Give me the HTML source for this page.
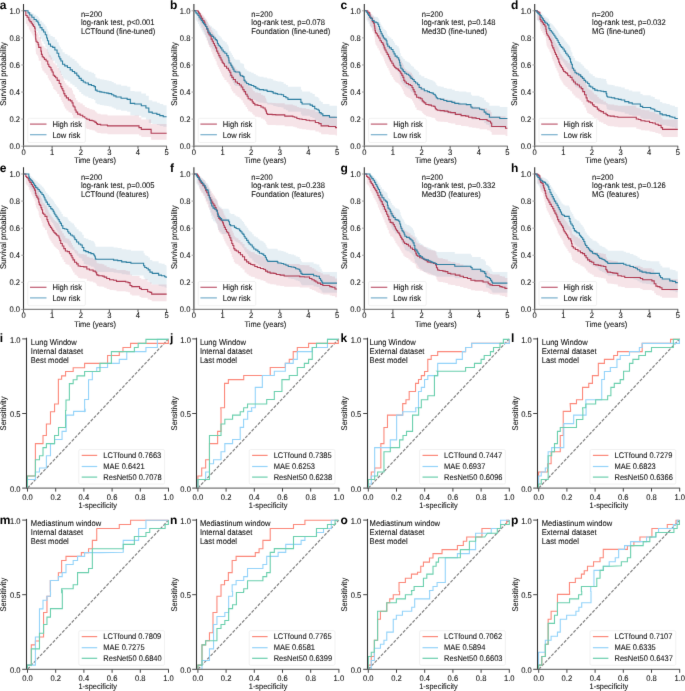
<!DOCTYPE html>
<html><head><meta charset="utf-8"><style>html,body{margin:0;padding:0;background:#fff;width:685px;height:691px;overflow:hidden;position:relative}text{font-family:"Liberation Sans",sans-serif;text-rendering:geometricPrecision}text.n{stroke:#111;stroke-width:0.08px}</style></head><body>
<svg xmlns="http://www.w3.org/2000/svg" width="685" height="691" viewBox="0 0 685 691" style="position:absolute;left:0;top:0;will-change:transform" font-family='"Liberation Sans", sans-serif'>
<defs><filter id="bl" x="0" y="0" width="685" height="691" filterUnits="userSpaceOnUse" color-interpolation-filters="sRGB"><feConvolveMatrix order="3" kernelMatrix="0.0072 0.0847 0.0072 0.0847 1 0.0847 0.0072 0.0847 0.0072" divisor="1.3673" edgeMode="duplicate" preserveAlpha="true"/></filter></defs>
<rect width="685" height="691" fill="#fff"/>
<g filter="url(#bl)">
<rect width="685" height="691" fill="#fff"/>
<path d="M23.53,10.80H27.48V10.80H28.02V11.21H28.57V11.21H29.67V12.19H30.77V12.19H31.86V13.50H32.94V13.50H34.05V14.86H35.15V14.86H36.24V15.96H37.32V15.96H37.88V17.09H38.44V17.09H38.71V18.66H38.98V18.66H40.07V20.69H41.16V20.69H41.99V22.47H42.82V22.47H43.63V24.18H44.45V24.18H45.28V26.37H46.11V26.37H46.65V29.05H47.20V29.05H47.47V31.33H47.74V31.33H48.56V34.22H49.37V34.22H50.47V36.10H51.58V36.10H52.68V37.05H53.78V37.05H54.87V39.43H55.96V39.43H57.06V42.33H58.16V42.33H58.70V45.39H59.25V45.39H59.80V47.36H60.90V49.35H61.45V49.35H62.54V52.36H63.63V52.36H64.73V53.88H65.83V53.88H67.47V55.41H69.12V55.41H70.21V57.58H71.30V57.58H72.40V59.12H73.50V59.12H74.59V60.67H75.67V60.67H76.78V62.75H77.88V62.75H78.26V63.80H78.65V63.80H79.17V65.77H79.68V65.77H81.21V67.74H82.74V67.74H83.26V69.33H83.77V69.33H85.30V70.27H86.84V70.27H88.37V71.87H89.90V71.87H91.44V72.81H92.99V72.81H94.01V73.88H95.02V73.88H95.14V73.88H95.42V77.40H95.71V77.40H96.05V77.40H97.07V78.49H98.08V78.49H99.79V79.17H101.49V79.17H101.83V79.44H102.18V79.44H104.22V79.99H106.27V79.99H106.77V80.40H107.27V80.40H108.82V80.95H110.36V80.95H111.69V82.05H113.02V82.05H113.74V83.15H114.45V83.15H116.04V84.40H117.63V84.40H121.09V85.65H124.56V85.65H127.16V86.76H129.77V86.76H130.34V90.98H130.91V90.98H134.66V91.55H138.41V91.55H141.30V93.39H144.19V93.39H145.92V95.83H147.65V95.83H148.81V100.16H149.97V100.16H152.28V101.48H154.58V101.48H156.88V102.65H159.19V102.65H159.76V103.98H160.33V103.98H163.22V105.17H166.11V105.17H166.60V126.81H166.11V126.81H163.22V125.91H160.33V125.91H159.76V124.88H159.19V124.88H156.88V123.97H154.58V123.97H152.28V122.93H149.97V122.93H148.81V119.42H147.65V119.42H145.92V117.40H144.19V117.40H141.30V115.85H138.41V115.85H134.66V115.37H130.91V115.37H130.34V111.73H129.77V111.73H127.16V110.75H124.56V110.75H121.09V109.64H117.63V109.64H116.04V108.53H114.45V108.53H113.74V107.54H113.02V107.54H111.69V106.54H110.36V106.54H108.82V106.04H107.27V106.04H106.77V105.66H106.27V105.66H104.22V105.16H102.18V105.16H101.83V104.91H101.49V104.91H99.79V104.28H98.08V104.28H97.07V103.28H96.05V103.28H95.71V103.28H95.42V99.98H95.14V99.98H95.02V99.98H94.01V98.95H92.99V98.95H91.44V98.06H89.90V98.06H88.37V96.51H86.84V96.51H85.30V95.61H83.77V95.61H83.26V94.05H82.74V94.05H81.21V92.09H79.68V92.09H79.17V90.12H78.65V90.12H78.26V89.07H77.88V89.07H76.78V86.95H75.67V86.95H74.59V85.35H73.50V85.35H72.40V83.74H71.30V83.74H70.21V81.46H69.12V81.46H67.47V79.83H65.83V79.83H64.73V78.20H63.63V78.20H62.54V74.91H61.45V74.91H60.90V72.70H59.80V70.47H59.25V70.47H58.70V66.96H58.16V66.96H57.06V63.56H55.96V63.56H54.87V60.69H53.78V60.69H52.68V59.54H51.58V59.54H50.47V57.21H49.37V57.21H48.56V53.54H47.74V53.54H47.47V50.57H47.20V50.57H46.65V46.95H46.11V46.95H45.28V43.89H44.45V43.89H43.63V41.41H42.82V41.41H41.99V38.74H41.16V38.74H40.07V35.53H38.98V35.53H38.71V32.92H38.44V32.92H37.88V30.93H37.32V30.93H36.24V28.91H35.15V28.91H34.05V26.15H32.94V26.15H31.86V23.18H30.77V23.18H29.67V20.57H28.57V20.57H28.02V10.80H27.48V10.80H23.53Z" fill="#3a86aa" fill-opacity="0.13" stroke="none"/>
<path d="M23.53,10.80H25.82V10.80H25.82V12.48H27.19V13.50H28.57V13.50H28.84V15.22H29.11V15.22H29.94V16.33H30.77V16.33H31.31V17.48H31.86V17.48H32.40V18.66H32.94V18.66H33.49V19.87H34.03V19.87H34.59V21.10H35.15V21.10H35.15V23.75H35.42V26.37H35.69V26.37H35.69V29.96H35.96V31.79H36.24V31.79H37.05V32.83H37.87V32.83H38.15V34.69H38.44V34.69H38.71V37.05H38.98V37.05H40.61V37.05H40.89V40.39H41.16V40.39H41.43V43.30H41.70V43.30H42.26V45.39H42.82V45.39H43.36V46.37H43.91V46.37H44.45V47.86H44.99V47.86H46.10V49.35H47.20V49.35H47.74V52.36H48.28V52.36H48.83V54.39H49.37V54.39H49.93V55.41H50.49V55.41H51.03V57.58H51.58V57.58H52.12V59.64H52.66V59.64H53.22V62.75H53.78V62.75H54.47V63.80H55.15V63.80H55.65V65.24H56.16V65.24H57.19V67.74H58.22V67.74H59.23V70.80H60.25V70.80H60.76V73.88H61.28V73.88H61.79V75.90H62.31V75.90H62.81V77.94H63.31V77.94H63.83V80.95H64.34V80.95H64.86V83.15H65.37V83.15H66.39V85.23H67.40V85.23H68.43V87.32H69.46V87.32H70.48V88.30H71.50V88.30H72.01V90.41H72.53V90.41H73.04V93.68H73.56V93.68H74.06V94.82H74.56V94.82H75.07V97.99H75.59V97.99H76.10V100.16H76.62V100.16H77.63V102.36H78.65V102.36H80.20V103.54H81.74V103.54H82.76V105.17H83.77V105.17H84.79V106.95H85.81V106.95H86.84V108.00H87.87V108.00H89.40V109.21H90.93V109.21H92.17V109.66H93.42V109.66H93.70V110.27H93.99V110.27H95.02V111.48H96.05V111.48H96.47V112.86H96.88V112.86H97.48V113.78H98.08V113.78H100.65V114.40H103.21V114.40H107.27V114.40H107.29V114.86H107.30V114.86H107.57V115.49H107.84V115.49H138.41V115.49H139.00V117.52H139.58V117.52H141.31V119.58H143.05V119.58H149.97V119.58H151.12V124.11H152.26V124.11H166.69V124.11H166.60V139.65H166.69V139.65H152.26V139.65H151.12V136.91H149.97V136.91H143.05V136.91H141.31V135.58H139.58V135.58H139.00V134.23H138.41V134.23H107.84V134.23H107.57V133.81H107.30V133.81H107.29V133.49H107.27V133.49H103.21V133.49H100.65V133.07H98.08V133.07H97.48V132.43H96.88V132.43H96.47V131.46H96.05V131.46H95.02V130.59H93.99V130.59H93.70V130.15H93.42V130.15H92.17V129.82H90.93V129.82H89.40V128.94H87.87V128.94H86.84V128.16H85.81V128.16H84.79V126.81H83.77V126.81H82.76V125.57H81.74V125.57H80.20V124.65H78.65V124.65H77.63V122.93H76.62V122.93H76.10V121.18H75.59V121.18H75.07V118.59H74.56V118.59H74.06V117.64H73.56V117.64H73.04V114.89H72.53V114.89H72.01V113.07H71.50V113.07H70.48V112.22H69.46V112.22H68.43V110.38H67.40V110.38H66.39V108.53H65.37V108.53H64.86V106.54H64.34V106.54H63.83V103.78H63.31V103.78H62.81V101.88H62.31V101.88H61.79V99.98H61.28V99.98H60.76V97.03H60.25V97.03H59.23V94.05H58.22V94.05H57.19V91.57H56.16V91.57H55.65V90.12H55.15V90.12H54.47V89.07H53.78V89.07H53.22V85.88H52.66V85.88H52.12V83.74H51.58V83.74H51.03V81.46H50.49V81.46H49.93V80.37H49.37V80.37H48.83V78.20H48.28V78.20H47.74V74.91H47.20V74.91H46.10V73.25H44.99V73.25H44.45V71.59H43.91V71.59H43.36V70.47H42.82V70.47H42.26V68.09H41.70V68.09H41.43V64.70H41.16V64.70H40.89V60.69H40.61V60.69H38.98V60.69H38.71V57.80H38.44V57.80H38.15V55.46H37.87V55.46H37.05V54.14H36.24V54.14H35.96V51.76H35.69V46.95H35.69V46.95H35.42V43.27H35.15V39.37H35.15V39.37H34.59V37.46H34.03V37.46H33.49V35.53H32.94V35.53H32.40V33.58H31.86V33.58H31.31V31.60H30.77V31.60H29.94V29.58H29.11V29.58H28.84V26.15H28.57V26.15H27.19V23.88H25.82V10.80H25.82V10.80H23.53Z" fill="#c0405a" fill-opacity="0.14" stroke="none"/>
<path d="M23.53,10.80H25.82V10.80H25.82V15.54H27.19V17.30H28.57V17.30H28.84V20.01H29.11V20.01H29.94V21.63H30.77V21.63H31.31V23.26H31.86V23.26H32.40V24.88H32.94V24.88H33.49V26.51H34.03V26.51H34.59V28.13H35.15V28.13H35.15V31.52H35.42V34.77H35.69V34.77H35.69V39.10H35.96V41.26H36.24V41.26H37.05V42.48H37.87V42.48H38.15V44.65H38.44V44.65H38.71V47.36H38.98V47.36H40.61V47.36H40.89V51.15H41.16V51.15H41.43V54.40H41.70V54.40H42.26V56.70H42.82V56.70H43.36V57.78H43.91V57.78H44.45V59.41H44.99V59.41H46.10V61.03H47.20V61.03H47.74V64.28H48.28V64.28H48.83V66.45H49.37V66.45H49.93V67.53H50.49V67.53H51.03V69.83H51.58V69.83H52.12V72.00H52.66V72.00H53.22V75.25H53.78V75.25H54.47V76.33H55.15V76.33H55.65V77.82H56.16V77.82H57.19V80.40H58.22V80.40H59.23V83.51H60.25V83.51H60.76V86.62H61.28V86.62H61.79V88.65H62.31V88.65H62.81V90.69H63.31V90.69H63.83V93.66H64.34V93.66H64.86V95.83H65.37V95.83H66.39V97.86H67.40V97.86H68.43V99.89H69.46V99.89H70.48V100.84H71.50V100.84H72.01V102.87H72.53V102.87H73.04V105.99H73.56V105.99H74.06V107.07H74.56V107.07H75.07V110.05H75.59V110.05H76.10V112.08H76.62V112.08H77.63V114.11H78.65V114.11H80.20V115.19H81.74V115.19H82.76V116.68H83.77V116.68H84.79V118.31H85.81V118.31H86.84V119.26H87.87V119.26H89.40V120.34H90.93V120.34H92.17V120.74H93.42V120.74H93.70V121.29H93.99V121.29H95.02V122.37H96.05V122.37H96.47V123.59H96.88V123.59H97.48V124.40H98.08V124.40H100.65V124.94H103.21V124.94H107.27V124.94H107.29V125.35H107.30V125.35H107.57V125.89H107.84V125.89H138.41V125.89H139.00V127.65H139.58V127.65H141.31V129.41H143.05V129.41H149.97V129.41H151.12V133.20H152.26V133.20H166.69V133.20H166.60" fill="none" stroke="#b03a52" stroke-width="1.1"/>
<path d="M23.53,10.80H27.48V10.80H28.02V12.83H28.57V12.83H29.67V15.00H30.77V15.00H31.86V17.30H32.94V17.30H34.05V19.47H35.15V19.47H36.24V21.09H37.32V21.09H37.88V22.72H38.44V22.72H38.71V24.88H38.98V24.88H40.07V27.59H41.16V27.59H41.99V29.89H42.82V29.89H43.63V32.06H44.45V32.06H45.28V34.77H46.11V34.77H46.65V38.02H47.20V38.02H47.47V40.72H47.74V40.72H48.56V44.11H49.37V44.11H50.47V46.27H51.58V46.27H52.68V47.36H53.78V47.36H54.87V50.07H55.96V50.07H57.06V53.32H58.16V53.32H58.70V56.70H59.25V56.70H59.80V58.87H60.90V61.03H61.45V61.03H62.54V64.28H63.63V64.28H64.73V65.91H65.83V65.91H67.47V67.53H69.12V67.53H70.21V69.83H71.30V69.83H72.40V71.46H73.50V71.46H74.59V73.08H75.67V73.08H76.78V75.25H77.88V75.25H78.26V76.33H78.65V76.33H79.17V78.36H79.68V78.36H81.21V80.40H82.74V80.40H83.26V82.02H83.77V82.02H85.30V82.97H86.84V82.97H88.37V84.59H89.90V84.59H91.44V85.54H92.99V85.54H94.01V86.62H95.02V86.62H95.14V86.62H95.42V90.14H95.71V90.14H96.05V90.14H97.07V91.23H98.08V91.23H99.79V91.90H101.49V91.90H101.83V92.18H102.18V92.18H104.22V92.72H106.27V92.72H106.77V93.12H107.27V93.12H108.82V93.66H110.36V93.66H111.69V94.75H113.02V94.75H113.74V95.83H114.45V95.83H116.04V97.05H117.63V97.05H121.09V98.27H124.56V98.27H127.16V99.35H129.77V99.35H130.34V103.41H130.91V103.41H134.66V103.96H138.41V103.96H141.30V105.72H144.19V105.72H145.92V108.02H147.65V108.02H148.81V112.08H149.97V112.08H152.28V113.30H154.58V113.30H156.88V114.38H159.19V114.38H159.76V115.60H160.33V115.60H163.22V116.68H166.11V116.68H166.60" fill="none" stroke="#2c7ea0" stroke-width="1.1"/>
<line x1="23.50" y1="4.03" x2="23.50" y2="146.70" stroke="#333" stroke-width="1.1" />
<line x1="23.00" y1="146.20" x2="167.00" y2="146.20" stroke="#888" stroke-width="1.2" />
<line x1="21.20" y1="146.20" x2="23.50" y2="146.20" stroke="#999" stroke-width="0.9" />
<text class="n" transform="translate(20.00,148.90) scale(1,1.08)" font-size="7.6" text-anchor="end" font-weight="normal" fill="#111" >0.0</text>
<line x1="21.20" y1="119.12" x2="23.50" y2="119.12" stroke="#999" stroke-width="0.9" />
<text class="n" transform="translate(20.00,121.82) scale(1,1.08)" font-size="7.6" text-anchor="end" font-weight="normal" fill="#111" >0.2</text>
<line x1="21.20" y1="92.04" x2="23.50" y2="92.04" stroke="#999" stroke-width="0.9" />
<text class="n" transform="translate(20.00,94.74) scale(1,1.08)" font-size="7.6" text-anchor="end" font-weight="normal" fill="#111" >0.4</text>
<line x1="21.20" y1="64.96" x2="23.50" y2="64.96" stroke="#999" stroke-width="0.9" />
<text class="n" transform="translate(20.00,67.66) scale(1,1.08)" font-size="7.6" text-anchor="end" font-weight="normal" fill="#111" >0.6</text>
<line x1="21.20" y1="37.88" x2="23.50" y2="37.88" stroke="#999" stroke-width="0.9" />
<text class="n" transform="translate(20.00,40.58) scale(1,1.08)" font-size="7.6" text-anchor="end" font-weight="normal" fill="#111" >0.8</text>
<line x1="21.20" y1="10.80" x2="23.50" y2="10.80" stroke="#999" stroke-width="0.9" />
<text class="n" transform="translate(20.00,13.50) scale(1,1.08)" font-size="7.6" text-anchor="end" font-weight="normal" fill="#111" >1.0</text>
<line x1="23.50" y1="146.20" x2="23.50" y2="148.80" stroke="#444" stroke-width="0.9" />
<text class="n" transform="translate(23.50,154.80) scale(1,1.08)" font-size="7.6" text-anchor="middle" font-weight="normal" fill="#111" >0</text>
<line x1="52.12" y1="146.20" x2="52.12" y2="148.80" stroke="#444" stroke-width="0.9" />
<text class="n" transform="translate(52.12,154.80) scale(1,1.08)" font-size="7.6" text-anchor="middle" font-weight="normal" fill="#111" >1</text>
<line x1="80.74" y1="146.20" x2="80.74" y2="148.80" stroke="#444" stroke-width="0.9" />
<text class="n" transform="translate(80.74,154.80) scale(1,1.08)" font-size="7.6" text-anchor="middle" font-weight="normal" fill="#111" >2</text>
<line x1="109.36" y1="146.20" x2="109.36" y2="148.80" stroke="#444" stroke-width="0.9" />
<text class="n" transform="translate(109.36,154.80) scale(1,1.08)" font-size="7.6" text-anchor="middle" font-weight="normal" fill="#111" >3</text>
<line x1="137.98" y1="146.20" x2="137.98" y2="148.80" stroke="#444" stroke-width="0.9" />
<text class="n" transform="translate(137.98,154.80) scale(1,1.08)" font-size="7.6" text-anchor="middle" font-weight="normal" fill="#111" >4</text>
<line x1="166.60" y1="146.20" x2="166.60" y2="148.80" stroke="#444" stroke-width="0.9" />
<text class="n" transform="translate(166.60,154.80) scale(1,1.08)" font-size="7.6" text-anchor="middle" font-weight="normal" fill="#111" >5</text>
<text class="n" transform="translate(95.05,163.40) scale(1,1.08)" font-size="7.5" text-anchor="middle" font-weight="normal" fill="#111" >Time (years)</text>
<text transform="translate(6.10,74.00) rotate(-90) scale(1,1.08)" class="n" font-size="7.6" text-anchor="middle" fill="#111">Survival probability</text>
<text class="n" transform="translate(80.90,16.60) scale(1,1.08)" font-size="7.6" text-anchor="start" font-weight="normal" fill="#111" >n=200</text>
<text class="n" transform="translate(80.90,24.90) scale(1,1.08)" font-size="7.6" text-anchor="start" font-weight="normal" fill="#111" >log-rank test, p&lt;0.001</text>
<text class="n" transform="translate(80.90,33.60) scale(1,1.08)" font-size="7.6" text-anchor="start" font-weight="normal" fill="#111" >LCTfound (fine-tuned)</text>
<rect x="27.80" y="118.30" width="57.6" height="24.2" rx="1.5" fill="#fff" fill-opacity="0.8" stroke="#ebebeb" stroke-width="0.7"/>
<line x1="30.00" y1="124.10" x2="46.50" y2="124.10" stroke="#bf5c72" stroke-width="1.2" />
<line x1="30.00" y1="134.70" x2="46.50" y2="134.70" stroke="#78afcc" stroke-width="1.2" />
<text class="n" transform="translate(52.40,126.90) scale(1,1.08)" font-size="7.6" text-anchor="start" font-weight="normal" fill="#111" >High risk</text>
<text class="n" transform="translate(52.40,137.50) scale(1,1.08)" font-size="7.6" text-anchor="start" font-weight="normal" fill="#111" >Low risk</text>
<text transform="translate(-0.30,8.90) scale(1,1.0)" font-size="12.0" text-anchor="start" font-weight="bold" fill="#000" >a</text>
<path d="M193.90,10.80H195.27V10.80H195.83V11.21H196.39V11.21H196.93V11.66H197.48V11.66H198.02V12.48H198.57V12.48H199.11V13.50H199.65V13.50H200.21V14.51H200.77V14.51H201.31V15.59H201.86V15.59H202.40V16.71H202.94V16.71H203.49V17.87H204.03V17.87H204.59V18.66H205.15V18.66H205.69V19.87H206.24V19.87H206.78V21.52H207.32V21.52H207.88V23.32H208.44V23.32H208.98V25.05H209.53V25.05H210.34V26.37H211.16V26.37H211.99V27.70H212.82V27.70H213.63V29.05H214.45V29.05H215.28V30.41H216.11V30.41H216.65V31.33H217.20V31.33H217.47V33.76H217.74V33.76H218.28V35.16H218.83V35.16H219.39V36.10H219.94V36.10H220.49V37.52H221.03V37.52H221.85V39.43H222.66V39.43H223.22V40.88H223.78V40.88H224.87V42.33H225.95V42.33H226.78V44.40H227.61V44.40H228.16V46.37H228.70V46.37H228.83V48.79H229.09V51.23H229.22V51.23H229.79V51.23H230.33V51.23H230.81V53.12H231.28V53.12H231.36V53.37H231.45V53.37H231.88V55.02H232.31V55.02H232.54V55.02H232.92V56.94H233.31V56.94H233.62V56.94H233.98V58.87H234.34V58.87H234.71V58.87H235.27V59.64H235.83V59.64H237.40V59.64H239.12V59.64H239.29V59.90H239.46V59.90H239.84V61.71H240.21V61.71H240.35V63.28H240.49V63.28H241.29V63.28H242.40V63.80H243.50V63.80H243.53V64.32H243.56V64.32H244.06V67.74H244.56V67.74H245.07V69.33H245.59V69.33H246.62V70.80H247.65V70.80H248.66V71.87H249.68V71.87H251.21V72.81H252.74V72.81H253.77V73.88H254.80V73.88H255.82V75.36H256.84V75.36H257.87V76.31H258.90V76.31H259.43V76.85H259.95V76.85H261.96V76.85H263.49V77.40H265.02V77.40H266.88V77.40H266.98V77.94H267.08V77.94H267.27V78.62H267.45V78.62H270.14V78.62H271.16V78.90H272.18V78.90H272.40V79.17H272.63V79.17H273.22V80.40H273.81V80.40H274.24V80.40H275.75V80.95H277.27V80.95H277.30V80.95H277.57V81.50H277.84V81.50H280.36V81.50H281.38V82.05H282.39V82.05H283.02V82.05H283.61V83.84H284.20V83.84H285.91V85.09H287.63V85.09H287.93V86.76H288.23V86.76H300.34V86.76H300.91V89.85H301.48V89.85H302.07V91.55H302.66V91.55H309.58V91.55H310.15V92.82H310.73V92.82H312.46V94.11H314.19V94.11H314.76V96.54H315.33V96.54H316.49V97.12H317.65V97.12H318.23V98.28H318.80V98.28H319.38V100.75H319.97V100.75H321.12V102.07H322.26V102.07H322.85V103.98H323.43V103.98H329.19V103.98H329.47V105.76H329.76V105.76H336.11V105.76H337.00V127.26H336.11V127.26H329.76V127.26H329.47V125.91H329.19V125.91H323.43V125.91H322.85V124.42H322.26V124.42H321.12V123.39H319.97V123.39H319.38V121.42H318.80V121.42H318.23V120.48H317.65V120.48H316.49V120.01H315.33V120.01H314.76V118.00H314.19V118.00H312.46V116.93H310.73V116.93H310.15V115.85H309.58V115.85H302.66V115.85H302.07V114.40H301.48V114.40H300.91V111.73H300.34V111.73H288.23V111.73H287.93V110.26H287.63V110.26H285.91V109.15H284.20V109.15H283.61V107.54H283.02V107.54H282.39V107.54H281.38V107.04H280.36V107.04H277.84V107.04H277.57V106.54H277.30V106.54H277.27V106.54H275.75V106.04H274.24V106.04H273.81V106.04H273.22V104.91H272.63V104.91H272.40V104.66H272.18V104.66H271.16V104.41H270.14V104.41H267.45V104.41H267.27V103.78H267.08V103.78H266.98V103.28H266.88V103.28H265.02V103.28H263.49V102.77H261.96V102.77H259.95V102.77H259.43V102.26H258.90V102.26H257.87V101.38H256.84V101.38H255.82V99.98H254.80V99.98H253.77V98.95H252.74V98.95H251.21V98.06H249.68V98.06H248.66V97.03H247.65V97.03H246.62V95.61H245.59V95.61H245.07V94.05H244.56V94.05H244.06V90.65H243.56V90.65H243.53V90.12H243.50V90.12H242.40V89.60H241.29V89.60H240.49V89.60H240.35V88.01H240.21V88.01H239.84V86.15H239.46V86.15H239.29V85.88H239.12V85.88H237.40V85.88H235.83V85.88H235.27V85.08H234.71V85.08H234.34V85.08H233.98V83.07H233.62V83.07H233.31V83.07H232.92V81.05H232.54V81.05H232.31V81.05H231.88V79.29H231.45V79.29H231.36V79.02H231.28V79.02H230.81V76.97H230.33V76.97H229.79V76.97H229.22V76.97H229.09V74.29H228.83V71.59H228.70V71.59H228.16V69.35H227.61V69.35H226.78V66.96H225.95V66.96H224.87V65.27H223.78V65.27H223.22V63.56H222.66V63.56H221.85V61.27H221.03V61.27H220.49V59.54H219.94V59.54H219.39V58.38H218.83V58.38H218.28V56.63H217.74V56.63H217.47V53.54H217.20V53.54H216.65V52.36H216.11V52.36H215.28V50.57H214.45V50.57H213.63V48.77H212.82V48.77H211.99V46.95H211.16V46.95H210.34V45.12H209.53V45.12H208.98V42.66H208.44V42.66H207.88V40.00H207.32V40.00H206.78V37.46H206.24V37.46H205.69V35.53H205.15V35.53H204.59V34.23H204.03V34.23H203.49V32.26H202.94V32.26H202.40V30.26H201.86V30.26H201.31V28.22H200.77V28.22H200.21V26.15H199.65V26.15H199.11V23.88H198.57V23.88H198.02V21.80H197.48V21.80H196.93V20.57H196.39V20.57H195.83V10.80H195.27V10.80H193.90Z" fill="#3a86aa" fill-opacity="0.13" stroke="none"/>
<path d="M193.90,10.80H198.02V10.80H198.02V10.84H198.57V11.21H199.11V11.21H199.38V11.66H199.65V11.66H200.21V12.78H200.77V12.78H201.31V14.17H201.86V14.17H202.67V15.59H203.49V15.59H204.05V16.71H204.60V16.71H204.88V18.26H205.15V18.26H205.69V19.87H206.24V19.87H206.78V21.94H207.32V21.94H207.88V24.62H208.44V24.62H208.98V26.37H209.53V26.37H210.07V27.26H210.61V27.26H211.16V29.96H211.70V29.96H212.26V31.79H212.82V31.79H213.36V33.76H213.91V33.76H214.45V35.63H214.99V35.63H215.55V37.52H216.11V37.52H216.65V40.39H217.20V40.39H217.74V42.33H218.28V42.33H218.83V44.40H219.37V44.40H219.93V46.37H220.49V46.37H221.03V48.35H221.58V48.35H222.12V50.35H222.66V50.35H222.88V51.23H223.09V51.23H223.44V51.86H223.78V51.86H224.47V54.14H225.15V54.14H225.95V54.14H226.57V56.04H227.19V56.04H227.61V56.04H228.42V57.97H229.22V57.97H229.25V57.97H229.75V59.90H230.25V59.90H230.33V59.90H230.81V62.88H231.28V62.88H231.45V62.88H231.88V64.85H232.31V64.85H233.32V66.82H234.34V66.82H235.37V69.33H236.40V69.33H237.42V70.80H238.43V70.80H239.46V72.27H240.49V72.27H241.25V74.28H242.01V74.28H242.78V76.85H243.56V76.85H244.06V78.90H244.56V78.90H245.59V81.50H246.62V81.50H247.13V83.57H247.65V83.57H248.15V86.21H248.65V86.21H250.20V87.32H251.74V87.32H252.24V89.43H252.74V89.43H253.26V90.98H253.77V90.98H254.79V92.54H255.81V92.54H257.85V93.11H259.90V93.11H260.93V94.82H261.96V94.82H262.24V94.82H263.12V95.83H263.99V95.83H264.56V95.83H265.14V97.70H265.71V97.70H265.88V99.15H266.05V99.15H266.47V101.48H266.88V101.48H266.98V101.92H267.08V101.92H267.55V102.65H268.03V102.65H270.14V102.65H272.19V102.95H274.24V102.95H275.75V103.24H277.27V103.24H284.77V104.57H292.27V104.57H292.84V105.17H293.41V105.17H294.57V105.76H295.73V105.76H296.87V107.10H298.02V107.10H299.18V107.70H300.34V107.70H302.07V108.30H303.80V108.30H306.10V109.06H308.41V109.06H309.57V109.66H310.73V109.66H313.05V109.66H315.35V111.63H317.65V111.63H318.81V112.86H319.97V112.86H321.12V115.49H322.26V115.49H328.61V116.26H334.97V116.26H335.54V117.52H336.11V117.52H337.00V135.58H336.11V135.58H335.54V134.76H334.97V134.76H328.61V134.23H322.26V134.23H321.12V132.43H319.97V132.43H318.81V131.57H317.65V131.57H315.35V130.15H313.05V130.15H310.73V130.15H309.57V129.71H308.41V129.71H306.10V129.16H303.80V129.16H302.07V128.72H300.34V128.72H299.18V128.27H298.02V128.27H296.87V127.26H295.73V127.26H294.57V126.81H293.41V126.81H292.84V126.36H292.27V126.36H284.77V125.34H277.27V125.34H275.75V125.11H274.24V125.11H272.19V124.88H270.14V124.88H268.03V124.88H267.55V124.31H267.08V124.31H266.98V123.97H266.88V123.97H266.47V122.12H266.05V122.12H265.88V120.95H265.71V120.95H265.14V119.42H264.56V119.42H263.99V119.42H263.12V118.59H262.24V118.59H261.96V118.59H260.93V117.17H259.90V117.17H257.85V116.69H255.81V116.69H254.79V115.37H253.77V115.37H253.26V114.04H252.74V114.04H252.24V112.22H251.74V112.22H250.20V111.24H248.65V111.24H248.15V108.90H247.65V108.90H247.13V107.04H246.62V107.04H245.59V104.66H244.56V104.66H244.06V102.77H243.56V102.77H242.78V100.36H242.01V100.36H241.25V98.44H240.49V98.44H239.46V97.03H238.43V97.03H237.42V95.61H236.40V95.61H235.37V93.14H234.34V93.14H233.32V91.17H232.31V91.17H231.88V89.20H231.45V89.20H231.28V89.20H230.81V86.15H230.33V86.15H230.25V86.15H229.75V84.15H229.25V84.15H229.22V84.15H228.42V82.13H227.61V82.13H227.19V82.13H226.57V80.10H225.95V80.10H225.15V80.10H224.47V77.65H223.78V77.65H223.44V76.97H223.09V76.97H222.88V76.01H222.66V76.01H222.12V73.81H221.58V73.81H221.03V71.59H220.49V71.59H219.93V69.35H219.37V69.35H218.83V66.96H218.28V66.96H217.74V64.70H217.20V64.70H216.65V61.27H216.11V61.27H215.55V58.96H214.99V58.96H214.45V56.63H213.91V56.63H213.36V54.14H212.82V54.14H212.26V51.76H211.70V51.76H211.16V48.17H210.61V48.17H210.07V46.95H209.53V46.95H208.98V44.51H208.44V44.51H207.88V40.63H207.32V40.63H206.78V37.46H206.24V37.46H205.69V34.89H205.15V34.89H204.88V32.26H204.60V32.26H204.05V30.26H203.49V30.26H202.67V27.54H201.86V27.54H201.31V24.58H200.77V24.58H200.21V21.80H199.65V21.80H199.38V20.57H199.11V20.57H198.57V21.23H198.02V10.80H198.02V10.80H193.90Z" fill="#c0405a" fill-opacity="0.14" stroke="none"/>
<path d="M193.90,10.80H198.02V10.80H198.02V11.48H198.57V12.83H199.11V12.83H199.38V13.91H199.65V13.91H200.21V16.08H200.77V16.08H201.31V18.38H201.86V18.38H202.67V20.55H203.49V20.55H204.05V22.17H204.60V22.17H204.88V24.34H205.15V24.34H205.69V26.51H206.24V26.51H206.78V29.21H207.32V29.21H207.88V32.60H208.44V32.60H208.98V34.77H209.53V34.77H210.07V35.85H210.61V35.85H211.16V39.10H211.70V39.10H212.26V41.26H212.82V41.26H213.36V43.57H213.91V43.57H214.45V45.73H214.99V45.73H215.55V47.90H216.11V47.90H216.65V51.15H217.20V51.15H217.74V53.32H218.28V53.32H218.83V55.62H219.37V55.62H219.93V57.78H220.49V57.78H221.03V59.95H221.58V59.95H222.12V62.12H222.66V62.12H222.88V63.06H223.09V63.06H223.44V63.74H223.78V63.74H224.47V66.18H225.15V66.18H225.95V66.18H226.57V68.21H227.19V68.21H227.61V68.21H228.42V70.24H229.22V70.24H229.25V70.24H229.75V72.27H230.25V72.27H230.33V72.27H230.81V75.39H231.28V75.39H231.45V75.39H231.88V77.42H232.31V77.42H233.32V79.45H234.34V79.45H235.37V82.02H236.40V82.02H237.42V83.51H238.43V83.51H239.46V85.00H240.49V85.00H241.25V87.03H242.01V87.03H242.78V89.60H243.56V89.60H244.06V91.63H244.56V91.63H245.59V94.21H246.62V94.21H247.13V96.24H247.65V96.24H248.15V98.81H248.65V98.81H250.20V99.89H251.74V99.89H252.24V101.92H252.74V101.92H253.26V103.41H253.77V103.41H254.79V104.90H255.81V104.90H257.85V105.44H259.90V105.44H260.93V107.07H261.96V107.07H262.24V107.07H263.12V108.02H263.99V108.02H264.56V108.02H265.14V109.78H265.71V109.78H265.88V111.13H266.05V111.13H266.47V113.30H266.88V113.30H266.98V113.70H267.08V113.70H267.55V114.38H268.03V114.38H270.14V114.38H272.19V114.65H274.24V114.65H275.75V114.92H277.27V114.92H284.77V116.14H292.27V116.14H292.84V116.68H293.41V116.68H294.57V117.22H295.73V117.22H296.87V118.44H298.02V118.44H299.18V118.98H300.34V118.98H302.07V119.53H303.80V119.53H306.10V120.20H308.41V120.20H309.57V120.74H310.73V120.74H313.05V120.74H315.35V122.50H317.65V122.50H318.81V123.59H319.97V123.59H321.12V125.89H322.26V125.89H328.61V126.57H334.97V126.57H335.54V127.65H336.11V127.65H337.00" fill="none" stroke="#b03a52" stroke-width="1.1"/>
<path d="M193.90,10.80H195.27V10.80H195.83V12.83H196.39V12.83H196.93V13.91H197.48V13.91H198.02V15.54H198.57V15.54H199.11V17.30H199.65V17.30H200.21V18.92H200.77V18.92H201.31V20.55H201.86V20.55H202.40V22.17H202.94V22.17H203.49V23.80H204.03V23.80H204.59V24.88H205.15V24.88H205.69V26.51H206.24V26.51H206.78V28.67H207.32V28.67H207.88V30.97H208.44V30.97H208.98V33.14H209.53V33.14H210.34V34.77H211.16V34.77H211.99V36.39H212.82V36.39H213.63V38.02H214.45V38.02H215.28V39.64H216.11V39.64H216.65V40.72H217.20V40.72H217.47V43.57H217.74V43.57H218.28V45.19H218.83V45.19H219.39V46.27H219.94V46.27H220.49V47.90H221.03V47.90H221.85V50.07H222.66V50.07H223.22V51.69H223.78V51.69H224.87V53.32H225.95V53.32H226.78V55.62H227.61V55.62H228.16V57.78H228.70V57.78H228.83V60.42H229.09V63.06H229.22V63.06H229.79V63.06H230.33V63.06H230.81V65.10H231.28V65.10H231.36V65.37H231.45V65.37H231.88V67.13H232.31V67.13H232.54V67.13H232.92V69.16H233.31V69.16H233.62V69.16H233.98V71.19H234.34V71.19H234.71V71.19H235.27V72.00H235.83V72.00H237.40V72.00H239.12V72.00H239.29V72.27H239.46V72.27H239.84V74.17H240.21V74.17H240.35V75.79H240.49V75.79H241.29V75.79H242.40V76.33H243.50V76.33H243.53V76.88H243.56V76.88H244.06V80.40H244.56V80.40H245.07V82.02H245.59V82.02H246.62V83.51H247.65V83.51H248.66V84.59H249.68V84.59H251.21V85.54H252.74V85.54H253.77V86.62H254.80V86.62H255.82V88.11H256.84V88.11H257.87V89.06H258.90V89.06H259.43V89.60H259.95V89.60H261.96V89.60H263.49V90.14H265.02V90.14H266.88V90.14H266.98V90.69H267.08V90.69H267.27V91.36H267.45V91.36H270.14V91.36H271.16V91.63H272.18V91.63H272.40V91.90H272.63V91.90H273.22V93.12H273.81V93.12H274.24V93.12H275.75V93.66H277.27V93.66H277.30V93.66H277.57V94.21H277.84V94.21H280.36V94.21H281.38V94.75H282.39V94.75H283.02V94.75H283.61V96.51H284.20V96.51H285.91V97.73H287.63V97.73H287.93V99.35H288.23V99.35H300.34V99.35H300.91V102.33H301.48V102.33H302.07V103.96H302.66V103.96H309.58V103.96H310.15V105.17H310.73V105.17H312.46V106.39H314.19V106.39H314.76V108.69H315.33V108.69H316.49V109.24H317.65V109.24H318.23V110.32H318.80V110.32H319.38V112.62H319.97V112.62H321.12V113.84H322.26V113.84H322.85V115.60H323.43V115.60H329.19V115.60H329.47V117.22H329.76V117.22H336.11V117.22H337.00" fill="none" stroke="#2c7ea0" stroke-width="1.1"/>
<line x1="193.90" y1="4.03" x2="193.90" y2="146.70" stroke="#333" stroke-width="1.1" />
<line x1="193.40" y1="146.20" x2="337.40" y2="146.20" stroke="#888" stroke-width="1.2" />
<line x1="191.60" y1="146.20" x2="193.90" y2="146.20" stroke="#999" stroke-width="0.9" />
<text class="n" transform="translate(190.40,148.90) scale(1,1.08)" font-size="7.6" text-anchor="end" font-weight="normal" fill="#111" >0.0</text>
<line x1="191.60" y1="119.12" x2="193.90" y2="119.12" stroke="#999" stroke-width="0.9" />
<text class="n" transform="translate(190.40,121.82) scale(1,1.08)" font-size="7.6" text-anchor="end" font-weight="normal" fill="#111" >0.2</text>
<line x1="191.60" y1="92.04" x2="193.90" y2="92.04" stroke="#999" stroke-width="0.9" />
<text class="n" transform="translate(190.40,94.74) scale(1,1.08)" font-size="7.6" text-anchor="end" font-weight="normal" fill="#111" >0.4</text>
<line x1="191.60" y1="64.96" x2="193.90" y2="64.96" stroke="#999" stroke-width="0.9" />
<text class="n" transform="translate(190.40,67.66) scale(1,1.08)" font-size="7.6" text-anchor="end" font-weight="normal" fill="#111" >0.6</text>
<line x1="191.60" y1="37.88" x2="193.90" y2="37.88" stroke="#999" stroke-width="0.9" />
<text class="n" transform="translate(190.40,40.58) scale(1,1.08)" font-size="7.6" text-anchor="end" font-weight="normal" fill="#111" >0.8</text>
<line x1="191.60" y1="10.80" x2="193.90" y2="10.80" stroke="#999" stroke-width="0.9" />
<text class="n" transform="translate(190.40,13.50) scale(1,1.08)" font-size="7.6" text-anchor="end" font-weight="normal" fill="#111" >1.0</text>
<line x1="193.90" y1="146.20" x2="193.90" y2="148.80" stroke="#444" stroke-width="0.9" />
<text class="n" transform="translate(193.90,154.80) scale(1,1.08)" font-size="7.6" text-anchor="middle" font-weight="normal" fill="#111" >0</text>
<line x1="222.52" y1="146.20" x2="222.52" y2="148.80" stroke="#444" stroke-width="0.9" />
<text class="n" transform="translate(222.52,154.80) scale(1,1.08)" font-size="7.6" text-anchor="middle" font-weight="normal" fill="#111" >1</text>
<line x1="251.14" y1="146.20" x2="251.14" y2="148.80" stroke="#444" stroke-width="0.9" />
<text class="n" transform="translate(251.14,154.80) scale(1,1.08)" font-size="7.6" text-anchor="middle" font-weight="normal" fill="#111" >2</text>
<line x1="279.76" y1="146.20" x2="279.76" y2="148.80" stroke="#444" stroke-width="0.9" />
<text class="n" transform="translate(279.76,154.80) scale(1,1.08)" font-size="7.6" text-anchor="middle" font-weight="normal" fill="#111" >3</text>
<line x1="308.38" y1="146.20" x2="308.38" y2="148.80" stroke="#444" stroke-width="0.9" />
<text class="n" transform="translate(308.38,154.80) scale(1,1.08)" font-size="7.6" text-anchor="middle" font-weight="normal" fill="#111" >4</text>
<line x1="337.00" y1="146.20" x2="337.00" y2="148.80" stroke="#444" stroke-width="0.9" />
<text class="n" transform="translate(337.00,154.80) scale(1,1.08)" font-size="7.6" text-anchor="middle" font-weight="normal" fill="#111" >5</text>
<text class="n" transform="translate(265.45,163.40) scale(1,1.08)" font-size="7.5" text-anchor="middle" font-weight="normal" fill="#111" >Time (years)</text>
<text transform="translate(176.50,74.00) rotate(-90) scale(1,1.08)" class="n" font-size="7.6" text-anchor="middle" fill="#111">Survival probability</text>
<text class="n" transform="translate(251.30,16.60) scale(1,1.08)" font-size="7.6" text-anchor="start" font-weight="normal" fill="#111" >n=200</text>
<text class="n" transform="translate(251.30,24.90) scale(1,1.08)" font-size="7.6" text-anchor="start" font-weight="normal" fill="#111" >log-rank test, p=0.078</text>
<text class="n" transform="translate(251.30,33.60) scale(1,1.08)" font-size="7.6" text-anchor="start" font-weight="normal" fill="#111" >Foundation (fine-tuned)</text>
<rect x="198.20" y="118.30" width="57.6" height="24.2" rx="1.5" fill="#fff" fill-opacity="0.8" stroke="#ebebeb" stroke-width="0.7"/>
<line x1="200.40" y1="124.10" x2="216.90" y2="124.10" stroke="#bf5c72" stroke-width="1.2" />
<line x1="200.40" y1="134.70" x2="216.90" y2="134.70" stroke="#78afcc" stroke-width="1.2" />
<text class="n" transform="translate(222.80,126.90) scale(1,1.08)" font-size="7.6" text-anchor="start" font-weight="normal" fill="#111" >High risk</text>
<text class="n" transform="translate(222.80,137.50) scale(1,1.08)" font-size="7.6" text-anchor="start" font-weight="normal" fill="#111" >Low risk</text>
<text transform="translate(170.10,8.90) scale(1,1.0)" font-size="12.0" text-anchor="start" font-weight="bold" fill="#000" >b</text>
<path d="M364.41,10.80H365.82V10.80H366.37V11.03H366.93V11.03H367.48V11.66H368.02V11.66H368.56V12.48H369.11V12.48H369.67V13.50H370.22V13.50H370.77V14.17H371.31V14.17H372.13V15.59H372.94V15.59H374.05V16.71H375.15V16.71H376.23V17.09H377.32V17.09H377.88V18.26H378.44V18.26H378.71V19.87H378.98V19.87H379.53V21.94H380.07V21.94H380.34V23.75H380.61V23.75H381.16V25.49H381.70V25.49H382.26V27.26H382.82V27.26H383.36V29.05H383.90V29.05H384.72V29.96H385.54V29.96H386.09V31.33H386.65V31.33H386.92V34.22H387.20V34.22H387.74V36.10H388.28V36.10H389.39V37.52H390.49V37.52H391.30V38.95H392.12V38.95H392.95V40.88H393.78V40.88H394.05V42.82H394.32V42.82H395.14V44.89H395.95V44.89H397.06V46.37H398.16V46.37H398.70V48.35H399.25V48.35H399.52V50.85H399.79V50.85H400.02V53.12H400.25V53.12H400.29V53.37H400.33V53.37H400.80V56.04H401.28V56.04H401.99V56.04H402.15V57.45H402.31V57.45H402.42V57.58H402.54V57.58H403.35V59.12H404.17V59.12H404.34V59.12H404.85V60.80H405.37V60.80H405.83V60.80H406.61V61.84H407.40V61.84H408.00V61.84H408.56V62.75H409.12V62.75H409.46V62.75H409.98V64.32H410.49V64.32H410.99V65.77H411.49V65.77H412.52V66.82H413.56V66.82H414.06V68.80H414.56V68.80H415.59V70.27H416.62V70.27H417.63V71.87H418.65V71.87H419.16V74.82H419.68V74.82H421.21V76.31H422.74V76.31H424.29V77.94H425.83V77.94H427.36V78.90H428.90V78.90H429.42V79.72H429.95V79.72H430.96V79.99H431.96V79.99H432.10V80.40H432.24V80.40H433.40V81.50H434.56V81.50H434.79V82.05H435.02V82.05H435.36V83.29H435.71V83.29H436.29V85.09H436.88V85.09H436.98V85.23H437.08V85.23H437.55V86.21H438.03V86.21H439.11V86.21H440.64V86.76H442.18V86.76H442.63V86.76H443.79V88.02H444.95V88.02H445.24V88.02H446.78V88.87H448.33V88.87H449.56V88.87H451.88V89.85H454.20V89.85H454.77V90.98H455.34V90.98H458.80V91.55H462.27V91.55H466.30V92.26H470.34V92.26H470.91V94.68H471.48V94.68H472.07V95.83H472.66V95.83H478.41V95.83H479.57V97.12H480.73V97.12H481.89V97.70H483.04V97.70H484.19V100.16H485.33V100.16H485.92V102.07H486.51V102.07H487.65V102.65H488.80V102.65H489.38V105.76H489.97V105.76H499.19V105.76H499.77V107.10H500.36V107.10H506.68V107.10H507.40V128.27H506.68V128.27H500.36V128.27H499.77V127.26H499.19V127.26H489.97V127.26H489.38V124.88H488.80V124.88H487.65V124.42H486.51V124.42H485.92V122.93H485.33V122.93H484.19V120.95H483.04V120.95H481.89V120.48H480.73V120.48H479.57V119.42H478.41V119.42H472.66V119.42H472.07V118.47H471.48V118.47H470.91V116.45H470.34V116.45H466.30V115.85H462.27V115.85H458.80V115.37H455.34V115.37H454.77V114.40H454.20V114.40H451.88V113.56H449.56V113.56H448.33V113.56H446.78V112.83H445.24V112.83H444.95V112.83H443.79V111.73H442.63V111.73H442.18V111.73H440.64V111.24H439.11V111.24H438.03V111.24H437.55V110.38H437.08V110.38H436.98V110.26H436.88V110.26H436.29V108.65H435.71V108.65H435.36V107.54H435.02V107.54H434.79V107.04H434.56V107.04H433.40V106.04H432.24V106.04H432.10V105.66H431.96V105.66H430.96V105.41H429.95V105.41H429.42V104.66H428.90V104.66H427.36V103.78H425.83V103.78H424.29V102.26H422.74V102.26H421.21V100.87H419.68V100.87H419.16V98.06H418.65V98.06H417.63V96.51H416.62V96.51H415.59V95.09H414.56V95.09H414.06V93.14H413.56V93.14H412.52V92.09H411.49V92.09H410.99V90.65H410.49V90.65H409.98V89.07H409.46V89.07H409.12V89.07H408.56V88.14H408.00V88.14H407.40V88.14H406.61V87.08H405.83V87.08H405.37V87.08H404.85V85.35H404.34V85.35H404.17V85.35H403.35V83.74H402.54V83.74H402.42V83.61H402.31V83.61H402.15V82.13H401.99V82.13H401.28V82.13H400.80V79.29H400.33V79.29H400.29V79.02H400.25V79.02H400.02V76.56H399.79V76.56H399.52V73.81H399.25V73.81H398.70V71.59H398.16V71.59H397.06V69.91H395.95V69.91H395.14V67.53H394.32V67.53H394.05V65.27H393.78V65.27H392.95V62.99H392.12V62.99H391.30V61.27H390.49V61.27H389.39V59.54H388.28V59.54H387.74V57.21H387.20V57.21H386.92V53.54H386.65V53.54H386.09V51.76H385.54V51.76H384.72V50.57H383.90V50.57H383.36V48.17H382.82V48.17H382.26V45.73H381.70V45.73H381.16V43.27H380.61V43.27H380.34V40.63H380.07V40.63H379.53V37.46H378.98V37.46H378.71V34.89H378.44V34.89H377.88V32.92H377.32V32.92H376.23V32.26H375.15V32.26H374.05V30.26H372.94V30.26H372.13V27.54H371.31V27.54H370.77V26.15H370.22V26.15H369.67V23.88H369.11V23.88H368.56V21.80H368.02V21.80H367.48V20.17H366.93V20.17H366.37V10.80H365.82V10.80H364.41Z" fill="#3a86aa" fill-opacity="0.13" stroke="none"/>
<path d="M364.41,10.80H367.48V10.80H367.75V11.03H368.02V11.03H368.84V11.21H369.65V11.21H369.80V12.23H370.08V13.50H370.22V13.50H371.04V14.17H371.86V14.17H372.40V16.33H372.94V16.33H373.50V17.48H374.06V17.48H374.33V19.46H374.60V19.46H374.74V21.16H375.01V22.90H375.15V22.90H375.42V24.62H375.69V24.62H376.23V25.49H376.78V25.49H377.34V27.26H377.89V27.26H378.71V29.05H379.53V29.05H380.07V31.33H380.61V31.33H381.44V32.83H382.27V32.83H382.82V34.22H383.36V34.22H383.63V35.63H383.90V35.63H384.18V37.52H384.45V37.52H384.99V39.43H385.54V39.43H386.09V41.36H386.65V41.36H387.20V43.30H387.74V43.30H388.56V45.39H389.37V45.39H389.66V47.36H389.94V47.36H390.49V49.35H391.03V49.35H391.85V51.36H392.66V51.36H393.22V53.37H393.78V53.37H393.95V54.14H394.12V54.14H394.77V55.41H395.41V55.41H395.78V56.04H396.15V56.04H396.60V56.56H397.04V56.56H397.63V56.94H398.21V56.94H398.46V58.09H398.70V58.09H399.47V58.87H400.25V58.87H400.29V59.64H400.33V59.64H400.80V60.80H401.28V60.80H401.36V61.19H401.45V61.19H401.88V62.88H402.31V62.88H402.54V62.88H402.92V64.85H403.31V64.85H403.82V67.74H404.34V67.74H404.85V69.33H405.37V69.33H406.39V70.80H407.40V70.80H408.43V71.87H409.46V71.87H410.48V72.81H411.49V72.81H412.01V74.82H412.52V74.82H413.04V76.85H413.56V76.85H414.06V78.90H414.56V78.90H415.07V82.05H415.59V82.05H416.62V84.68H417.65V84.68H418.66V85.23H419.68V85.23H420.71V86.21H421.74V86.21H422.24V88.30H422.74V88.30H423.26V89.43H423.77V89.43H424.29V90.41H424.80V90.41H425.82V92.11H426.83V92.11H428.37V92.54H429.90V92.54H429.93V92.82H429.95V92.82H431.47V93.68H432.99V93.68H433.78V94.11H434.56V94.11H434.79V94.82H435.02V94.82H435.36V96.54H435.71V96.54H436.29V97.70H436.88V97.70H437.08V97.70H437.55V98.28H438.03V98.28H438.08V98.28H440.13V98.57H442.18V98.57H444.22V99.15H446.27V99.15H447.27V99.15H447.80V99.73H448.33V99.73H448.37V100.16H448.41V100.16H450.72V100.75H453.02V100.75H455.33V102.65H457.63V102.65H461.09V103.98H464.56V103.98H465.71V104.57H466.87V104.57H468.61V105.76H470.34V105.76H472.07V106.50H473.80V106.50H476.10V107.10H478.41V107.10H479.57V108.30H480.73V108.30H486.51V108.30H487.08V109.66H487.65V109.66H488.81V110.27H489.97V110.27H490.54V112.25H491.12V112.25H491.69V116.26H492.26V116.26H504.97V116.26H505.54V118.15H506.11V118.15H507.40V136.00H506.11V136.00H505.54V134.76H504.97V134.76H492.26V134.76H491.69V132.00H491.12V132.00H490.54V130.59H489.97V130.59H488.81V130.15H487.65V130.15H487.08V129.16H486.51V129.16H480.73V129.16H479.57V128.27H478.41V128.27H476.10V127.82H473.80V127.82H472.07V127.26H470.34V127.26H468.61V126.36H466.87V126.36H465.71V125.91H464.56V125.91H461.09V124.88H457.63V124.88H455.33V123.39H453.02V123.39H450.72V122.93H448.41V122.93H448.37V122.58H448.33V122.58H447.80V122.12H447.27V122.12H446.27V122.12H444.22V121.65H442.18V121.65H440.13V121.42H438.08V121.42H438.03V121.42H437.55V120.95H437.08V120.95H436.88V120.95H436.29V120.01H435.71V120.01H435.36V118.59H435.02V118.59H434.79V118.00H434.56V118.00H433.78V117.64H432.99V117.64H431.47V116.93H429.95V116.93H429.93V116.69H429.90V116.69H428.37V116.33H426.83V116.33H425.82V114.89H424.80V114.89H424.29V114.04H423.77V114.04H423.26V113.07H422.74V113.07H422.24V111.24H421.74V111.24H420.71V110.38H419.68V110.38H418.66V109.89H417.65V109.89H416.62V107.54H415.59V107.54H415.07V104.66H414.56V104.66H414.06V102.77H413.56V102.77H413.04V100.87H412.52V100.87H412.01V98.95H411.49V98.95H410.48V98.06H409.46V98.06H408.43V97.03H407.40V97.03H406.39V95.61H405.37V95.61H404.85V94.05H404.34V94.05H403.82V91.17H403.31V91.17H402.92V89.20H402.54V89.20H402.31V89.20H401.88V87.48H401.45V87.48H401.36V87.08H401.28V87.08H400.80V85.88H400.33V85.88H400.29V85.08H400.25V85.08H399.47V84.28H398.70V84.28H398.46V83.07H398.21V83.07H397.63V82.67H397.04V82.67H396.60V82.13H396.15V82.13H395.78V81.46H395.41V81.46H394.77V80.10H394.12V80.10H393.95V79.29H393.78V79.29H393.22V77.11H392.66V77.11H391.85V74.91H391.03V74.91H390.49V72.70H389.94V72.70H389.66V70.47H389.37V70.47H388.56V68.09H387.74V68.09H387.20V65.83H386.65V65.83H386.09V63.56H385.54V63.56H384.99V61.27H384.45V61.27H384.18V58.96H383.90V58.96H383.63V57.21H383.36V57.21H382.82V55.46H382.27V55.46H381.44V53.54H380.61V53.54H380.07V50.57H379.53V50.57H378.71V48.17H377.89V48.17H377.34V45.73H376.78V45.73H376.23V44.51H375.69V44.51H375.42V42.03H375.15V42.03H375.01V39.45H374.74V36.82H374.60V36.82H374.33V33.58H374.06V33.58H373.50V31.60H372.94V31.60H372.40V27.54H371.86V27.54H371.04V26.15H370.22V26.15H370.08V23.26H369.80V20.57H369.65V20.57H368.84V20.17H368.02V20.17H367.75V10.80H367.48V10.80H364.41Z" fill="#c0405a" fill-opacity="0.14" stroke="none"/>
<path d="M364.41,10.80H367.48V10.80H367.75V12.29H368.02V12.29H368.84V12.83H369.65V12.83H369.80V15.07H370.08V17.30H370.22V17.30H371.04V18.38H371.86V18.38H372.40V21.63H372.94V21.63H373.50V23.26H374.06V23.26H374.33V25.96H374.60V25.96H374.74V28.20H375.01V30.43H375.15V30.43H375.42V32.60H375.69V32.60H376.23V33.68H376.78V33.68H377.34V35.85H377.89V35.85H378.71V38.02H379.53V38.02H380.07V40.72H380.61V40.72H381.44V42.48H382.27V42.48H382.82V44.11H383.36V44.11H383.63V45.73H383.90V45.73H384.18V47.90H384.45V47.90H384.99V50.07H385.54V50.07H386.09V52.23H386.65V52.23H387.20V54.40H387.74V54.40H388.56V56.70H389.37V56.70H389.66V58.87H389.94V58.87H390.49V61.03H391.03V61.03H391.85V63.20H392.66V63.20H393.22V65.37H393.78V65.37H393.95V66.18H394.12V66.18H394.77V67.53H395.41V67.53H395.78V68.21H396.15V68.21H396.60V68.75H397.04V68.75H397.63V69.16H398.21V69.16H398.46V70.38H398.70V70.38H399.47V71.19H400.25V71.19H400.29V72.00H400.33V72.00H400.80V73.22H401.28V73.22H401.36V73.63H401.45V73.63H401.88V75.39H402.31V75.39H402.54V75.39H402.92V77.42H403.31V77.42H403.82V80.40H404.34V80.40H404.85V82.02H405.37V82.02H406.39V83.51H407.40V83.51H408.43V84.59H409.46V84.59H410.48V85.54H411.49V85.54H412.01V87.57H412.52V87.57H413.04V89.60H413.56V89.60H414.06V91.63H414.56V91.63H415.07V94.75H415.59V94.75H416.62V97.32H417.65V97.32H418.66V97.86H419.68V97.86H420.71V98.81H421.74V98.81H422.24V100.84H422.74V100.84H423.26V101.92H423.77V101.92H424.29V102.87H424.80V102.87H425.82V104.50H426.83V104.50H428.37V104.90H429.90V104.90H429.93V105.17H429.95V105.17H431.47V105.99H432.99V105.99H433.78V106.39H434.56V106.39H434.79V107.07H435.02V107.07H435.36V108.69H435.71V108.69H436.29V109.78H436.88V109.78H437.08V109.78H437.55V110.32H438.03V110.32H438.08V110.32H440.13V110.59H442.18V110.59H444.22V111.13H446.27V111.13H447.27V111.13H447.80V111.67H448.33V111.67H448.37V112.08H448.41V112.08H450.72V112.62H453.02V112.62H455.33V114.38H457.63V114.38H461.09V115.60H464.56V115.60H465.71V116.14H466.87V116.14H468.61V117.22H470.34V117.22H472.07V117.90H473.80V117.90H476.10V118.44H478.41V118.44H479.57V119.53H480.73V119.53H486.51V119.53H487.08V120.74H487.65V120.74H488.81V121.29H489.97V121.29H490.54V123.05H491.12V123.05H491.69V126.57H492.26V126.57H504.97V126.57H505.54V128.19H506.11V128.19H507.40" fill="none" stroke="#b03a52" stroke-width="1.1"/>
<path d="M364.41,10.80H365.82V10.80H366.37V12.29H366.93V12.29H367.48V13.91H368.02V13.91H368.56V15.54H369.11V15.54H369.67V17.30H370.22V17.30H370.77V18.38H371.31V18.38H372.13V20.55H372.94V20.55H374.05V22.17H375.15V22.17H376.23V22.72H377.32V22.72H377.88V24.34H378.44V24.34H378.71V26.51H378.98V26.51H379.53V29.21H380.07V29.21H380.34V31.52H380.61V31.52H381.16V33.68H381.70V33.68H382.26V35.85H382.82V35.85H383.36V38.02H383.90V38.02H384.72V39.10H385.54V39.10H386.09V40.72H386.65V40.72H386.92V44.11H387.20V44.11H387.74V46.27H388.28V46.27H389.39V47.90H390.49V47.90H391.30V49.52H392.12V49.52H392.95V51.69H393.78V51.69H394.05V53.86H394.32V53.86H395.14V56.16H395.95V56.16H397.06V57.78H398.16V57.78H398.70V59.95H399.25V59.95H399.52V62.66H399.79V62.66H400.02V65.10H400.25V65.10H400.29V65.37H400.33V65.37H400.80V68.21H401.28V68.21H401.99V68.21H402.15V69.70H402.31V69.70H402.42V69.83H402.54V69.83H403.35V71.46H404.17V71.46H404.34V71.46H404.85V73.22H405.37V73.22H405.83V73.22H406.61V74.30H407.40V74.30H408.00V74.30H408.56V75.25H409.12V75.25H409.46V75.25H409.98V76.88H410.49V76.88H410.99V78.36H411.49V78.36H412.52V79.45H413.56V79.45H414.06V81.48H414.56V81.48H415.59V82.97H416.62V82.97H417.63V84.59H418.65V84.59H419.16V87.57H419.68V87.57H421.21V89.06H422.74V89.06H424.29V90.69H425.83V90.69H427.36V91.63H428.90V91.63H429.42V92.45H429.95V92.45H430.96V92.72H431.96V92.72H432.10V93.12H432.24V93.12H433.40V94.21H434.56V94.21H434.79V94.75H435.02V94.75H435.36V95.97H435.71V95.97H436.29V97.73H436.88V97.73H436.98V97.86H437.08V97.86H437.55V98.81H438.03V98.81H439.11V98.81H440.64V99.35H442.18V99.35H442.63V99.35H443.79V100.57H444.95V100.57H445.24V100.57H446.78V101.38H448.33V101.38H449.56V101.38H451.88V102.33H454.20V102.33H454.77V103.41H455.34V103.41H458.80V103.96H462.27V103.96H466.30V104.63H470.34V104.63H470.91V106.93H471.48V106.93H472.07V108.02H472.66V108.02H478.41V108.02H479.57V109.24H480.73V109.24H481.89V109.78H483.04V109.78H484.19V112.08H485.33V112.08H485.92V113.84H486.51V113.84H487.65V114.38H488.80V114.38H489.38V117.22H489.97V117.22H499.19V117.22H499.77V118.44H500.36V118.44H506.68V118.44H507.40" fill="none" stroke="#2c7ea0" stroke-width="1.1"/>
<line x1="364.30" y1="4.03" x2="364.30" y2="146.70" stroke="#333" stroke-width="1.1" />
<line x1="363.80" y1="146.20" x2="507.80" y2="146.20" stroke="#888" stroke-width="1.2" />
<line x1="362.00" y1="146.20" x2="364.30" y2="146.20" stroke="#999" stroke-width="0.9" />
<text class="n" transform="translate(360.80,148.90) scale(1,1.08)" font-size="7.6" text-anchor="end" font-weight="normal" fill="#111" >0.0</text>
<line x1="362.00" y1="119.12" x2="364.30" y2="119.12" stroke="#999" stroke-width="0.9" />
<text class="n" transform="translate(360.80,121.82) scale(1,1.08)" font-size="7.6" text-anchor="end" font-weight="normal" fill="#111" >0.2</text>
<line x1="362.00" y1="92.04" x2="364.30" y2="92.04" stroke="#999" stroke-width="0.9" />
<text class="n" transform="translate(360.80,94.74) scale(1,1.08)" font-size="7.6" text-anchor="end" font-weight="normal" fill="#111" >0.4</text>
<line x1="362.00" y1="64.96" x2="364.30" y2="64.96" stroke="#999" stroke-width="0.9" />
<text class="n" transform="translate(360.80,67.66) scale(1,1.08)" font-size="7.6" text-anchor="end" font-weight="normal" fill="#111" >0.6</text>
<line x1="362.00" y1="37.88" x2="364.30" y2="37.88" stroke="#999" stroke-width="0.9" />
<text class="n" transform="translate(360.80,40.58) scale(1,1.08)" font-size="7.6" text-anchor="end" font-weight="normal" fill="#111" >0.8</text>
<line x1="362.00" y1="10.80" x2="364.30" y2="10.80" stroke="#999" stroke-width="0.9" />
<text class="n" transform="translate(360.80,13.50) scale(1,1.08)" font-size="7.6" text-anchor="end" font-weight="normal" fill="#111" >1.0</text>
<line x1="364.30" y1="146.20" x2="364.30" y2="148.80" stroke="#444" stroke-width="0.9" />
<text class="n" transform="translate(364.30,154.80) scale(1,1.08)" font-size="7.6" text-anchor="middle" font-weight="normal" fill="#111" >0</text>
<line x1="392.92" y1="146.20" x2="392.92" y2="148.80" stroke="#444" stroke-width="0.9" />
<text class="n" transform="translate(392.92,154.80) scale(1,1.08)" font-size="7.6" text-anchor="middle" font-weight="normal" fill="#111" >1</text>
<line x1="421.54" y1="146.20" x2="421.54" y2="148.80" stroke="#444" stroke-width="0.9" />
<text class="n" transform="translate(421.54,154.80) scale(1,1.08)" font-size="7.6" text-anchor="middle" font-weight="normal" fill="#111" >2</text>
<line x1="450.16" y1="146.20" x2="450.16" y2="148.80" stroke="#444" stroke-width="0.9" />
<text class="n" transform="translate(450.16,154.80) scale(1,1.08)" font-size="7.6" text-anchor="middle" font-weight="normal" fill="#111" >3</text>
<line x1="478.78" y1="146.20" x2="478.78" y2="148.80" stroke="#444" stroke-width="0.9" />
<text class="n" transform="translate(478.78,154.80) scale(1,1.08)" font-size="7.6" text-anchor="middle" font-weight="normal" fill="#111" >4</text>
<line x1="507.40" y1="146.20" x2="507.40" y2="148.80" stroke="#444" stroke-width="0.9" />
<text class="n" transform="translate(507.40,154.80) scale(1,1.08)" font-size="7.6" text-anchor="middle" font-weight="normal" fill="#111" >5</text>
<text class="n" transform="translate(435.85,163.40) scale(1,1.08)" font-size="7.5" text-anchor="middle" font-weight="normal" fill="#111" >Time (years)</text>
<text transform="translate(346.90,74.00) rotate(-90) scale(1,1.08)" class="n" font-size="7.6" text-anchor="middle" fill="#111">Survival probability</text>
<text class="n" transform="translate(421.70,16.60) scale(1,1.08)" font-size="7.6" text-anchor="start" font-weight="normal" fill="#111" >n=200</text>
<text class="n" transform="translate(421.70,24.90) scale(1,1.08)" font-size="7.6" text-anchor="start" font-weight="normal" fill="#111" >log-rank test, p=0.148</text>
<text class="n" transform="translate(421.70,33.60) scale(1,1.08)" font-size="7.6" text-anchor="start" font-weight="normal" fill="#111" >Med3D (fine-tuned)</text>
<rect x="368.60" y="118.30" width="57.6" height="24.2" rx="1.5" fill="#fff" fill-opacity="0.8" stroke="#ebebeb" stroke-width="0.7"/>
<line x1="370.80" y1="124.10" x2="387.30" y2="124.10" stroke="#bf5c72" stroke-width="1.2" />
<line x1="370.80" y1="134.70" x2="387.30" y2="134.70" stroke="#78afcc" stroke-width="1.2" />
<text class="n" transform="translate(393.20,126.90) scale(1,1.08)" font-size="7.6" text-anchor="start" font-weight="normal" fill="#111" >High risk</text>
<text class="n" transform="translate(393.20,137.50) scale(1,1.08)" font-size="7.6" text-anchor="start" font-weight="normal" fill="#111" >Low risk</text>
<text transform="translate(340.50,8.90) scale(1,1.0)" font-size="12.0" text-anchor="start" font-weight="bold" fill="#000" >c</text>
<path d="M534.70,10.80H536.27V10.80H536.83V11.03H537.39V11.03H537.93V11.43H538.48V11.43H539.02V11.92H539.57V11.92H540.11V12.48H540.65V12.48H541.21V13.50H541.77V13.50H542.31V14.51H542.86V14.51H543.40V15.59H543.94V15.59H544.49V16.71H545.03V16.71H545.86V17.48H546.69V17.48H547.51V18.66H548.32V18.66H548.88V21.52H549.44V21.52H549.98V22.90H550.53V22.90H551.34V24.18H552.16V24.18H552.72V25.49H553.27V25.49H553.82V26.81H554.36V26.81H554.91V28.15H555.45V28.15H555.99V29.50H556.54V29.50H557.10V30.87H557.65V30.87H558.20V32.83H558.74V32.83H559.28V34.69H559.83V34.69H560.39V36.10H560.94V36.10H561.49V37.05H562.03V37.05H562.85V38.48H563.66V38.48H564.22V40.39H564.78V40.39H565.60V42.33H566.41V42.33H566.95V43.79H567.50V43.79H568.33V45.39H569.16V45.39H569.70V47.36H570.25V47.36H570.52V50.35H570.79V50.35H571.33V52.36H571.88V52.36H572.35V56.04H572.82V56.04H572.99V56.04H573.67V57.97H574.34V57.97H574.62V57.97H575.00V60.42H575.37V60.42H575.71V60.42H576.56V61.32H577.40V61.32H577.92V61.32H578.69V62.36H579.46V62.36H580.12V62.36H580.66V63.80H581.21V63.80H581.35V64.32H581.49V64.32H582.52V65.77H583.55V65.77H584.06V67.74H584.56V67.74H585.59V69.33H586.62V69.33H587.63V70.80H588.65V70.80H589.16V73.34H589.68V73.34H590.71V74.28H591.74V74.28H592.76V75.90H593.77V75.90H594.80V77.40H595.83V77.40H597.36V77.94H598.89V77.94H599.95V77.94H600.96V78.49H601.96V78.49H603.49V78.90H605.02V78.90H605.71V78.90H606.14V80.95H606.56V80.95H606.72V83.29H606.88V83.29H606.98V83.57H607.08V83.57H607.55V84.40H608.02V84.40H609.08V84.68H610.14V84.68H611.39V85.09H612.63V85.09H612.92V85.23H613.20V85.23H614.74V86.21H616.27V86.21H617.27V86.21H618.30V86.76H619.33V86.76H621.18V87.46H623.02V87.46H624.75V89.15H626.48V89.15H628.79V90.41H631.09V90.41H632.25V91.55H633.41V91.55H639.19V91.55H640.34V94.11H641.48V94.11H642.64V95.25H643.80V95.25H649.58V95.25H650.73V96.54H651.87V96.54H653.03V97.12H654.19V97.12H654.76V99.00H655.33V99.00H657.06V99.58H658.80V99.58H659.96V102.07H661.11V102.07H662.27V103.24H663.43V103.24H666.31V103.98H669.19V103.98H669.77V105.17H670.36V105.17H672.08V105.76H673.79V105.76H674.95V107.10H676.11V107.10H677.80V128.27H676.11V128.27H674.95V127.26H673.79V127.26H672.08V126.81H670.36V126.81H669.77V125.91H669.19V125.91H666.31V125.34H663.43V125.34H662.27V124.42H661.11V124.42H659.96V122.46H658.80V122.46H657.06V122.00H655.33V122.00H654.76V120.48H654.19V120.48H653.03V120.01H651.87V120.01H650.73V118.95H649.58V118.95H643.80V118.95H642.64V118.00H641.48V118.00H640.34V115.85H639.19V115.85H633.41V115.85H632.25V114.89H631.09V114.89H628.79V113.80H626.48V113.80H624.75V112.34H623.02V112.34H621.18V111.73H619.33V111.73H618.30V111.24H617.27V111.24H616.27V111.24H614.74V110.38H613.20V110.38H612.92V110.26H612.63V110.26H611.39V109.89H610.14V109.89H609.08V109.64H608.02V109.64H607.55V108.90H607.08V108.90H606.98V108.65H606.88V108.65H606.72V106.54H606.56V106.54H606.14V104.66H605.71V104.66H605.02V104.66H603.49V104.28H601.96V104.28H600.96V103.78H599.95V103.78H598.89V103.78H597.36V103.28H595.83V103.28H594.80V101.88H593.77V101.88H592.76V100.36H591.74V100.36H590.71V99.47H589.68V99.47H589.16V97.03H588.65V97.03H587.63V95.61H586.62V95.61H585.59V94.05H584.56V94.05H584.06V92.09H583.55V92.09H582.52V90.65H581.49V90.65H581.35V90.12H581.21V90.12H580.66V88.67H580.12V88.67H579.46V88.67H578.69V87.61H577.92V87.61H577.40V87.61H576.56V86.68H575.71V86.68H575.37V86.68H575.00V84.15H574.62V84.15H574.34V84.15H573.67V82.13H572.99V82.13H572.82V82.13H572.35V78.20H571.88V78.20H571.33V76.01H570.79V76.01H570.52V72.70H570.25V72.70H569.70V70.47H569.16V70.47H568.33V68.65H567.50V68.65H566.95V66.96H566.41V66.96H565.60V64.70H564.78V64.70H564.22V62.42H563.66V62.42H562.85V60.69H562.03V60.69H561.49V59.54H560.94V59.54H560.39V57.80H559.83V57.80H559.28V55.46H558.74V55.46H558.20V52.95H557.65V52.95H557.10V51.17H556.54V51.17H555.99V49.37H555.45V49.37H554.91V47.56H554.36V47.56H553.82V45.73H553.27V45.73H552.72V43.89H552.16V43.89H551.34V42.03H550.53V42.03H549.98V40.00H549.44V40.00H548.88V35.53H548.32V35.53H547.51V33.58H546.69V33.58H545.86V32.26H545.03V32.26H544.49V30.26H543.94V30.26H543.40V28.22H542.86V28.22H542.31V26.15H541.77V26.15H541.21V23.88H540.65V23.88H540.11V22.48H539.57V22.48H539.02V21.15H538.48V21.15H537.93V20.17H537.39V20.17H536.83V10.80H536.27V10.80H534.70Z" fill="#3a86aa" fill-opacity="0.13" stroke="none"/>
<path d="M534.70,10.80H537.39V10.80H537.39V10.89H538.48V11.03H539.57V11.03H539.84V12.19H540.11V12.19H540.11V14.86H540.94V15.96H541.77V15.96H542.31V17.09H542.86V17.09H543.40V18.26H543.94V18.26H544.77V19.46H545.60V19.46H545.88V21.94H546.15V21.94H546.28V23.70H546.56V25.49H546.69V25.49H547.24V26.81H547.78V26.81H548.32V28.15H548.87V28.15H549.42V29.96H549.98V29.96H550.53V31.33H551.07V31.33H551.34V32.83H551.61V32.83H551.89V35.63H552.16V35.63H552.72V37.52H553.27V37.52H553.82V39.43H554.36V39.43H554.63V41.36H554.91V41.36H555.45V43.30H555.99V43.30H556.55V45.39H557.11V45.39H557.65V47.36H558.20V47.36H558.74V50.35H559.28V50.35H559.56V52.36H559.83V52.36H560.39V53.88H560.94V53.88H561.49V55.41H562.03V55.41H562.56V56.94H563.09V56.94H563.11V57.58H563.12V57.58H563.66V59.12H564.21V59.12H565.15V59.12H565.24V60.16H565.32V60.16H566.14V60.67H566.95V60.67H567.07V60.80H567.18V60.80H567.61V62.75H568.04V62.75H568.64V63.28H569.24V63.28H570.26V64.85H571.28V64.85H572.05V67.35H572.82V67.35H573.58V69.33H574.34V69.33H575.37V71.33H576.40V71.33H577.42V72.27H578.43V72.27H579.46V74.28H580.49V74.28H581.25V75.90H582.01V75.90H582.78V78.90H583.55V78.90H584.57V82.05H585.59V82.05H586.10V85.23H586.62V85.23H587.13V88.30H587.65V88.30H588.66V89.43H589.68V89.43H590.71V90.41H591.74V90.41H592.50V92.54H593.26V92.54H594.03V94.25H594.80V94.25H595.82V94.82H596.83V94.82H597.35V96.98H597.86V96.98H598.88V98.57H599.90V98.57H600.93V99.73H601.96V99.73H602.24V99.73H603.40V101.48H604.56V101.48H605.02V101.48H606.05V102.95H607.08V102.95H607.55V103.98H608.02V103.98H608.05V104.13H608.08V104.13H610.13V104.57H612.17V104.57H614.22V105.17H616.27V105.17H617.27V105.17H617.84V105.76H618.41V105.76H635.73V105.76H636.30V107.70H636.87V107.70H638.60V108.30H640.34V108.30H640.91V109.66H641.48V109.66H644.94V110.27H648.41V110.27H649.57V111.63H650.73V111.63H652.46V112.25H654.19V112.25H655.35V113.63H656.51V113.63H658.24V114.86H659.97V114.86H661.11V117.52H662.26V117.52H662.55V119.58H662.83V119.58H676.68V119.58H677.80V136.91H676.68V136.91H662.83V136.91H662.55V135.58H662.26V135.58H661.11V133.81H659.97V133.81H658.24V132.96H656.51V132.96H655.35V132.00H654.19V132.00H652.46V131.57H650.73V131.57H649.57V130.59H648.41V130.59H644.94V130.15H641.48V130.15H640.91V129.16H640.34V129.16H638.60V128.72H636.87V128.72H636.30V127.26H635.73V127.26H618.41V127.26H617.84V126.81H617.27V126.81H616.27V126.81H614.22V126.36H612.17V126.36H610.13V126.02H608.08V126.02H608.05V125.91H608.02V125.91H607.55V125.11H607.08V125.11H606.05V123.97H605.02V123.97H604.56V123.97H603.40V122.58H602.24V122.58H601.96V122.58H600.93V121.65H599.90V121.65H598.88V120.36H597.86V120.36H597.35V118.59H596.83V118.59H595.82V118.12H594.80V118.12H594.03V116.69H593.26V116.69H592.50V114.89H591.74V114.89H590.71V114.04H589.68V114.04H588.66V113.07H587.65V113.07H587.13V110.38H586.62V110.38H586.10V107.54H585.59V107.54H584.57V104.66H583.55V104.66H582.78V101.88H582.01V101.88H581.25V100.36H580.49V100.36H579.46V98.44H578.43V98.44H577.42V97.54H576.40V97.54H575.37V95.61H574.34V95.61H573.58V93.66H572.82V93.66H572.05V91.17H571.28V91.17H570.26V89.60H569.24V89.60H568.64V89.07H568.04V89.07H567.61V87.08H567.18V87.08H567.07V86.95H566.95V86.95H566.14V86.42H565.32V86.42H565.24V85.35H565.15V85.35H564.21V85.35H563.66V83.74H563.12V83.74H563.11V83.07H563.09V83.07H562.56V81.46H562.03V81.46H561.49V79.83H560.94V79.83H560.39V78.20H559.83V78.20H559.56V76.01H559.28V76.01H558.74V72.70H558.20V72.70H557.65V70.47H557.11V70.47H556.55V68.09H555.99V68.09H555.45V65.83H554.91V65.83H554.63V63.56H554.36V63.56H553.82V61.27H553.27V61.27H552.72V58.96H552.16V58.96H551.89V55.46H551.61V55.46H551.34V53.54H551.07V53.54H550.53V51.76H549.98V51.76H549.42V49.37H548.87V49.37H548.32V47.56H547.78V47.56H547.24V45.73H546.69V45.73H546.56V43.20H546.28V40.63H546.15V40.63H545.88V36.82H545.60V36.82H544.77V34.89H543.94V34.89H543.40V32.92H542.86V32.92H542.31V30.93H541.77V30.93H540.94V28.91H540.11V23.18H540.11V23.18H539.84V20.17H539.57V20.17H538.48V20.35H537.39V10.80H537.39V10.80H534.70Z" fill="#c0405a" fill-opacity="0.14" stroke="none"/>
<path d="M534.70,10.80H537.39V10.80H537.39V11.75H538.48V12.29H539.57V12.29H539.84V15.00H540.11V15.00H540.11V19.47H540.94V21.09H541.77V21.09H542.31V22.72H542.86V22.72H543.40V24.34H543.94V24.34H544.77V25.96H545.60V25.96H545.88V29.21H546.15V29.21H546.28V31.45H546.56V33.68H546.69V33.68H547.24V35.31H547.78V35.31H548.32V36.93H548.87V36.93H549.42V39.10H549.98V39.10H550.53V40.72H551.07V40.72H551.34V42.48H551.61V42.48H551.89V45.73H552.16V45.73H552.72V47.90H553.27V47.90H553.82V50.07H554.36V50.07H554.63V52.23H554.91V52.23H555.45V54.40H555.99V54.40H556.55V56.70H557.11V56.70H557.65V58.87H558.20V58.87H558.74V62.12H559.28V62.12H559.56V64.28H559.83V64.28H560.39V65.91H560.94V65.91H561.49V67.53H562.03V67.53H562.56V69.16H563.09V69.16H563.11V69.83H563.12V69.83H563.66V71.46H564.21V71.46H565.15V71.46H565.24V72.54H565.32V72.54H566.14V73.08H566.95V73.08H567.07V73.22H567.18V73.22H567.61V75.25H568.04V75.25H568.64V75.79H569.24V75.79H570.26V77.42H571.28V77.42H572.05V79.99H572.82V79.99H573.58V82.02H574.34V82.02H575.37V84.05H576.40V84.05H577.42V85.00H578.43V85.00H579.46V87.03H580.49V87.03H581.25V88.65H582.01V88.65H582.78V91.63H583.55V91.63H584.57V94.75H585.59V94.75H586.10V97.86H586.62V97.86H587.13V100.84H587.65V100.84H588.66V101.92H589.68V101.92H590.71V102.87H591.74V102.87H592.50V104.90H593.26V104.90H594.03V106.53H594.80V106.53H595.82V107.07H596.83V107.07H597.35V109.10H597.86V109.10H598.88V110.59H599.90V110.59H600.93V111.67H601.96V111.67H602.24V111.67H603.40V113.30H604.56V113.30H605.02V113.30H606.05V114.65H607.08V114.65H607.55V115.60H608.02V115.60H608.05V115.73H608.08V115.73H610.13V116.14H612.17V116.14H614.22V116.68H616.27V116.68H617.27V116.68H617.84V117.22H618.41V117.22H635.73V117.22H636.30V118.98H636.87V118.98H638.60V119.53H640.34V119.53H640.91V120.74H641.48V120.74H644.94V121.29H648.41V121.29H649.57V122.50H650.73V122.50H652.46V123.05H654.19V123.05H655.35V124.27H656.51V124.27H658.24V125.35H659.97V125.35H661.11V127.65H662.26V127.65H662.55V129.41H662.83V129.41H676.68V129.41H677.80" fill="none" stroke="#b03a52" stroke-width="1.1"/>
<path d="M534.70,10.80H536.27V10.80H536.83V12.29H537.39V12.29H537.93V13.37H538.48V13.37H539.02V14.46H539.57V14.46H540.11V15.54H540.65V15.54H541.21V17.30H541.77V17.30H542.31V18.92H542.86V18.92H543.40V20.55H543.94V20.55H544.49V22.17H545.03V22.17H545.86V23.26H546.69V23.26H547.51V24.88H548.32V24.88H548.88V28.67H549.44V28.67H549.98V30.43H550.53V30.43H551.34V32.06H552.16V32.06H552.72V33.68H553.27V33.68H553.82V35.31H554.36V35.31H554.91V36.93H555.45V36.93H555.99V38.56H556.54V38.56H557.10V40.18H557.65V40.18H558.20V42.48H558.74V42.48H559.28V44.65H559.83V44.65H560.39V46.27H560.94V46.27H561.49V47.36H562.03V47.36H562.85V48.98H563.66V48.98H564.22V51.15H564.78V51.15H565.60V53.32H566.41V53.32H566.95V54.94H567.50V54.94H568.33V56.70H569.16V56.70H569.70V58.87H570.25V58.87H570.52V62.12H570.79V62.12H571.33V64.28H571.88V64.28H572.35V68.21H572.82V68.21H572.99V68.21H573.67V70.24H574.34V70.24H574.62V70.24H575.00V72.81H575.37V72.81H575.71V72.81H576.56V73.76H577.40V73.76H577.92V73.76H578.69V74.84H579.46V74.84H580.12V74.84H580.66V76.33H581.21V76.33H581.35V76.88H581.49V76.88H582.52V78.36H583.55V78.36H584.06V80.40H584.56V80.40H585.59V82.02H586.62V82.02H587.63V83.51H588.65V83.51H589.16V86.08H589.68V86.08H590.71V87.03H591.74V87.03H592.76V88.65H593.77V88.65H594.80V90.14H595.83V90.14H597.36V90.69H598.89V90.69H599.95V90.69H600.96V91.23H601.96V91.23H603.49V91.63H605.02V91.63H605.71V91.63H606.14V93.66H606.56V93.66H606.72V95.97H606.88V95.97H606.98V96.24H607.08V96.24H607.55V97.05H608.02V97.05H609.08V97.32H610.14V97.32H611.39V97.73H612.63V97.73H612.92V97.86H613.20V97.86H614.74V98.81H616.27V98.81H617.27V98.81H618.30V99.35H619.33V99.35H621.18V100.03H623.02V100.03H624.75V101.65H626.48V101.65H628.79V102.87H631.09V102.87H632.25V103.96H633.41V103.96H639.19V103.96H640.34V106.39H641.48V106.39H642.64V107.48H643.80V107.48H649.58V107.48H650.73V108.69H651.87V108.69H653.03V109.24H654.19V109.24H654.76V111.00H655.33V111.00H657.06V111.54H658.80V111.54H659.96V113.84H661.11V113.84H662.27V114.92H663.43V114.92H666.31V115.60H669.19V115.60H669.77V116.68H670.36V116.68H672.08V117.22H673.79V117.22H674.95V118.44H676.11V118.44H677.80" fill="none" stroke="#2c7ea0" stroke-width="1.1"/>
<line x1="534.70" y1="4.03" x2="534.70" y2="146.70" stroke="#333" stroke-width="1.1" />
<line x1="534.20" y1="146.20" x2="678.20" y2="146.20" stroke="#888" stroke-width="1.2" />
<line x1="532.40" y1="146.20" x2="534.70" y2="146.20" stroke="#999" stroke-width="0.9" />
<text class="n" transform="translate(531.20,148.90) scale(1,1.08)" font-size="7.6" text-anchor="end" font-weight="normal" fill="#111" >0.0</text>
<line x1="532.40" y1="119.12" x2="534.70" y2="119.12" stroke="#999" stroke-width="0.9" />
<text class="n" transform="translate(531.20,121.82) scale(1,1.08)" font-size="7.6" text-anchor="end" font-weight="normal" fill="#111" >0.2</text>
<line x1="532.40" y1="92.04" x2="534.70" y2="92.04" stroke="#999" stroke-width="0.9" />
<text class="n" transform="translate(531.20,94.74) scale(1,1.08)" font-size="7.6" text-anchor="end" font-weight="normal" fill="#111" >0.4</text>
<line x1="532.40" y1="64.96" x2="534.70" y2="64.96" stroke="#999" stroke-width="0.9" />
<text class="n" transform="translate(531.20,67.66) scale(1,1.08)" font-size="7.6" text-anchor="end" font-weight="normal" fill="#111" >0.6</text>
<line x1="532.40" y1="37.88" x2="534.70" y2="37.88" stroke="#999" stroke-width="0.9" />
<text class="n" transform="translate(531.20,40.58) scale(1,1.08)" font-size="7.6" text-anchor="end" font-weight="normal" fill="#111" >0.8</text>
<line x1="532.40" y1="10.80" x2="534.70" y2="10.80" stroke="#999" stroke-width="0.9" />
<text class="n" transform="translate(531.20,13.50) scale(1,1.08)" font-size="7.6" text-anchor="end" font-weight="normal" fill="#111" >1.0</text>
<line x1="534.70" y1="146.20" x2="534.70" y2="148.80" stroke="#444" stroke-width="0.9" />
<text class="n" transform="translate(534.70,154.80) scale(1,1.08)" font-size="7.6" text-anchor="middle" font-weight="normal" fill="#111" >0</text>
<line x1="563.32" y1="146.20" x2="563.32" y2="148.80" stroke="#444" stroke-width="0.9" />
<text class="n" transform="translate(563.32,154.80) scale(1,1.08)" font-size="7.6" text-anchor="middle" font-weight="normal" fill="#111" >1</text>
<line x1="591.94" y1="146.20" x2="591.94" y2="148.80" stroke="#444" stroke-width="0.9" />
<text class="n" transform="translate(591.94,154.80) scale(1,1.08)" font-size="7.6" text-anchor="middle" font-weight="normal" fill="#111" >2</text>
<line x1="620.56" y1="146.20" x2="620.56" y2="148.80" stroke="#444" stroke-width="0.9" />
<text class="n" transform="translate(620.56,154.80) scale(1,1.08)" font-size="7.6" text-anchor="middle" font-weight="normal" fill="#111" >3</text>
<line x1="649.18" y1="146.20" x2="649.18" y2="148.80" stroke="#444" stroke-width="0.9" />
<text class="n" transform="translate(649.18,154.80) scale(1,1.08)" font-size="7.6" text-anchor="middle" font-weight="normal" fill="#111" >4</text>
<line x1="677.80" y1="146.20" x2="677.80" y2="148.80" stroke="#444" stroke-width="0.9" />
<text class="n" transform="translate(677.80,154.80) scale(1,1.08)" font-size="7.6" text-anchor="middle" font-weight="normal" fill="#111" >5</text>
<text class="n" transform="translate(606.25,163.40) scale(1,1.08)" font-size="7.5" text-anchor="middle" font-weight="normal" fill="#111" >Time (years)</text>
<text transform="translate(517.30,74.00) rotate(-90) scale(1,1.08)" class="n" font-size="7.6" text-anchor="middle" fill="#111">Survival probability</text>
<text class="n" transform="translate(592.10,16.60) scale(1,1.08)" font-size="7.6" text-anchor="start" font-weight="normal" fill="#111" >n=200</text>
<text class="n" transform="translate(592.10,24.90) scale(1,1.08)" font-size="7.6" text-anchor="start" font-weight="normal" fill="#111" >log-rank test, p=0.032</text>
<text class="n" transform="translate(592.10,33.60) scale(1,1.08)" font-size="7.6" text-anchor="start" font-weight="normal" fill="#111" >MG (fine-tuned)</text>
<rect x="539.00" y="118.30" width="57.6" height="24.2" rx="1.5" fill="#fff" fill-opacity="0.8" stroke="#ebebeb" stroke-width="0.7"/>
<line x1="541.20" y1="124.10" x2="557.70" y2="124.10" stroke="#bf5c72" stroke-width="1.2" />
<line x1="541.20" y1="134.70" x2="557.70" y2="134.70" stroke="#78afcc" stroke-width="1.2" />
<text class="n" transform="translate(563.60,126.90) scale(1,1.08)" font-size="7.6" text-anchor="start" font-weight="normal" fill="#111" >High risk</text>
<text class="n" transform="translate(563.60,137.50) scale(1,1.08)" font-size="7.6" text-anchor="start" font-weight="normal" fill="#111" >Low risk</text>
<text transform="translate(510.90,8.90) scale(1,1.0)" font-size="12.0" text-anchor="start" font-weight="bold" fill="#000" >d</text>
<path d="M23.53,174.00H28.57V174.00H28.84V174.80H29.11V174.80H29.38V175.61H29.65V175.61H30.21V176.21H30.77V176.21H31.31V176.86H31.86V176.86H32.40V177.89H32.94V177.89H33.49V178.97H34.03V178.97H34.59V180.10H35.15V180.10H35.69V181.36H36.24V181.36H36.78V181.76H37.32V181.76H37.88V182.97H38.44V182.97H39.26V184.20H40.07V184.20H40.61V185.46H41.16V185.46H41.99V186.74H42.82V186.74H43.36V188.03H43.91V188.03H44.18V189.35H44.45V189.35H44.99V191.24H45.54V191.24H46.10V193.04H46.65V193.04H47.47V194.87H48.28V194.87H49.11V196.72H49.94V196.72H50.76V198.59H51.58V198.59H52.12V199.54H52.66V199.54H53.22V200.96H53.78V200.96H54.05V202.51H54.32V202.51H54.87V203.96H55.41V203.96H55.96V205.41H56.50V205.41H57.06V206.87H57.62V206.87H58.16V208.34H58.70V208.34H59.25V210.31H59.79V210.31H60.33V211.80H60.88V211.80H61.44V213.93H61.99V213.93H62.81V216.45H63.63V216.45H64.73V216.95H65.83V216.95H66.64V217.46H67.46V217.46H67.73V219.50H68.00V219.50H68.83V221.04H69.66V221.04H70.48V222.58H71.30V222.58H71.50V222.58H72.23V223.62H72.96V223.62H73.56V223.62H74.06V225.30H74.56V225.30H74.59V225.30H74.86V226.87H75.13V226.87H75.36V227.26H75.59V227.26H76.62V229.36H77.65V229.36H78.67V231.34H79.68V231.34H80.71V232.27H81.74V232.27H82.24V234.80H82.74V234.80H83.77V237.89H84.80V237.89H85.82V238.83H86.84V238.83H88.37V239.92H89.90V239.92H90.93V240.87H91.96V240.87H92.69V241.00H93.42V241.00H93.70V241.96H93.99V241.96H94.28V242.78H94.56V242.78H94.79V244.01H95.02V244.01H95.36V246.21H95.71V246.21H95.88V246.63H96.05V246.63H113.02V246.63H113.60V247.46H114.17V247.46H117.63V248.01H121.09V248.01H121.68V249.27H122.27V249.27H126.30V249.82H130.34V249.82H130.91V250.66H131.48V250.66H143.05V250.66H143.62V253.33H144.19V253.33H144.76V255.17H145.34V255.17H146.49V255.88H147.65V255.88H148.23V257.59H148.80V257.59H149.96V260.03H151.12V260.03H152.28V261.33H153.43V261.33H158.04V261.33H158.62V263.22H159.19V263.22H161.49V263.80H163.80V263.80H164.67V264.97H165.54V264.97H166.11V265.71H166.69V265.71H166.60V287.97H166.69V287.97H166.11V287.40H165.54V287.40H164.67V286.47H163.80V286.47H161.49V286.01H159.19V286.01H158.62V284.50H158.04V284.50H153.43V284.50H152.28V283.45H151.12V283.45H149.96V281.44H148.80V281.44H148.23V280.01H147.65V280.01H146.49V279.41H145.34V279.41H144.76V277.84H144.19V277.84H143.62V275.54H143.05V275.54H131.48V275.54H130.91V274.81H130.34V274.81H126.30V274.32H122.27V274.32H121.68V273.21H121.09V273.21H117.63V272.72H114.17V272.72H113.60V271.98H113.02V271.98H96.05V271.98H95.88V271.60H95.71V271.60H95.36V269.61H95.02V269.61H94.79V268.49H94.56V268.49H94.28V267.74H93.99V267.74H93.70V266.85H93.42V266.85H92.69V266.73H91.96V266.73H90.93V265.84H89.90V265.84H88.37V264.83H86.84V264.83H85.82V263.94H84.80V263.94H83.77V261.00H82.74V261.00H82.24V258.55H81.74V258.55H80.71V257.64H79.68V257.64H78.67V255.68H77.65V255.68H76.62V253.59H75.59V253.59H75.36V253.19H75.13V253.19H74.86V251.61H74.59V251.61H74.56V251.61H74.06V249.88H73.56V249.88H72.96V249.88H72.23V248.82H71.50V248.82H71.30V248.82H70.48V247.21H69.66V247.21H68.83V245.60H68.00V245.60H67.73V243.44H67.46V243.44H66.64V242.89H65.83V242.89H64.73V242.35H63.63V242.35H62.81V239.62H61.99V239.62H61.44V237.28H60.88V237.28H60.33V235.62H59.79V235.62H59.25V233.39H58.70V233.39H58.16V231.71H57.62V231.71H57.06V230.02H56.50V230.02H55.96V228.32H55.41V228.32H54.87V226.62H54.32V226.62H54.05V224.76H53.78V224.76H53.22V223.03H52.66V223.03H52.12V221.87H51.58V221.87H50.76V219.54H49.94V219.54H49.11V217.19H48.28V217.19H47.47V214.82H46.65V214.82H46.10V212.42H45.54V212.42H44.99V209.85H44.45V209.85H44.18V208.02H43.91V208.02H43.36V206.17H42.82V206.17H41.99V204.30H41.16V204.30H40.61V202.41H40.07V202.41H39.26V200.50H38.44V200.50H37.88V198.57H37.32V198.57H36.78V197.92H36.24V197.92H35.69V195.79H35.15V195.79H34.59V193.80H34.03V193.80H33.49V191.77H32.94V191.77H32.40V189.70H31.86V189.70H31.31V188.31H30.77V188.31H30.21V186.90H29.65V186.90H29.38V184.83H29.11V184.83H28.84V174.00H28.57V174.00H23.53Z" fill="#3a86aa" fill-opacity="0.13" stroke="none"/>
<path d="M23.53,174.00H25.82V174.00H25.82V174.57H26.65V175.05H27.48V175.05H28.02V175.61H28.57V175.61H28.84V176.86H29.11V176.86H29.94V177.89H30.77V177.89H31.31V179.34H31.86V179.34H32.40V180.58H32.94V180.58H33.49V181.76H34.03V181.76H34.59V183.38H35.15V183.38H35.42V185.88H35.69V185.88H35.96V187.60H36.24V187.60H36.78V188.91H37.32V188.91H37.88V190.35H38.44V190.35H38.71V193.04H38.98V193.04H39.26V194.87H39.53V194.87H40.07V195.80H40.61V195.80H40.89V197.66H41.16V197.66H41.72V199.54H42.27V199.54H42.55V202.51H42.82V202.51H43.63V203.47H44.45V203.47H44.99V205.41H45.54V205.41H46.65V205.41H46.93V208.34H47.20V208.34H47.74V210.31H48.28V210.31H48.56V212.30H48.83V212.30H49.39V213.93H49.94V213.93H50.49V215.44H51.03V215.44H51.58V216.95H52.12V216.95H52.66V218.48H53.21V218.48H53.77V220.01H54.32V220.01H54.74V220.91H55.15V220.91H55.55V221.55H55.96V221.55H56.50V222.58H57.04V222.58H57.11V222.84H57.19V222.84H57.94V223.62H58.70V223.62H58.96V224.91H59.22V224.91H59.23V225.82H59.25V225.82H59.75V227.78H60.25V227.78H60.76V230.81H61.28V230.81H62.29V233.33H63.31V233.33H63.83V235.87H64.34V235.87H65.37V238.29H66.40V238.29H67.42V238.83H68.43V238.83H69.46V240.87H70.49V240.87H70.99V242.92H71.50V242.92H72.01V244.97H72.53V244.97H73.04V247.18H73.56V247.18H74.57V249.69H75.59V249.69H76.62V251.36H77.65V251.36H78.15V253.47H78.65V253.47H80.20V254.04H81.74V254.04H83.77V254.46H85.81V254.46H86.84V256.74H87.87V256.74H89.40V257.74H90.93V257.74H92.25V257.74H93.12V258.88H93.99V258.88H94.56V258.88H95.31V259.89H96.05V259.89H96.17V260.75H96.28V260.75H96.68V262.64H97.08V262.64H97.27V263.22H97.45V263.22H98.80V263.80H100.14V263.80H101.49V263.80H102.35V264.24H103.21V264.24H104.22V265.41H105.24V265.41H106.10V265.41H106.68V266.88H107.27V266.88H109.57V268.22H111.88V268.22H113.61V268.81H115.34V268.81H116.49V270.00H117.63V270.00H124.56V270.00H125.72V270.75H126.88V270.75H128.03V271.35H129.19V271.35H130.05V274.53H130.91V274.53H131.78V275.91H132.66V275.91H138.41V275.91H139.57V277.91H140.73V277.91H141.30V279.15H141.87V279.15H146.51V279.15H147.65V281.82H148.80V281.82H149.96V282.46H151.12V282.46H151.69V284.54H152.26V284.54H166.69V284.54H166.60V301.21H166.69V301.21H152.26V301.21H151.69V299.91H151.12V299.91H149.96V299.50H148.80V299.50H147.65V297.75H146.51V297.75H141.87V297.75H141.30V296.91H140.73V296.91H139.57V295.52H138.41V295.52H132.66V295.52H131.78V294.55H130.91V294.55H130.05V292.25H129.19V292.25H128.03V291.80H126.88V291.80H125.72V291.25H124.56V291.25H117.63V291.25H116.49V290.35H115.34V290.35H113.61V289.90H111.88V289.90H109.57V288.88H107.27V288.88H106.68V287.74H106.10V287.74H105.24V287.74H104.22V286.82H103.21V286.82H102.35V286.47H101.49V286.47H100.14V286.47H98.80V286.01H97.45V286.01H97.27V285.55H97.08V285.55H96.68V284.03H96.28V284.03H96.17V283.33H96.05V283.33H95.31V282.50H94.56V282.50H93.99V282.50H93.12V281.56H92.25V281.56H90.93V281.56H89.40V280.72H87.87V280.72H86.84V278.81H85.81V278.81H83.77V278.45H81.74V278.45H80.20V277.97H78.65V277.97H78.15V276.15H77.65V276.15H76.62V274.68H75.59V274.68H74.57V272.47H73.56V272.47H73.04V270.49H72.53V270.49H72.01V268.61H71.50V268.61H70.99V266.73H70.49V266.73H69.46V264.83H68.43V264.83H67.42V264.32H66.40V264.32H65.37V262.03H64.34V262.03H63.83V259.58H63.31V259.58H62.29V257.12H61.28V257.12H60.76V254.11H60.25V254.11H59.75V252.14H59.25V252.14H59.23V251.21H59.22V251.21H58.96V249.88H58.70V249.88H57.94V249.08H57.19V249.08H57.11V248.82H57.04V248.82H56.50V247.75H55.96V247.75H55.55V247.08H55.15V247.08H54.74V246.14H54.32V246.14H53.77V244.52H53.21V244.52H52.66V242.89H52.12V242.89H51.58V241.26H51.03V241.26H50.49V239.62H49.94V239.62H49.39V237.83H48.83V237.83H48.56V235.62H48.28V235.62H47.74V233.39H47.20V233.39H46.93V230.02H46.65V230.02H45.54V230.02H44.99V227.76H44.45V227.76H43.63V226.62H42.82V226.62H42.55V223.03H42.27V223.03H41.72V220.71H41.16V220.71H40.89V218.37H40.61V218.37H40.07V217.19H39.53V217.19H39.26V214.82H38.98V214.82H38.71V211.21H38.44V211.21H37.88V209.24H37.32V209.24H36.78V207.40H36.24V207.40H35.96V204.92H35.69V204.92H35.42V201.14H35.15V201.14H34.59V198.57H34.03V198.57H33.49V196.62H32.94V196.62H32.40V194.46H31.86V194.46H31.31V191.77H30.77V191.77H29.94V189.70H29.11V189.70H28.84V186.90H28.57V186.90H28.02V185.51H27.48V185.51H26.65V184.20H25.82V174.00H25.82V174.00H23.53Z" fill="#c0405a" fill-opacity="0.14" stroke="none"/>
<path d="M23.53,174.00H25.82V174.00H25.82V176.44H26.65V177.52H27.48V177.52H28.02V178.60H28.57V178.60H28.84V180.77H29.11V180.77H29.94V182.39H30.77V182.39H31.31V184.56H31.86V184.56H32.40V186.32H32.94V186.32H33.49V187.95H34.03V187.95H34.59V190.11H35.15V190.11H35.42V193.36H35.69V193.36H35.96V195.53H36.24V195.53H36.78V197.15H37.32V197.15H37.88V198.91H38.44V198.91H38.71V202.16H38.98V202.16H39.26V204.33H39.53V204.33H40.07V205.41H40.61V205.41H40.89V207.58H41.16V207.58H41.72V209.75H42.27V209.75H42.55V213.13H42.82V213.13H43.63V214.21H44.45V214.21H44.99V216.38H45.54V216.38H46.65V216.38H46.93V219.63H47.20V219.63H47.74V221.80H48.28V221.80H48.56V223.96H48.83V223.96H49.39V225.72H49.94V225.72H50.49V227.35H51.03V227.35H51.58V228.97H52.12V228.97H52.66V230.60H53.21V230.60H53.77V232.22H54.32V232.22H54.74V233.17H55.15V233.17H55.55V233.85H55.96V233.85H56.50V234.93H57.04V234.93H57.11V235.20H57.19V235.20H57.94V236.01H58.70V236.01H58.96V237.37H59.22V237.37H59.23V238.31H59.25V238.31H59.75V240.35H60.25V240.35H60.76V243.46H61.28V243.46H62.29V246.03H63.31V246.03H63.83V248.61H64.34V248.61H65.37V251.04H66.40V251.04H67.42V251.58H68.43V251.58H69.46V253.62H70.49V253.62H70.99V255.65H71.50V255.65H72.01V257.68H72.53V257.68H73.04V259.84H73.56V259.84H74.57V262.28H75.59V262.28H76.62V263.91H77.65V263.91H78.15V265.94H78.65V265.94H80.20V266.48H81.74V266.48H83.77V266.88H85.81V266.88H86.84V269.05H87.87V269.05H89.40V270.00H90.93V270.00H92.25V270.00H93.12V271.08H93.99V271.08H94.56V271.08H95.31V272.03H96.05V272.03H96.17V272.84H96.28V272.84H96.68V274.60H97.08V274.60H97.27V275.14H97.45V275.14H98.80V275.69H100.14V275.69H101.49V275.69H102.35V276.09H103.21V276.09H104.22V277.17H105.24V277.17H106.10V277.17H106.68V278.53H107.27V278.53H109.57V279.75H111.88V279.75H113.61V280.29H115.34V280.29H116.49V281.37H117.63V281.37H124.56V281.37H125.72V282.05H126.88V282.05H128.03V282.59H129.19V282.59H130.05V285.43H130.91V285.43H131.78V286.65H132.66V286.65H138.41V286.65H139.57V288.41H140.73V288.41H141.30V289.50H141.87V289.50H146.51V289.50H147.65V291.80H148.80V291.80H149.96V292.34H151.12V292.34H151.69V294.10H152.26V294.10H166.69V294.10H166.60" fill="none" stroke="#b03a52" stroke-width="1.1"/>
<path d="M23.53,174.00H28.57V174.00H28.84V176.98H29.11V176.98H29.38V178.60H29.65V178.60H30.21V179.69H30.77V179.69H31.31V180.77H31.86V180.77H32.40V182.39H32.94V182.39H33.49V184.02H34.03V184.02H34.59V185.64H35.15V185.64H35.69V187.40H36.24V187.40H36.78V187.95H37.32V187.95H37.88V189.57H38.44V189.57H39.26V191.20H40.07V191.20H40.61V192.82H41.16V192.82H41.99V194.45H42.82V194.45H43.36V196.07H43.91V196.07H44.18V197.69H44.45V197.69H44.99V200.00H45.54V200.00H46.10V202.16H46.65V202.16H47.47V204.33H48.28V204.33H49.11V206.50H49.94V206.50H50.76V208.66H51.58V208.66H52.12V209.75H52.66V209.75H53.22V211.37H53.78V211.37H54.05V213.13H54.32V213.13H54.87V214.76H55.41V214.76H55.96V216.38H56.50V216.38H57.06V218.00H57.62V218.00H58.16V219.63H58.70V219.63H59.25V221.80H59.79V221.80H60.33V223.42H60.88V223.42H61.44V225.72H61.99V225.72H62.81V228.43H63.63V228.43H64.73V228.97H65.83V228.97H66.64V229.51H67.46V229.51H67.73V231.68H68.00V231.68H68.83V233.31H69.66V233.31H70.48V234.93H71.30V234.93H71.50V234.93H72.23V236.01H72.96V236.01H73.56V236.01H74.06V237.77H74.56V237.77H74.59V237.77H74.86V239.40H75.13V239.40H75.36V239.80H75.59V239.80H76.62V241.97H77.65V241.97H78.67V244.00H79.68V244.00H80.71V244.95H81.74V244.95H82.24V247.52H82.74V247.52H83.77V250.64H84.80V250.64H85.82V251.58H86.84V251.58H88.37V252.67H89.90V252.67H90.93V253.62H91.96V253.62H92.69V253.75H93.42V253.75H93.70V254.70H93.99V254.70H94.28V255.51H94.56V255.51H94.79V256.73H95.02V256.73H95.36V258.90H95.71V258.90H95.88V259.30H96.05V259.30H113.02V259.30H113.60V260.11H114.17V260.11H117.63V260.66H121.09V260.66H121.68V261.87H122.27V261.87H126.30V262.42H130.34V262.42H130.91V263.23H131.48V263.23H143.05V263.23H143.62V265.80H144.19V265.80H144.76V267.56H145.34V267.56H146.49V268.24H147.65V268.24H148.23V269.86H148.80V269.86H149.96V272.16H151.12V272.16H152.28V273.38H153.43V273.38H158.04V273.38H158.62V275.14H159.19V275.14H161.49V275.69H163.80V275.69H164.67V276.77H165.54V276.77H166.11V277.45H166.69V277.45H166.60" fill="none" stroke="#2c7ea0" stroke-width="1.1"/>
<line x1="23.50" y1="167.23" x2="23.50" y2="309.90" stroke="#333" stroke-width="1.1" />
<line x1="23.00" y1="309.40" x2="167.00" y2="309.40" stroke="#888" stroke-width="1.2" />
<line x1="21.20" y1="309.40" x2="23.50" y2="309.40" stroke="#999" stroke-width="0.9" />
<text class="n" transform="translate(20.00,312.10) scale(1,1.08)" font-size="7.6" text-anchor="end" font-weight="normal" fill="#111" >0.0</text>
<line x1="21.20" y1="282.32" x2="23.50" y2="282.32" stroke="#999" stroke-width="0.9" />
<text class="n" transform="translate(20.00,285.02) scale(1,1.08)" font-size="7.6" text-anchor="end" font-weight="normal" fill="#111" >0.2</text>
<line x1="21.20" y1="255.24" x2="23.50" y2="255.24" stroke="#999" stroke-width="0.9" />
<text class="n" transform="translate(20.00,257.94) scale(1,1.08)" font-size="7.6" text-anchor="end" font-weight="normal" fill="#111" >0.4</text>
<line x1="21.20" y1="228.16" x2="23.50" y2="228.16" stroke="#999" stroke-width="0.9" />
<text class="n" transform="translate(20.00,230.86) scale(1,1.08)" font-size="7.6" text-anchor="end" font-weight="normal" fill="#111" >0.6</text>
<line x1="21.20" y1="201.08" x2="23.50" y2="201.08" stroke="#999" stroke-width="0.9" />
<text class="n" transform="translate(20.00,203.78) scale(1,1.08)" font-size="7.6" text-anchor="end" font-weight="normal" fill="#111" >0.8</text>
<line x1="21.20" y1="174.00" x2="23.50" y2="174.00" stroke="#999" stroke-width="0.9" />
<text class="n" transform="translate(20.00,176.70) scale(1,1.08)" font-size="7.6" text-anchor="end" font-weight="normal" fill="#111" >1.0</text>
<line x1="23.50" y1="309.40" x2="23.50" y2="312.00" stroke="#444" stroke-width="0.9" />
<text class="n" transform="translate(23.50,318.00) scale(1,1.08)" font-size="7.6" text-anchor="middle" font-weight="normal" fill="#111" >0</text>
<line x1="52.12" y1="309.40" x2="52.12" y2="312.00" stroke="#444" stroke-width="0.9" />
<text class="n" transform="translate(52.12,318.00) scale(1,1.08)" font-size="7.6" text-anchor="middle" font-weight="normal" fill="#111" >1</text>
<line x1="80.74" y1="309.40" x2="80.74" y2="312.00" stroke="#444" stroke-width="0.9" />
<text class="n" transform="translate(80.74,318.00) scale(1,1.08)" font-size="7.6" text-anchor="middle" font-weight="normal" fill="#111" >2</text>
<line x1="109.36" y1="309.40" x2="109.36" y2="312.00" stroke="#444" stroke-width="0.9" />
<text class="n" transform="translate(109.36,318.00) scale(1,1.08)" font-size="7.6" text-anchor="middle" font-weight="normal" fill="#111" >3</text>
<line x1="137.98" y1="309.40" x2="137.98" y2="312.00" stroke="#444" stroke-width="0.9" />
<text class="n" transform="translate(137.98,318.00) scale(1,1.08)" font-size="7.6" text-anchor="middle" font-weight="normal" fill="#111" >4</text>
<line x1="166.60" y1="309.40" x2="166.60" y2="312.00" stroke="#444" stroke-width="0.9" />
<text class="n" transform="translate(166.60,318.00) scale(1,1.08)" font-size="7.6" text-anchor="middle" font-weight="normal" fill="#111" >5</text>
<text class="n" transform="translate(95.05,326.60) scale(1,1.08)" font-size="7.5" text-anchor="middle" font-weight="normal" fill="#111" >Time (years)</text>
<text transform="translate(6.10,237.20) rotate(-90) scale(1,1.08)" class="n" font-size="7.6" text-anchor="middle" fill="#111">Survival probability</text>
<text class="n" transform="translate(80.90,179.80) scale(1,1.08)" font-size="7.6" text-anchor="start" font-weight="normal" fill="#111" >n=200</text>
<text class="n" transform="translate(80.90,188.10) scale(1,1.08)" font-size="7.6" text-anchor="start" font-weight="normal" fill="#111" >log-rank test, p=0.005</text>
<text class="n" transform="translate(80.90,196.80) scale(1,1.08)" font-size="7.6" text-anchor="start" font-weight="normal" fill="#111" >LCTfound (features)</text>
<rect x="27.80" y="281.50" width="57.6" height="24.2" rx="1.5" fill="#fff" fill-opacity="0.8" stroke="#ebebeb" stroke-width="0.7"/>
<line x1="30.00" y1="287.30" x2="46.50" y2="287.30" stroke="#bf5c72" stroke-width="1.2" />
<line x1="30.00" y1="297.90" x2="46.50" y2="297.90" stroke="#78afcc" stroke-width="1.2" />
<text class="n" transform="translate(52.40,290.10) scale(1,1.08)" font-size="7.6" text-anchor="start" font-weight="normal" fill="#111" >High risk</text>
<text class="n" transform="translate(52.40,300.70) scale(1,1.08)" font-size="7.6" text-anchor="start" font-weight="normal" fill="#111" >Low risk</text>
<text transform="translate(-0.30,172.00) scale(1,1.0)" font-size="12.0" text-anchor="start" font-weight="bold" fill="#000" >e</text>
<path d="M193.90,174.00H195.82V174.00H196.38V174.36H196.93V174.36H197.48V175.05H198.02V175.05H198.84V175.91H199.65V175.91H200.21V176.86H200.77V176.86H201.31V177.89H201.86V177.89H202.67V178.97H203.49V178.97H204.05V180.10H204.60V180.10H205.15V181.36H205.69V181.36H205.96V182.97H206.24V182.97H207.05V183.38H207.87V183.38H208.15V185.04H208.44V185.04H208.71V187.17H208.98V187.17H209.25V189.35H209.53V189.35H210.07V191.24H210.61V191.24H210.89V193.96H211.16V193.96H211.72V196.26H212.27V196.26H213.09V198.12H213.91V198.12H214.72V199.07H215.54V199.07H216.37V200.48H217.20V200.48H217.47V203.47H217.74V203.47H218.28V205.41H218.83V205.41H219.39V206.38H219.94V206.38H220.49V207.36H221.03V207.36H221.58V208.83H222.12V208.83H228.16V208.83H228.70V210.31H229.25V210.31H229.52V212.93H229.79V212.93H230.62V213.93H231.45V213.93H233.62V213.93H234.45V215.44H235.28V215.44H236.10V216.45H236.92V216.45H238.02V216.95H239.12V216.95H239.66V218.48H240.21V218.48H240.75V219.50H241.29V219.50H241.50V219.50H241.94V221.04H242.38V221.04H242.53V221.04H243.01V222.07H243.50V222.07H243.56V222.07H244.06V223.87H244.56V223.87H244.57V224.13H244.59V224.13H245.09V225.82H245.59V225.82H245.67V225.82H246.66V227.78H247.65V227.78H248.15V229.75H248.65V229.75H249.17V231.34H249.68V231.34H250.71V232.27H251.74V232.27H252.24V234.27H252.74V234.27H253.77V236.27H254.80V236.27H255.82V237.35H256.84V237.35H257.87V238.83H258.90V238.83H259.43V240.46H259.95V240.46H260.93V240.46H261.59V241.00H262.24V241.00H262.62V241.41H262.99V241.41H263.78V242.78H264.56V242.78H264.79V242.92H265.02V242.92H265.36V244.56H265.71V244.56H265.88V244.97H266.05V244.97H266.47V246.91H266.88V246.91H266.98V247.60H267.08V247.60H267.55V248.57H268.03V248.57H268.57V248.71H269.11V248.71H273.21V248.71H277.27V248.71H277.28V249.27H277.30V249.27H277.86V250.38H278.41V250.38H279.33V250.38H281.18V250.94H283.02V250.94H283.61V251.64H284.20V251.64H285.91V252.77H287.63V252.77H288.22V254.04H288.80V254.04H291.11V254.60H293.41V254.60H293.98V255.17H294.56V255.17H295.72V256.45H296.87V256.45H298.03V257.02H299.19V257.02H299.77V258.88H300.34V258.88H300.91V261.33H301.48V261.33H302.07V262.35H302.66V262.35H313.05V262.35H313.62V263.80H314.19V263.80H316.49V264.39H318.80V264.39H319.38V266.88H319.97V266.88H320.54V268.81H321.12V268.81H321.69V270.75H322.26V270.75H322.55V271.95H322.83V271.95H336.69V271.95H337.00V292.69H336.69V292.69H322.83V292.69H322.55V291.80H322.26V291.80H321.69V290.35H321.12V290.35H320.54V288.88H319.97V288.88H319.38V286.94H318.80V286.94H316.49V286.47H314.19V286.47H313.62V285.32H313.05V285.32H302.66V285.32H302.07V284.50H301.48V284.50H300.91V282.50H300.34V282.50H299.77V280.96H299.19V280.96H298.03V280.49H296.87V280.49H295.72V279.41H294.56V279.41H293.98V278.93H293.41V278.93H291.11V278.45H288.80V278.45H288.22V277.36H287.63V277.36H285.91V276.39H284.20V276.39H283.61V275.78H283.02V275.78H281.18V275.29H279.33V275.29H278.41V275.29H277.86V274.32H277.30V274.32H277.28V273.82H277.27V273.82H273.21V273.82H269.11V273.82H268.57V273.70H268.03V273.70H267.55V272.84H267.08V272.84H266.98V272.22H266.88V272.22H266.47V270.49H266.05V270.49H265.88V270.11H265.71V270.11H265.36V268.61H265.02V268.61H264.79V268.49H264.56V268.49H263.78V267.23H262.99V267.23H262.62V266.85H262.24V266.85H261.59V266.35H260.93V266.35H259.95V266.35H259.43V264.83H258.90V264.83H257.87V263.43H256.84V263.43H255.82V262.41H254.80V262.41H253.77V260.48H252.74V260.48H252.24V258.55H251.74V258.55H250.71V257.64H249.68V257.64H249.17V256.08H248.65V256.08H248.15V254.11H247.65V254.11H246.66V252.14H245.67V252.14H245.59V252.14H245.09V250.41H244.59V250.41H244.57V250.15H244.56V250.15H244.06V248.28H243.56V248.28H243.50V248.28H243.01V247.21H242.53V247.21H242.38V247.21H241.94V245.60H241.50V245.60H241.29V245.60H240.75V244.52H240.21V244.52H239.66V242.89H239.12V242.89H238.02V242.35H236.92V242.35H236.10V241.26H235.28V241.26H234.45V239.62H233.62V239.62H231.45V239.62H230.62V238.52H229.79V238.52H229.52V235.62H229.25V235.62H228.70V233.95H228.16V233.95H222.12V233.95H221.58V232.27H221.03V232.27H220.49V231.15H219.94V231.15H219.39V230.02H218.83V230.02H218.28V227.76H217.74V227.76H217.47V224.18H217.20V224.18H216.37V222.45H215.54V222.45H214.72V221.29H213.91V221.29H213.09V218.95H212.27V218.95H211.72V216.00H211.16V216.00H210.89V212.42H210.61V212.42H210.07V209.85H209.53V209.85H209.25V206.78H208.98V206.78H208.71V203.67H208.44V203.67H208.15V201.14H207.87V201.14H207.05V200.50H206.24V200.50H205.96V197.92H205.69V197.92H205.15V195.79H204.60V195.79H204.05V193.80H203.49V193.80H202.67V191.77H201.86V191.77H201.31V189.70H200.77V189.70H200.21V187.60H199.65V187.60H198.84V185.51H198.02V185.51H197.48V183.64H196.93V183.64H196.38V174.00H195.82V174.00H193.90Z" fill="#3a86aa" fill-opacity="0.13" stroke="none"/>
<path d="M193.90,174.00H197.48V174.00H197.48V174.19H198.29V174.80H199.11V174.80H199.38V176.53H199.65V176.53H200.21V177.54H200.77V177.54H201.31V178.60H201.86V178.60H202.94V180.10H204.03V180.10H204.59V181.76H205.15V181.76H205.69V183.79H206.24V183.79H206.78V185.46H207.32V185.46H208.15V187.60H208.98V187.60H209.53V189.35H210.07V189.35H210.61V191.24H211.16V191.24H211.72V193.04H212.27V193.04H212.82V194.41H213.36V194.41H213.91V195.80H214.45V195.80H214.99V197.66H215.54V197.66H216.09V199.54H216.65V199.54H216.92V200.48H217.20V200.48H217.47V202.51H217.74V202.51H218.01V205.41H218.28V205.41H218.83V207.36H219.37V207.36H219.93V208.34H220.49V208.34H221.30V209.33H222.12V209.33H222.66V211.31H223.21V211.31H223.49V213.43H223.78V213.43H224.32V215.44H224.87V215.44H225.41V217.46H225.95V217.46H226.50V219.50H227.04V219.50H227.60V220.52H228.16V220.52H228.22V220.52H228.72V222.84H229.22V222.84H229.25V222.84H229.75V225.30H230.25V225.30H230.33V225.30H230.81V227.78H231.28V227.78H231.79V230.81H232.31V230.81H232.81V232.80H233.31V232.80H233.82V235.87H234.34V235.87H234.86V237.35H235.37V237.35H236.39V238.29H237.40V238.29H238.43V239.92H239.46V239.92H240.48V241.96H241.50V241.96H242.53V244.01H243.56V244.01H244.57V247.18H245.59V247.18H246.62V249.27H247.65V249.27H248.66V250.80H249.68V250.80H250.71V251.92H251.74V251.92H252.76V252.35H253.77V252.35H254.79V254.04H255.81V254.04H257.35V255.03H258.90V255.03H260.43V256.17H261.96V256.17H262.24V256.17H263.40V257.02H264.56V257.02H264.79V257.16H265.02V257.16H265.54V258.88H266.05V258.88H266.88V258.88H267.45V260.03H268.03V260.03H268.08V260.03H270.13V261.04H272.18V261.04H272.63V261.04H273.79V261.33H274.95V261.33H275.09V261.48H275.24V261.48H276.25V262.49H277.27V262.49H280.15V263.22H283.02V263.22H284.18V264.09H285.34V264.09H299.19V264.09H299.77V264.97H300.34V264.97H304.37V265.27H308.41V265.27H309.57V266.88H310.73V266.88H311.89V268.22H313.05V268.22H314.19V269.41H315.33V269.41H315.92V270.75H316.51V270.75H317.65V271.95H318.80V271.95H320.53V273.31H322.26V273.31H322.85V274.53H323.43V274.53H329.19V274.53H329.76V275.91H330.33V275.91H332.06V276.52H333.79V276.52H334.95V278.53H336.11V278.53H337.00V297.33H336.11V297.33H334.95V295.95H333.79V295.95H332.06V295.52H330.33V295.52H329.76V294.55H329.19V294.55H323.43V294.55H322.85V293.68H322.26V293.68H320.53V292.69H318.80V292.69H317.65V291.80H316.51V291.80H315.92V290.80H315.33V290.80H314.19V289.90H313.05V289.90H311.89V288.88H310.73V288.88H309.57V287.62H308.41V287.62H304.37V287.40H300.34V287.40H299.77V286.71H299.19V286.71H285.34V286.71H284.18V286.01H283.02V286.01H280.15V285.43H277.27V285.43H276.25V284.62H275.24V284.62H275.09V284.50H274.95V284.50H273.79V284.27H272.63V284.27H272.18V284.27H270.13V283.45H268.08V283.45H268.03V283.45H267.45V282.50H266.88V282.50H266.05V282.50H265.54V281.08H265.02V281.08H264.79V280.96H264.56V280.96H263.40V280.25H262.24V280.25H261.96V280.25H260.43V279.29H258.90V279.29H257.35V278.45H255.81V278.45H254.79V277.00H253.77V277.00H252.76V276.63H251.74V276.63H250.71V275.66H249.68V275.66H248.66V274.32H247.65V274.32H246.62V272.47H245.59V272.47H244.57V269.61H243.56V269.61H242.53V267.74H241.50V267.74H240.48V265.84H239.46V265.84H238.43V264.32H237.40V264.32H236.39V263.43H235.37V263.43H234.86V262.03H234.34V262.03H233.82V259.06H233.31V259.06H232.81V257.12H232.31V257.12H231.79V254.11H231.28V254.11H230.81V251.61H230.33V251.61H230.25V251.61H229.75V249.08H229.25V249.08H229.22V249.08H228.72V246.68H228.22V246.68H228.16V246.68H227.60V245.60H227.04V245.60H226.50V243.44H225.95V243.44H225.41V241.26H224.87V241.26H224.32V239.07H223.78V239.07H223.49V236.73H223.21V236.73H222.66V234.51H222.12V234.51H221.30V233.39H220.49V233.39H219.93V232.27H219.37V232.27H218.83V230.02H218.28V230.02H218.01V226.62H217.74V226.62H217.47V224.18H217.20V224.18H216.92V223.03H216.65V223.03H216.09V220.71H215.54V220.71H214.99V218.37H214.45V218.37H213.91V216.60H213.36V216.60H212.82V214.82H212.27V214.82H211.72V212.42H211.16V212.42H210.61V209.85H210.07V209.85H209.53V207.40H208.98V207.40H208.15V204.30H207.32V204.30H206.78V201.78H206.24V201.78H205.69V198.57H205.15V198.57H204.59V195.79H204.03V195.79H202.94V193.12H201.86V193.12H201.31V191.08H200.77V191.08H200.21V189.00H199.65V189.00H199.38V184.83H199.11V184.83H198.29V183.32H197.48V174.00H197.48V174.00H193.90Z" fill="#c0405a" fill-opacity="0.14" stroke="none"/>
<path d="M193.90,174.00H197.48V174.00H197.48V175.35H198.29V176.98H199.11V176.98H199.38V180.23H199.65V180.23H200.21V181.85H200.77V181.85H201.31V183.48H201.86V183.48H202.94V185.64H204.03V185.64H204.59V187.95H205.15V187.95H205.69V190.65H206.24V190.65H206.78V192.82H207.32V192.82H208.15V195.53H208.98V195.53H209.53V197.69H210.07V197.69H210.61V200.00H211.16V200.00H211.72V202.16H212.27V202.16H212.82V203.79H213.36V203.79H213.91V205.41H214.45V205.41H214.99V207.58H215.54V207.58H216.09V209.75H216.65V209.75H216.92V210.83H217.20V210.83H217.47V213.13H217.74V213.13H218.01V216.38H218.28V216.38H218.83V218.55H219.37V218.55H219.93V219.63H220.49V219.63H221.30V220.71H222.12V220.71H222.66V222.88H223.21V222.88H223.49V225.18H223.78V225.18H224.32V227.35H224.87V227.35H225.41V229.51H225.95V229.51H226.50V231.68H227.04V231.68H227.60V232.76H228.16V232.76H228.22V232.76H228.72V235.20H229.22V235.20H229.25V235.20H229.75V237.77H230.25V237.77H230.33V237.77H230.81V240.35H231.28V240.35H231.79V243.46H232.31V243.46H232.81V245.49H233.31V245.49H233.82V248.61H234.34V248.61H234.86V250.09H235.37V250.09H236.39V251.04H237.40V251.04H238.43V252.67H239.46V252.67H240.48V254.70H241.50V254.70H242.53V256.73H243.56V256.73H244.57V259.84H245.59V259.84H246.62V261.87H247.65V261.87H248.66V263.36H249.68V263.36H250.71V264.45H251.74V264.45H252.76V264.85H253.77V264.85H254.79V266.48H255.81V266.48H257.35V267.43H258.90V267.43H260.43V268.51H261.96V268.51H262.24V268.51H263.40V269.32H264.56V269.32H264.79V269.46H265.02V269.46H265.54V271.08H266.05V271.08H266.88V271.08H267.45V272.16H268.03V272.16H268.08V272.16H270.13V273.11H272.18V273.11H272.63V273.11H273.79V273.38H274.95V273.38H275.09V273.52H275.24V273.52H276.25V274.47H277.27V274.47H280.15V275.14H283.02V275.14H284.18V275.96H285.34V275.96H299.19V275.96H299.77V276.77H300.34V276.77H304.37V277.04H308.41V277.04H309.57V278.53H310.73V278.53H311.89V279.75H313.05V279.75H314.19V280.83H315.33V280.83H315.92V282.05H316.51V282.05H317.65V283.13H318.80V283.13H320.53V284.35H322.26V284.35H322.85V285.43H323.43V285.43H329.19V285.43H329.76V286.65H330.33V286.65H332.06V287.19H333.79V287.19H334.95V288.95H336.11V288.95H337.00" fill="none" stroke="#b03a52" stroke-width="1.1"/>
<path d="M193.90,174.00H195.82V174.00H196.38V175.90H196.93V175.90H197.48V177.52H198.02V177.52H198.84V179.15H199.65V179.15H200.21V180.77H200.77V180.77H201.31V182.39H201.86V182.39H202.67V184.02H203.49V184.02H204.05V185.64H204.60V185.64H205.15V187.40H205.69V187.40H205.96V189.57H206.24V189.57H207.05V190.11H207.87V190.11H208.15V192.28H208.44V192.28H208.71V194.99H208.98V194.99H209.25V197.69H209.53V197.69H210.07V200.00H210.61V200.00H210.89V203.25H211.16V203.25H211.72V205.95H212.27V205.95H213.09V208.12H213.91V208.12H214.72V209.20H215.54V209.20H216.37V210.83H217.20V210.83H217.47V214.21H217.74V214.21H218.28V216.38H218.83V216.38H219.39V217.46H219.94V217.46H220.49V218.55H221.03V218.55H221.58V220.17H222.12V220.17H228.16V220.17H228.70V221.80H229.25V221.80H229.52V224.64H229.79V224.64H230.62V225.72H231.45V225.72H233.62V225.72H234.45V227.35H235.28V227.35H236.10V228.43H236.92V228.43H238.02V228.97H239.12V228.97H239.66V230.60H240.21V230.60H240.75V231.68H241.29V231.68H241.50V231.68H241.94V233.31H242.38V233.31H242.53V233.31H243.01V234.39H243.50V234.39H243.56V234.39H244.06V236.28H244.56V236.28H244.57V236.55H244.59V236.55H245.09V238.31H245.59V238.31H245.67V238.31H246.66V240.35H247.65V240.35H248.15V242.38H248.65V242.38H249.17V244.00H249.68V244.00H250.71V244.95H251.74V244.95H252.24V246.98H252.74V246.98H253.77V249.01H254.80V249.01H255.82V250.09H256.84V250.09H257.87V251.58H258.90V251.58H259.43V253.21H259.95V253.21H260.93V253.21H261.59V253.75H262.24V253.75H262.62V254.16H262.99V254.16H263.78V255.51H264.56V255.51H264.79V255.65H265.02V255.65H265.36V257.27H265.71V257.27H265.88V257.68H266.05V257.68H266.47V259.57H266.88V259.57H266.98V260.25H267.08V260.25H267.55V261.20H268.03V261.20H268.57V261.33H269.11V261.33H273.21V261.33H277.27V261.33H277.28V261.87H277.30V261.87H277.86V262.96H278.41V262.96H279.33V262.96H281.18V263.50H283.02V263.50H283.61V264.18H284.20V264.18H285.91V265.26H287.63V265.26H288.22V266.48H288.80V266.48H291.11V267.02H293.41V267.02H293.98V267.56H294.56V267.56H295.72V268.78H296.87V268.78H298.03V269.32H299.19V269.32H299.77V271.08H300.34V271.08H300.91V273.38H301.48V273.38H302.07V274.33H302.66V274.33H313.05V274.33H313.62V275.69H314.19V275.69H316.49V276.23H318.80V276.23H319.38V278.53H319.97V278.53H320.54V280.29H321.12V280.29H321.69V282.05H322.26V282.05H322.55V283.13H322.83V283.13H336.69V283.13H337.00" fill="none" stroke="#2c7ea0" stroke-width="1.1"/>
<line x1="193.90" y1="167.23" x2="193.90" y2="309.90" stroke="#333" stroke-width="1.1" />
<line x1="193.40" y1="309.40" x2="337.40" y2="309.40" stroke="#888" stroke-width="1.2" />
<line x1="191.60" y1="309.40" x2="193.90" y2="309.40" stroke="#999" stroke-width="0.9" />
<text class="n" transform="translate(190.40,312.10) scale(1,1.08)" font-size="7.6" text-anchor="end" font-weight="normal" fill="#111" >0.0</text>
<line x1="191.60" y1="282.32" x2="193.90" y2="282.32" stroke="#999" stroke-width="0.9" />
<text class="n" transform="translate(190.40,285.02) scale(1,1.08)" font-size="7.6" text-anchor="end" font-weight="normal" fill="#111" >0.2</text>
<line x1="191.60" y1="255.24" x2="193.90" y2="255.24" stroke="#999" stroke-width="0.9" />
<text class="n" transform="translate(190.40,257.94) scale(1,1.08)" font-size="7.6" text-anchor="end" font-weight="normal" fill="#111" >0.4</text>
<line x1="191.60" y1="228.16" x2="193.90" y2="228.16" stroke="#999" stroke-width="0.9" />
<text class="n" transform="translate(190.40,230.86) scale(1,1.08)" font-size="7.6" text-anchor="end" font-weight="normal" fill="#111" >0.6</text>
<line x1="191.60" y1="201.08" x2="193.90" y2="201.08" stroke="#999" stroke-width="0.9" />
<text class="n" transform="translate(190.40,203.78) scale(1,1.08)" font-size="7.6" text-anchor="end" font-weight="normal" fill="#111" >0.8</text>
<line x1="191.60" y1="174.00" x2="193.90" y2="174.00" stroke="#999" stroke-width="0.9" />
<text class="n" transform="translate(190.40,176.70) scale(1,1.08)" font-size="7.6" text-anchor="end" font-weight="normal" fill="#111" >1.0</text>
<line x1="193.90" y1="309.40" x2="193.90" y2="312.00" stroke="#444" stroke-width="0.9" />
<text class="n" transform="translate(193.90,318.00) scale(1,1.08)" font-size="7.6" text-anchor="middle" font-weight="normal" fill="#111" >0</text>
<line x1="222.52" y1="309.40" x2="222.52" y2="312.00" stroke="#444" stroke-width="0.9" />
<text class="n" transform="translate(222.52,318.00) scale(1,1.08)" font-size="7.6" text-anchor="middle" font-weight="normal" fill="#111" >1</text>
<line x1="251.14" y1="309.40" x2="251.14" y2="312.00" stroke="#444" stroke-width="0.9" />
<text class="n" transform="translate(251.14,318.00) scale(1,1.08)" font-size="7.6" text-anchor="middle" font-weight="normal" fill="#111" >2</text>
<line x1="279.76" y1="309.40" x2="279.76" y2="312.00" stroke="#444" stroke-width="0.9" />
<text class="n" transform="translate(279.76,318.00) scale(1,1.08)" font-size="7.6" text-anchor="middle" font-weight="normal" fill="#111" >3</text>
<line x1="308.38" y1="309.40" x2="308.38" y2="312.00" stroke="#444" stroke-width="0.9" />
<text class="n" transform="translate(308.38,318.00) scale(1,1.08)" font-size="7.6" text-anchor="middle" font-weight="normal" fill="#111" >4</text>
<line x1="337.00" y1="309.40" x2="337.00" y2="312.00" stroke="#444" stroke-width="0.9" />
<text class="n" transform="translate(337.00,318.00) scale(1,1.08)" font-size="7.6" text-anchor="middle" font-weight="normal" fill="#111" >5</text>
<text class="n" transform="translate(265.45,326.60) scale(1,1.08)" font-size="7.5" text-anchor="middle" font-weight="normal" fill="#111" >Time (years)</text>
<text transform="translate(176.50,237.20) rotate(-90) scale(1,1.08)" class="n" font-size="7.6" text-anchor="middle" fill="#111">Survival probability</text>
<text class="n" transform="translate(251.30,179.80) scale(1,1.08)" font-size="7.6" text-anchor="start" font-weight="normal" fill="#111" >n=200</text>
<text class="n" transform="translate(251.30,188.10) scale(1,1.08)" font-size="7.6" text-anchor="start" font-weight="normal" fill="#111" >log-rank test, p=0.238</text>
<text class="n" transform="translate(251.30,196.80) scale(1,1.08)" font-size="7.6" text-anchor="start" font-weight="normal" fill="#111" >Foundation (features)</text>
<rect x="198.20" y="281.50" width="57.6" height="24.2" rx="1.5" fill="#fff" fill-opacity="0.8" stroke="#ebebeb" stroke-width="0.7"/>
<line x1="200.40" y1="287.30" x2="216.90" y2="287.30" stroke="#bf5c72" stroke-width="1.2" />
<line x1="200.40" y1="297.90" x2="216.90" y2="297.90" stroke="#78afcc" stroke-width="1.2" />
<text class="n" transform="translate(222.80,290.10) scale(1,1.08)" font-size="7.6" text-anchor="start" font-weight="normal" fill="#111" >High risk</text>
<text class="n" transform="translate(222.80,300.70) scale(1,1.08)" font-size="7.6" text-anchor="start" font-weight="normal" fill="#111" >Low risk</text>
<text transform="translate(170.10,172.00) scale(1,1.0)" font-size="12.0" text-anchor="start" font-weight="bold" fill="#000" >f</text>
<path d="M364.50,174.00H369.65V174.00H369.94V174.36H370.22V174.36H370.77V174.80H371.31V174.80H371.86V175.61H372.40V175.61H373.23V176.53H374.06V176.53H374.60V177.89H375.15V177.89H375.69V179.34H376.23V179.34H376.78V180.58H377.32V180.58H377.61V181.76H377.89V181.76H378.44V182.97H378.98V182.97H379.53V185.04H380.07V185.04H380.61V187.17H381.16V187.17H381.99V189.35H382.82V189.35H383.90V191.24H384.99V191.24H385.55V192.14H386.11V192.14H386.65V193.04H387.20V193.04H387.47V195.80H387.74V195.80H388.01V198.12H388.28V198.12H389.11V199.07H389.94V199.07H390.22V200.96H390.49V200.96H391.03V202.99H391.57V202.99H392.12V204.92H392.66V204.92H393.49V206.38H394.32V206.38H395.14V208.34H395.95V208.34H397.06V208.83H398.16V208.83H398.70V209.82H399.25V209.82H399.79V212.30H400.33V212.30H400.60V214.93H400.88V214.93H401.16V216.45H401.45V216.45H401.99V218.48H402.54V218.48H402.92V219.50H403.31V219.50H403.74V220.52H404.17V220.52H404.25V221.94H404.34V221.94H404.85V223.87H405.37V223.87H405.83V223.87H406.61V224.91H407.40V224.91H407.46V224.91H409.12V224.91H409.29V225.82H409.46V225.82H409.83V226.35H410.21V226.35H410.85V227.26H411.49V227.26H412.01V228.31H412.52V228.31H413.04V230.28H413.56V230.28H414.06V232.80H414.56V232.80H414.81V236.27H415.07V236.27H415.84V237.35H416.62V237.35H417.13V239.38H417.65V239.38H418.15V240.87H418.65V240.87H419.16V242.92H419.68V242.92H420.71V244.01H421.74V244.01H422.50V245.52H423.26V245.52H424.03V246.63H424.80V246.63H425.82V247.18H426.83V247.18H428.37V248.15H429.90V248.15H429.93V248.57H429.95V248.57H430.96V249.27H431.96V249.27H432.10V249.82H432.24V249.82H433.12V250.24H433.99V250.24H434.85V250.94H435.71V250.94H436.05V250.94H436.47V251.64H436.88V251.64H436.98V251.92H437.08V251.92H454.20V251.92H454.77V253.76H455.34V253.76H470.34V253.76H470.91V255.17H471.48V255.17H472.07V257.02H472.66V257.02H479.58V257.02H480.73V258.88H481.87V258.88H483.03V259.46H484.19V259.46H484.76V261.33H485.33V261.33H485.92V264.97H486.51V264.97H487.65V265.71H488.80V265.71H489.38V266.88H489.97V266.88H490.54V268.81H491.12V268.81H491.69V270.75H492.26V270.75H492.55V271.95H492.83V271.95H506.68V271.95H507.40V292.69H506.68V292.69H492.83V292.69H492.55V291.80H492.26V291.80H491.69V290.35H491.12V290.35H490.54V288.88H489.97V288.88H489.38V287.97H488.80V287.97H487.65V287.40H486.51V287.40H485.92V284.50H485.33V284.50H484.76V282.97H484.19V282.97H483.03V282.50H481.87V282.50H480.73V280.96H479.58V280.96H472.66V280.96H472.07V279.41H471.48V279.41H470.91V278.21H470.34V278.21H455.34V278.21H454.77V276.63H454.20V276.63H437.08V276.63H436.98V276.39H436.88V276.39H436.47V275.78H436.05V275.78H435.71V275.78H434.85V275.17H433.99V275.17H433.12V274.81H432.24V274.81H432.10V274.32H431.96V274.32H430.96V273.70H429.95V273.70H429.93V273.33H429.90V273.33H428.37V272.47H426.83V272.47H425.82V271.98H424.80V271.98H424.03V270.98H423.26V270.98H422.50V269.61H421.74V269.61H420.71V268.61H419.68V268.61H419.16V266.73H418.65V266.73H418.15V265.34H417.65V265.34H417.13V263.43H416.62V263.43H415.84V262.41H415.07V262.41H414.81V259.06H414.56V259.06H414.06V256.60H413.56V256.60H413.04V254.64H412.52V254.64H412.01V253.59H411.49V253.59H410.85V252.66H410.21V252.66H409.83V252.14H409.46V252.14H409.29V251.21H409.12V251.21H407.46V251.21H407.40V251.21H406.61V250.15H405.83V250.15H405.37V250.15H404.85V248.15H404.34V248.15H404.25V246.68H404.17V246.68H403.74V245.60H403.31V245.60H402.92V244.52H402.54V244.52H401.99V242.35H401.45V242.35H401.16V240.72H400.88V240.72H400.60V237.83H400.33V237.83H399.79V235.07H399.25V235.07H398.70V233.95H398.16V233.95H397.06V233.39H395.95V233.39H395.14V231.15H394.32V231.15H393.49V229.46H392.66V229.46H392.12V227.19H391.57V227.19H391.03V224.76H390.49V224.76H390.22V222.45H389.94V222.45H389.11V221.29H388.28V221.29H388.01V218.37H387.74V218.37H387.47V214.82H387.20V214.82H386.65V213.62H386.11V213.62H385.55V212.42H384.99V212.42H383.90V209.85H382.82V209.85H381.99V206.78H381.16V206.78H380.61V203.67H380.07V203.67H379.53V200.50H378.98V200.50H378.44V198.57H377.89V198.57H377.61V196.62H377.32V196.62H376.78V194.46H376.23V194.46H375.69V191.77H375.15V191.77H374.60V189.00H374.06V189.00H373.23V186.90H372.40V186.90H371.86V184.83H371.31V184.83H370.77V183.64H370.22V183.64H369.94V174.00H369.65V174.00H364.50Z" fill="#3a86aa" fill-opacity="0.13" stroke="none"/>
<path d="M364.50,174.00H366.39V174.00H366.66V174.57H366.93V174.57H367.75V175.05H368.56V175.05H369.11V175.91H369.65V175.91H370.21V177.54H370.77V177.54H371.31V178.60H371.86V178.60H372.40V179.72H372.94V179.72H373.50V181.36H374.06V181.36H374.60V182.56H375.15V182.56H375.69V183.79H376.23V183.79H376.78V185.46H377.32V185.46H377.88V187.60H378.44V187.60H378.98V189.35H379.53V189.35H380.07V191.24H380.61V191.24H381.16V192.59H381.70V192.59H382.26V194.87H382.82V194.87H383.36V196.72H383.90V196.72H384.45V199.07H384.99V199.07H385.55V200.96H386.11V200.96H386.65V203.47H387.20V203.47H387.74V205.41H388.28V205.41H388.83V208.34H389.37V208.34H390.20V210.81H391.03V210.81H391.85V211.31H392.66V211.31H393.22V212.93H393.78V212.93H394.32V214.93H394.87V214.93H395.41V216.95H395.95V216.95H396.50V218.48H397.04V218.48H397.60V220.01H398.16V220.01H398.70V220.91H399.25V220.91H399.25V221.55H399.75V222.84H400.25V222.84H400.29V223.62H400.33V223.62H400.80V224.91H401.28V224.91H401.63V226.35H401.99V226.35H402.41V227.26H402.82V227.26H403.32V229.36H403.82V229.36H404.60V230.81H405.37V230.81H406.39V231.74H407.40V231.74H408.43V233.33H409.46V233.33H410.48V235.34H411.49V235.34H412.52V236.81H413.56V236.81H414.57V238.29H415.59V238.29H415.84V240.87H416.10V240.87H416.36V242.51H416.62V242.51H417.63V243.46H418.65V243.46H419.68V244.97H420.71V244.97H421.73V245.52H422.74V245.52H423.26V246.63H423.77V246.63H424.80V247.18H425.83V247.18H426.33V248.15H426.83V248.15H427.35V249.27H427.87V249.27H428.88V249.69H429.90V249.69H430.93V250.24H431.96V250.24H433.49V250.80H435.02V250.80H435.54V252.35H436.05V252.35H436.47V255.17H436.88V255.17H436.98V255.60H437.08V255.60H437.55V257.59H438.03V257.59H438.05V257.74H438.08V257.74H439.11V258.31H440.14V258.31H442.63V258.31H442.92V258.88H443.21V258.88H445.24V259.46H447.27V259.46H447.84V261.33H448.41V261.33H450.72V261.91H453.02V261.91H455.33V263.22H457.63V263.22H459.95V264.39H462.27V264.39H463.41V265.71H464.56V265.71H467.45V266.88H470.34V266.88H470.91V268.81H471.48V268.81H474.94V269.41H478.41V269.41H483.03V270.75H487.65V270.75H488.22V272.71H488.80V272.71H489.96V273.92H491.12V273.92H492.27V274.53H493.43V274.53H499.19V274.53H499.77V275.91H500.36V275.91H502.08V276.52H503.79V276.52H504.95V277.91H506.11V277.91H507.40V296.91H506.11V296.91H504.95V295.95H503.79V295.95H502.08V295.52H500.36V295.52H499.77V294.55H499.19V294.55H493.43V294.55H492.27V294.12H491.12V294.12H489.96V293.24H488.80V293.24H488.22V291.80H487.65V291.80H483.03V290.80H478.41V290.80H474.94V290.35H471.48V290.35H470.91V288.88H470.34V288.88H467.45V287.97H464.56V287.97H463.41V286.94H462.27V286.94H459.95V286.01H457.63V286.01H455.33V284.97H453.02V284.97H450.72V284.50H448.41V284.50H447.84V282.97H447.27V282.97H445.24V282.50H443.21V282.50H442.92V282.03H442.63V282.03H440.14V282.03H439.11V281.56H438.08V281.56H438.05V281.44H438.03V281.44H437.55V279.77H437.08V279.77H436.98V279.41H436.88V279.41H436.47V277.00H436.05V277.00H435.54V275.66H435.02V275.66H433.49V275.17H431.96V275.17H430.93V274.68H429.90V274.68H428.88V274.32H427.87V274.32H427.35V273.33H426.83V273.33H426.33V272.47H425.83V272.47H424.80V271.98H423.77V271.98H423.26V270.98H422.74V270.98H421.73V270.49H420.71V270.49H419.68V269.11H418.65V269.11H417.63V268.24H416.62V268.24H416.36V266.73H416.10V266.73H415.84V264.32H415.59V264.32H414.57V262.92H413.56V262.92H412.52V261.51H411.49V261.51H410.48V259.58H409.46V259.58H408.43V258.03H407.40V258.03H406.39V257.12H405.37V257.12H404.60V255.68H403.82V255.68H403.32V253.59H402.82V253.59H402.41V252.66H401.99V252.66H401.63V251.21H401.28V251.21H400.80V249.88H400.33V249.88H400.29V249.08H400.25V249.08H399.75V247.75H399.25V247.08H399.25V247.08H398.70V246.14H398.16V246.14H397.60V244.52H397.04V244.52H396.50V242.89H395.95V242.89H395.41V240.72H394.87V240.72H394.32V238.52H393.78V238.52H393.22V236.73H392.66V236.73H391.85V236.18H391.03V236.18H390.20V233.39H389.37V233.39H388.83V230.02H388.28V230.02H387.74V227.76H387.20V227.76H386.65V224.76H386.11V224.76H385.55V222.45H384.99V222.45H384.45V219.54H383.90V219.54H383.36V217.19H382.82V217.19H382.26V214.22H381.70V214.22H381.16V212.42H380.61V212.42H380.07V209.85H379.53V209.85H378.98V207.40H378.44V207.40H377.88V204.30H377.32V204.30H376.78V201.78H376.23V201.78H375.69V199.86H375.15V199.86H374.60V197.92H374.06V197.92H373.50V195.13H372.94V195.13H372.40V193.12H371.86V193.12H371.31V191.08H370.77V191.08H370.21V187.60H369.65V187.60H369.11V185.51H368.56V185.51H367.75V184.20H366.93V184.20H366.66V174.00H366.39V174.00H364.50Z" fill="#c0405a" fill-opacity="0.14" stroke="none"/>
<path d="M364.50,174.00H366.39V174.00H366.66V176.44H366.93V176.44H367.75V177.52H368.56V177.52H369.11V179.15H369.65V179.15H370.21V181.85H370.77V181.85H371.31V183.48H371.86V183.48H372.40V185.10H372.94V185.10H373.50V187.40H374.06V187.40H374.60V189.03H375.15V189.03H375.69V190.65H376.23V190.65H376.78V192.82H377.32V192.82H377.88V195.53H378.44V195.53H378.98V197.69H379.53V197.69H380.07V200.00H380.61V200.00H381.16V201.62H381.70V201.62H382.26V204.33H382.82V204.33H383.36V206.50H383.90V206.50H384.45V209.20H384.99V209.20H385.55V211.37H386.11V211.37H386.65V214.21H387.20V214.21H387.74V216.38H388.28V216.38H388.83V219.63H389.37V219.63H390.20V222.34H391.03V222.34H391.85V222.88H392.66V222.88H393.22V224.64H393.78V224.64H394.32V226.81H394.87V226.81H395.41V228.97H395.95V228.97H396.50V230.60H397.04V230.60H397.60V232.22H398.16V232.22H398.70V233.17H399.25V233.17H399.25V233.85H399.75V235.20H400.25V235.20H400.29V236.01H400.33V236.01H400.80V237.37H401.28V237.37H401.63V238.86H401.99V238.86H402.41V239.80H402.82V239.80H403.32V241.97H403.82V241.97H404.60V243.46H405.37V243.46H406.39V244.41H407.40V244.41H408.43V246.03H409.46V246.03H410.48V248.06H411.49V248.06H412.52V249.55H413.56V249.55H414.57V251.04H415.59V251.04H415.84V253.62H416.10V253.62H416.36V255.24H416.62V255.24H417.63V256.19H418.65V256.19H419.68V257.68H420.71V257.68H421.73V258.22H422.74V258.22H423.26V259.30H423.77V259.30H424.80V259.84H425.83V259.84H426.33V260.79H426.83V260.79H427.35V261.87H427.87V261.87H428.88V262.28H429.90V262.28H430.93V262.82H431.96V262.82H433.49V263.36H435.02V263.36H435.54V264.85H436.05V264.85H436.47V267.56H436.88V267.56H436.98V267.97H437.08V267.97H437.55V269.86H438.03V269.86H438.05V270.00H438.08V270.00H439.11V270.54H440.14V270.54H442.63V270.54H442.92V271.08H443.21V271.08H445.24V271.62H447.27V271.62H447.84V273.38H448.41V273.38H450.72V273.93H453.02V273.93H455.33V275.14H457.63V275.14H459.95V276.23H462.27V276.23H463.41V277.45H464.56V277.45H467.45V278.53H470.34V278.53H470.91V280.29H471.48V280.29H474.94V280.83H478.41V280.83H483.03V282.05H487.65V282.05H488.22V283.81H488.80V283.81H489.96V284.89H491.12V284.89H492.27V285.43H493.43V285.43H499.19V285.43H499.77V286.65H500.36V286.65H502.08V287.19H503.79V287.19H504.95V288.41H506.11V288.41H507.40" fill="none" stroke="#b03a52" stroke-width="1.1"/>
<path d="M364.50,174.00H369.65V174.00H369.94V175.90H370.22V175.90H370.77V176.98H371.31V176.98H371.86V178.60H372.40V178.60H373.23V180.23H374.06V180.23H374.60V182.39H375.15V182.39H375.69V184.56H376.23V184.56H376.78V186.32H377.32V186.32H377.61V187.95H377.89V187.95H378.44V189.57H378.98V189.57H379.53V192.28H380.07V192.28H380.61V194.99H381.16V194.99H381.99V197.69H382.82V197.69H383.90V200.00H384.99V200.00H385.55V201.08H386.11V201.08H386.65V202.16H387.20V202.16H387.47V205.41H387.74V205.41H388.01V208.12H388.28V208.12H389.11V209.20H389.94V209.20H390.22V211.37H390.49V211.37H391.03V213.67H391.57V213.67H392.12V215.84H392.66V215.84H393.49V217.46H394.32V217.46H395.14V219.63H395.95V219.63H397.06V220.17H398.16V220.17H398.70V221.25H399.25V221.25H399.79V223.96H400.33V223.96H400.60V226.81H400.88V226.81H401.16V228.43H401.45V228.43H401.99V230.60H402.54V230.60H402.92V231.68H403.31V231.68H403.74V232.76H404.17V232.76H404.25V234.25H404.34V234.25H404.85V236.28H405.37V236.28H405.83V236.28H406.61V237.37H407.40V237.37H407.46V237.37H409.12V237.37H409.29V238.31H409.46V238.31H409.83V238.86H410.21V238.86H410.85V239.80H411.49V239.80H412.01V240.89H412.52V240.89H413.04V242.92H413.56V242.92H414.06V245.49H414.56V245.49H414.81V249.01H415.07V249.01H415.84V250.09H416.62V250.09H417.13V252.13H417.65V252.13H418.15V253.62H418.65V253.62H419.16V255.65H419.68V255.65H420.71V256.73H421.74V256.73H422.50V258.22H423.26V258.22H424.03V259.30H424.80V259.30H425.82V259.84H426.83V259.84H428.37V260.79H429.90V260.79H429.93V261.20H429.95V261.20H430.96V261.87H431.96V261.87H432.10V262.42H432.24V262.42H433.12V262.82H433.99V262.82H434.85V263.50H435.71V263.50H436.05V263.50H436.47V264.18H436.88V264.18H436.98V264.45H437.08V264.45H454.20V264.45H454.77V266.21H455.34V266.21H470.34V266.21H470.91V267.56H471.48V267.56H472.07V269.32H472.66V269.32H479.58V269.32H480.73V271.08H481.87V271.08H483.03V271.62H484.19V271.62H484.76V273.38H485.33V273.38H485.92V276.77H486.51V276.77H487.65V277.45H488.80V277.45H489.38V278.53H489.97V278.53H490.54V280.29H491.12V280.29H491.69V282.05H492.26V282.05H492.55V283.13H492.83V283.13H506.68V283.13H507.40" fill="none" stroke="#2c7ea0" stroke-width="1.1"/>
<line x1="364.30" y1="167.23" x2="364.30" y2="309.90" stroke="#333" stroke-width="1.1" />
<line x1="363.80" y1="309.40" x2="507.80" y2="309.40" stroke="#888" stroke-width="1.2" />
<line x1="362.00" y1="309.40" x2="364.30" y2="309.40" stroke="#999" stroke-width="0.9" />
<text class="n" transform="translate(360.80,312.10) scale(1,1.08)" font-size="7.6" text-anchor="end" font-weight="normal" fill="#111" >0.0</text>
<line x1="362.00" y1="282.32" x2="364.30" y2="282.32" stroke="#999" stroke-width="0.9" />
<text class="n" transform="translate(360.80,285.02) scale(1,1.08)" font-size="7.6" text-anchor="end" font-weight="normal" fill="#111" >0.2</text>
<line x1="362.00" y1="255.24" x2="364.30" y2="255.24" stroke="#999" stroke-width="0.9" />
<text class="n" transform="translate(360.80,257.94) scale(1,1.08)" font-size="7.6" text-anchor="end" font-weight="normal" fill="#111" >0.4</text>
<line x1="362.00" y1="228.16" x2="364.30" y2="228.16" stroke="#999" stroke-width="0.9" />
<text class="n" transform="translate(360.80,230.86) scale(1,1.08)" font-size="7.6" text-anchor="end" font-weight="normal" fill="#111" >0.6</text>
<line x1="362.00" y1="201.08" x2="364.30" y2="201.08" stroke="#999" stroke-width="0.9" />
<text class="n" transform="translate(360.80,203.78) scale(1,1.08)" font-size="7.6" text-anchor="end" font-weight="normal" fill="#111" >0.8</text>
<line x1="362.00" y1="174.00" x2="364.30" y2="174.00" stroke="#999" stroke-width="0.9" />
<text class="n" transform="translate(360.80,176.70) scale(1,1.08)" font-size="7.6" text-anchor="end" font-weight="normal" fill="#111" >1.0</text>
<line x1="364.30" y1="309.40" x2="364.30" y2="312.00" stroke="#444" stroke-width="0.9" />
<text class="n" transform="translate(364.30,318.00) scale(1,1.08)" font-size="7.6" text-anchor="middle" font-weight="normal" fill="#111" >0</text>
<line x1="392.92" y1="309.40" x2="392.92" y2="312.00" stroke="#444" stroke-width="0.9" />
<text class="n" transform="translate(392.92,318.00) scale(1,1.08)" font-size="7.6" text-anchor="middle" font-weight="normal" fill="#111" >1</text>
<line x1="421.54" y1="309.40" x2="421.54" y2="312.00" stroke="#444" stroke-width="0.9" />
<text class="n" transform="translate(421.54,318.00) scale(1,1.08)" font-size="7.6" text-anchor="middle" font-weight="normal" fill="#111" >2</text>
<line x1="450.16" y1="309.40" x2="450.16" y2="312.00" stroke="#444" stroke-width="0.9" />
<text class="n" transform="translate(450.16,318.00) scale(1,1.08)" font-size="7.6" text-anchor="middle" font-weight="normal" fill="#111" >3</text>
<line x1="478.78" y1="309.40" x2="478.78" y2="312.00" stroke="#444" stroke-width="0.9" />
<text class="n" transform="translate(478.78,318.00) scale(1,1.08)" font-size="7.6" text-anchor="middle" font-weight="normal" fill="#111" >4</text>
<line x1="507.40" y1="309.40" x2="507.40" y2="312.00" stroke="#444" stroke-width="0.9" />
<text class="n" transform="translate(507.40,318.00) scale(1,1.08)" font-size="7.6" text-anchor="middle" font-weight="normal" fill="#111" >5</text>
<text class="n" transform="translate(435.85,326.60) scale(1,1.08)" font-size="7.5" text-anchor="middle" font-weight="normal" fill="#111" >Time (years)</text>
<text transform="translate(346.90,237.20) rotate(-90) scale(1,1.08)" class="n" font-size="7.6" text-anchor="middle" fill="#111">Survival probability</text>
<text class="n" transform="translate(421.70,179.80) scale(1,1.08)" font-size="7.6" text-anchor="start" font-weight="normal" fill="#111" >n=200</text>
<text class="n" transform="translate(421.70,188.10) scale(1,1.08)" font-size="7.6" text-anchor="start" font-weight="normal" fill="#111" >log-rank test, p=0.332</text>
<text class="n" transform="translate(421.70,196.80) scale(1,1.08)" font-size="7.6" text-anchor="start" font-weight="normal" fill="#111" >Med3D (features)</text>
<rect x="368.60" y="281.50" width="57.6" height="24.2" rx="1.5" fill="#fff" fill-opacity="0.8" stroke="#ebebeb" stroke-width="0.7"/>
<line x1="370.80" y1="287.30" x2="387.30" y2="287.30" stroke="#bf5c72" stroke-width="1.2" />
<line x1="370.80" y1="297.90" x2="387.30" y2="297.90" stroke="#78afcc" stroke-width="1.2" />
<text class="n" transform="translate(393.20,290.10) scale(1,1.08)" font-size="7.6" text-anchor="start" font-weight="normal" fill="#111" >High risk</text>
<text class="n" transform="translate(393.20,300.70) scale(1,1.08)" font-size="7.6" text-anchor="start" font-weight="normal" fill="#111" >Low risk</text>
<text transform="translate(340.50,172.00) scale(1,1.0)" font-size="12.0" text-anchor="start" font-weight="bold" fill="#000" >g</text>
<path d="M534.70,174.00H536.27V174.00H536.83V174.36H537.39V174.36H537.93V175.05H538.48V175.05H539.29V175.91H540.11V175.91H540.94V176.86H541.77V176.86H542.58V177.54H543.40V177.54H544.22V177.89H545.03V177.89H545.59V178.97H546.15V178.97H546.96V179.72H547.78V179.72H548.05V180.97H548.32V180.97H548.88V182.97H549.44V182.97H549.98V185.04H550.53V185.04H551.07V186.74H551.61V186.74H552.16V188.47H552.70V188.47H553.26V190.35H553.82V190.35H554.36V192.14H554.91V192.14H555.72V193.96H556.54V193.96H557.10V195.80H557.65V195.80H558.20V197.66H558.74V197.66H559.28V199.54H559.83V199.54H560.39V201.56H560.94V201.56H561.49V203.47H562.03V203.47H562.85V204.44H563.66V204.44H564.49V205.41H565.32V205.41H568.61V205.41H569.16V207.36H569.70V207.36H569.97V210.31H570.25V210.31H570.79V212.30H571.33V212.30H572.16V213.93H572.99V213.93H573.27V216.45H573.54V216.45H574.35V218.48H575.17V218.48H575.27V218.99H575.37V218.99H576.10V219.50H576.83V219.50H576.87V220.52H576.91V220.52H578.46V220.52H578.70V220.91H578.95V220.91H579.46V222.84H579.98V222.84H580.12V222.84H580.66V224.13H581.21V224.13H581.35V224.91H581.49V224.91H581.89V225.30H582.30V225.30H582.67V226.87H583.04V226.87H583.80V228.83H584.56V228.83H584.81V231.34H585.07V231.34H585.59V232.80H586.10V232.80H586.87V234.80H587.65V234.80H588.41V236.27H589.16V236.27H589.68V237.89H590.19V237.89H590.97V238.83H591.74V238.83H592.50V240.46H593.26V240.46H594.03V240.87H594.80V240.87H595.82V241.41H596.83V241.41H597.35V242.92H597.86V242.92H598.64V244.56H599.41V244.56H599.68V245.66H599.95V245.66H600.93V245.66H601.96V246.63H602.99V246.63H603.20V246.91H603.42V246.91H604.22V247.60H605.02V247.60H605.36V248.57H605.71V248.57H606.39V249.27H607.08V249.27H607.55V250.38H608.02V250.38H608.05V250.80H608.08V250.80H616.27V250.80H623.02V250.80H623.61V251.78H624.19V251.78H625.93V252.77H627.66V252.77H629.96V254.04H632.27V254.04H633.41V255.17H634.56V255.17H635.71V255.88H636.87V255.88H637.45V257.45H638.02V257.45H639.75V258.88H641.48V258.88H642.07V260.03H642.65V260.03H646.12V260.75H649.58V260.75H650.15V261.33H650.73V261.33H658.80V261.33H659.38V263.80H659.97V263.80H660.54V265.71H661.11V265.71H662.27V267.48H663.43V267.48H669.19V267.48H669.77V269.41H670.36V269.41H672.66V270.00H674.97V270.00H675.54V271.35H676.11V271.35H677.80V292.25H676.11V292.25H675.54V291.25H674.97V291.25H672.66V290.80H670.36V290.80H669.77V289.33H669.19V289.33H663.43V289.33H662.27V287.97H661.11V287.97H660.54V286.47H659.97V286.47H659.38V284.50H658.80V284.50H650.73V284.50H650.15V284.03H649.58V284.03H646.12V283.45H642.65V283.45H642.07V282.50H641.48V282.50H639.75V281.32H638.02V281.32H637.45V280.01H636.87V280.01H635.71V279.41H634.56V279.41H633.41V278.45H632.27V278.45H629.96V277.36H627.66V277.36H625.93V276.51H624.19V276.51H623.61V275.66H623.02V275.66H616.27V275.66H608.08V275.66H608.05V275.29H608.02V275.29H607.55V274.32H607.08V274.32H606.39V273.70H605.71V273.70H605.36V272.84H605.02V272.84H604.22V272.22H603.42V272.22H603.20V271.98H602.99V271.98H601.96V271.11H600.93V271.11H599.95V271.11H599.68V270.11H599.41V270.11H598.64V268.61H597.86V268.61H597.35V267.23H596.83V267.23H595.82V266.73H594.80V266.73H594.03V266.35H593.26V266.35H592.50V264.83H591.74V264.83H590.97V263.94H590.19V263.94H589.68V262.41H589.16V262.41H588.41V261.00H587.65V261.00H586.87V259.06H586.10V259.06H585.59V257.64H585.07V257.64H584.81V255.16H584.56V255.16H583.80V253.19H583.04V253.19H582.67V251.61H582.30V251.61H581.89V251.21H581.49V251.21H581.35V250.41H581.21V250.41H580.66V249.08H580.12V249.08H579.98V249.08H579.46V247.08H578.95V247.08H578.70V246.68H578.46V246.68H576.91V246.68H576.87V245.60H576.83V245.60H576.10V245.06H575.37V245.06H575.27V244.52H575.17V244.52H574.35V242.35H573.54V242.35H573.27V239.62H572.99V239.62H572.16V237.83H571.33V237.83H570.79V235.62H570.25V235.62H569.97V232.27H569.70V232.27H569.16V230.02H568.61V230.02H565.32V230.02H564.49V228.89H563.66V228.89H562.85V227.76H562.03V227.76H561.49V225.47H560.94V225.47H560.39V223.03H559.83V223.03H559.28V220.71H558.74V220.71H558.20V218.37H557.65V218.37H557.10V216.00H556.54V216.00H555.72V213.62H554.91V213.62H554.36V211.21H553.82V211.21H553.26V208.63H552.70V208.63H552.16V206.17H551.61V206.17H551.07V203.67H550.53V203.67H549.98V200.50H549.44V200.50H548.88V197.27H548.32V197.27H548.05V195.13H547.78V195.13H546.96V193.80H546.15V193.80H545.59V191.77H545.03V191.77H544.22V191.08H543.40V191.08H542.58V189.70H541.77V189.70H540.94V187.60H540.11V187.60H539.29V185.51H538.48V185.51H537.93V183.64H537.39V183.64H536.83V174.00H536.27V174.00H534.70Z" fill="#3a86aa" fill-opacity="0.13" stroke="none"/>
<path d="M534.70,174.00H537.39V174.00H537.66V174.06H537.93V174.06H538.75V174.36H539.57V174.36H539.84V175.32H540.11V175.32H540.11V176.86H540.67V177.89H541.23V177.89H542.04V178.60H542.86V178.60H543.13V180.10H543.40V180.10H543.67V181.76H543.94V181.76H544.49V183.79H545.03V183.79H545.32V185.88H545.60V185.88H545.88V188.03H546.15V188.03H546.69V189.79H547.24V189.79H547.78V191.24H548.32V191.24H548.88V193.04H549.44V193.04H549.98V194.87H550.53V194.87H551.34V196.72H552.16V196.72H552.72V198.59H553.27V198.59H553.82V200.48H554.36V200.48H554.91V202.51H555.45V202.51H555.99V203.96H556.54V203.96H556.82V205.89H557.11V205.89H557.65V208.34H558.20V208.34H558.74V210.31H559.28V210.31H560.11V212.30H560.94V212.30H561.49V213.93H562.03V213.93H562.58V215.44H563.12V215.44H563.39V217.97H563.66V217.97H564.22V219.50H564.78V219.50H565.32V221.04H565.87V221.04H566.41V222.58H566.95V222.58H567.18V222.58H567.61V224.78H568.04V224.78H568.21V224.78H568.69V226.35H569.16V226.35H570.25V226.35H570.76V228.31H571.28V228.31H571.53V230.81H571.79V230.81H572.05V233.73H572.31V233.73H573.32V235.34H574.34V235.34H575.37V236.81H576.40V236.81H577.93V238.29H579.46V238.29H580.48V239.92H581.49V239.92H582.52V240.87H583.55V240.87H584.57V242.92H585.59V242.92H586.10V244.97H586.62V244.97H587.63V247.18H588.65V247.18H589.68V248.71H590.71V248.71H591.73V249.69H592.74V249.69H593.77V251.92H594.80V251.92H595.82V252.35H596.83V252.35H598.37V252.91H599.90V252.91H600.93V253.47H601.96V253.47H602.24V253.47H603.63V254.04H605.02V254.04H605.71V254.04H605.88V257.16H606.05V257.16H606.46V257.59H606.88V257.59H606.98V258.88H607.08V258.88H607.55V260.03H608.02V260.03H609.11V260.03H610.64V260.46H612.17V260.46H612.40V260.75H612.63V260.75H613.93V261.04H615.24V261.04H616.25V261.33H617.27V261.33H617.84V263.80H618.41V263.80H621.30V264.39H624.19V264.39H624.77V265.71H625.34V265.71H639.19V265.71H640.34V266.88H641.48V266.88H642.64V268.22H643.80V268.22H650.73V268.22H651.88V269.41H653.04V269.41H654.19V272.71H655.33V272.71H655.92V275.29H656.51V275.29H657.65V275.91H658.80V275.91H659.96V277.14H661.11V277.14H661.97V279.15H662.83V279.15H676.68V279.15H677.80V297.75H676.68V297.75H662.83V297.75H661.97V296.38H661.11V296.38H659.96V295.52H658.80V295.52H657.65V295.09H656.51V295.09H655.92V293.24H655.33V293.24H654.19V290.80H653.04V290.80H651.88V289.90H650.73V289.90H643.80V289.90H642.64V288.88H641.48V288.88H640.34V287.97H639.19V287.97H625.34V287.97H624.77V286.94H624.19V286.94H621.30V286.47H618.41V286.47H617.84V284.50H617.27V284.50H616.25V284.27H615.24V284.27H613.93V284.03H612.63V284.03H612.40V283.80H612.17V283.80H610.64V283.45H609.11V283.45H608.02V283.45H607.55V282.50H607.08V282.50H606.98V281.44H606.88V281.44H606.46V281.08H606.05V281.08H605.88V278.45H605.71V278.45H605.02V278.45H603.63V277.97H602.24V277.97H601.96V277.97H600.93V277.48H599.90V277.48H598.37V277.00H596.83V277.00H595.82V276.63H594.80V276.63H593.77V274.68H592.74V274.68H591.73V273.82H590.71V273.82H589.68V272.47H588.65V272.47H587.63V270.49H586.62V270.49H586.10V268.61H585.59V268.61H584.57V266.73H583.55V266.73H582.52V265.84H581.49V265.84H580.48V264.32H579.46V264.32H577.93V262.92H576.40V262.92H575.37V261.51H574.34V261.51H573.32V259.97H572.31V259.97H572.05V257.12H571.79V257.12H571.53V254.64H571.28V254.64H570.76V252.66H570.25V252.66H569.16V252.66H568.69V251.08H568.21V251.08H568.04V251.08H567.61V248.82H567.18V248.82H566.95V248.82H566.41V247.21H565.87V247.21H565.32V245.60H564.78V245.60H564.22V243.98H563.66V243.98H563.39V241.26H563.12V241.26H562.58V239.62H562.03V239.62H561.49V237.83H560.94V237.83H560.11V235.62H559.28V235.62H558.74V233.39H558.20V233.39H557.65V230.59H557.11V230.59H556.82V228.32H556.54V228.32H555.99V226.62H555.45V226.62H554.91V224.18H554.36V224.18H553.82V221.87H553.27V221.87H552.72V219.54H552.16V219.54H551.34V217.19H550.53V217.19H549.98V214.82H549.44V214.82H548.88V212.42H548.32V212.42H547.78V210.46H547.24V210.46H546.69V208.02H546.15V208.02H545.88V204.92H545.60V204.92H545.32V201.78H545.03V201.78H544.49V198.57H543.94V198.57H543.67V195.79H543.40V195.79H543.13V193.12H542.86V193.12H542.04V191.77H541.23V191.77H540.67V189.70H540.11V186.20H540.11V186.20H539.84V183.64H539.57V183.64H538.75V183.86H537.93V183.86H537.66V174.00H537.39V174.00H534.70Z" fill="#c0405a" fill-opacity="0.14" stroke="none"/>
<path d="M534.70,174.00H537.39V174.00H537.66V174.81H537.93V174.81H538.75V175.90H539.57V175.90H539.84V178.06H540.11V178.06H540.11V180.77H540.67V182.39H541.23V182.39H542.04V183.48H542.86V183.48H543.13V185.64H543.40V185.64H543.67V187.95H543.94V187.95H544.49V190.65H545.03V190.65H545.32V193.36H545.60V193.36H545.88V196.07H546.15V196.07H546.69V198.24H547.24V198.24H547.78V200.00H548.32V200.00H548.88V202.16H549.44V202.16H549.98V204.33H550.53V204.33H551.34V206.50H552.16V206.50H552.72V208.66H553.27V208.66H553.82V210.83H554.36V210.83H554.91V213.13H555.45V213.13H555.99V214.76H556.54V214.76H556.82V216.92H557.11V216.92H557.65V219.63H558.20V219.63H558.74V221.80H559.28V221.80H560.11V223.96H560.94V223.96H561.49V225.72H562.03V225.72H562.58V227.35H563.12V227.35H563.39V230.06H563.66V230.06H564.22V231.68H564.78V231.68H565.32V233.31H565.87V233.31H566.41V234.93H566.95V234.93H567.18V234.93H567.61V237.23H568.04V237.23H568.21V237.23H568.69V238.86H569.16V238.86H570.25V238.86H570.76V240.89H571.28V240.89H571.53V243.46H571.79V243.46H572.05V246.44H572.31V246.44H573.32V248.06H574.34V248.06H575.37V249.55H576.40V249.55H577.93V251.04H579.46V251.04H580.48V252.67H581.49V252.67H582.52V253.62H583.55V253.62H584.57V255.65H585.59V255.65H586.10V257.68H586.62V257.68H587.63V259.84H588.65V259.84H589.68V261.33H590.71V261.33H591.73V262.28H592.74V262.28H593.77V264.45H594.80V264.45H595.82V264.85H596.83V264.85H598.37V265.39H599.90V265.39H600.93V265.94H601.96V265.94H602.24V265.94H603.63V266.48H605.02V266.48H605.71V266.48H605.88V269.46H606.05V269.46H606.46V269.86H606.88V269.86H606.98V271.08H607.08V271.08H607.55V272.16H608.02V272.16H609.11V272.16H610.64V272.57H612.17V272.57H612.40V272.84H612.63V272.84H613.93V273.11H615.24V273.11H616.25V273.38H617.27V273.38H617.84V275.69H618.41V275.69H621.30V276.23H624.19V276.23H624.77V277.45H625.34V277.45H639.19V277.45H640.34V278.53H641.48V278.53H642.64V279.75H643.80V279.75H650.73V279.75H651.88V280.83H653.04V280.83H654.19V283.81H655.33V283.81H655.92V286.11H656.51V286.11H657.65V286.65H658.80V286.65H659.96V287.74H661.11V287.74H661.97V289.50H662.83V289.50H676.68V289.50H677.80" fill="none" stroke="#b03a52" stroke-width="1.1"/>
<path d="M534.70,174.00H536.27V174.00H536.83V175.90H537.39V175.90H537.93V177.52H538.48V177.52H539.29V179.15H540.11V179.15H540.94V180.77H541.77V180.77H542.58V181.85H543.40V181.85H544.22V182.39H545.03V182.39H545.59V184.02H546.15V184.02H546.96V185.10H547.78V185.10H548.05V186.86H548.32V186.86H548.88V189.57H549.44V189.57H549.98V192.28H550.53V192.28H551.07V194.45H551.61V194.45H552.16V196.61H552.70V196.61H553.26V198.91H553.82V198.91H554.36V201.08H554.91V201.08H555.72V203.25H556.54V203.25H557.10V205.41H557.65V205.41H558.20V207.58H558.74V207.58H559.28V209.75H559.83V209.75H560.39V212.05H560.94V212.05H561.49V214.21H562.03V214.21H562.85V215.30H563.66V215.30H564.49V216.38H565.32V216.38H568.61V216.38H569.16V218.55H569.70V218.55H569.97V221.80H570.25V221.80H570.79V223.96H571.33V223.96H572.16V225.72H572.99V225.72H573.27V228.43H573.54V228.43H574.35V230.60H575.17V230.60H575.27V231.14H575.37V231.14H576.10V231.68H576.83V231.68H576.87V232.76H576.91V232.76H578.46V232.76H578.70V233.17H578.95V233.17H579.46V235.20H579.98V235.20H580.12V235.20H580.66V236.55H581.21V236.55H581.35V237.37H581.49V237.37H581.89V237.77H582.30V237.77H582.67V239.40H583.04V239.40H583.80V241.43H584.56V241.43H584.81V244.00H585.07V244.00H585.59V245.49H586.10V245.49H586.87V247.52H587.65V247.52H588.41V249.01H589.16V249.01H589.68V250.64H590.19V250.64H590.97V251.58H591.74V251.58H592.50V253.21H593.26V253.21H594.03V253.62H594.80V253.62H595.82V254.16H596.83V254.16H597.35V255.65H597.86V255.65H598.64V257.27H599.41V257.27H599.68V258.35H599.95V258.35H600.93V258.35H601.96V259.30H602.99V259.30H603.20V259.57H603.42V259.57H604.22V260.25H605.02V260.25H605.36V261.20H605.71V261.20H606.39V261.87H607.08V261.87H607.55V262.96H608.02V262.96H608.05V263.36H608.08V263.36H616.27V263.36H623.02V263.36H623.61V264.31H624.19V264.31H625.93V265.26H627.66V265.26H629.96V266.48H632.27V266.48H633.41V267.56H634.56V267.56H635.71V268.24H636.87V268.24H637.45V269.73H638.02V269.73H639.75V271.08H641.48V271.08H642.07V272.16H642.65V272.16H646.12V272.84H649.58V272.84H650.15V273.38H650.73V273.38H658.80V273.38H659.38V275.69H659.97V275.69H660.54V277.45H661.11V277.45H662.27V279.07H663.43V279.07H669.19V279.07H669.77V280.83H670.36V280.83H672.66V281.37H674.97V281.37H675.54V282.59H676.11V282.59H677.80" fill="none" stroke="#2c7ea0" stroke-width="1.1"/>
<line x1="534.70" y1="167.23" x2="534.70" y2="309.90" stroke="#333" stroke-width="1.1" />
<line x1="534.20" y1="309.40" x2="678.20" y2="309.40" stroke="#888" stroke-width="1.2" />
<line x1="532.40" y1="309.40" x2="534.70" y2="309.40" stroke="#999" stroke-width="0.9" />
<text class="n" transform="translate(531.20,312.10) scale(1,1.08)" font-size="7.6" text-anchor="end" font-weight="normal" fill="#111" >0.0</text>
<line x1="532.40" y1="282.32" x2="534.70" y2="282.32" stroke="#999" stroke-width="0.9" />
<text class="n" transform="translate(531.20,285.02) scale(1,1.08)" font-size="7.6" text-anchor="end" font-weight="normal" fill="#111" >0.2</text>
<line x1="532.40" y1="255.24" x2="534.70" y2="255.24" stroke="#999" stroke-width="0.9" />
<text class="n" transform="translate(531.20,257.94) scale(1,1.08)" font-size="7.6" text-anchor="end" font-weight="normal" fill="#111" >0.4</text>
<line x1="532.40" y1="228.16" x2="534.70" y2="228.16" stroke="#999" stroke-width="0.9" />
<text class="n" transform="translate(531.20,230.86) scale(1,1.08)" font-size="7.6" text-anchor="end" font-weight="normal" fill="#111" >0.6</text>
<line x1="532.40" y1="201.08" x2="534.70" y2="201.08" stroke="#999" stroke-width="0.9" />
<text class="n" transform="translate(531.20,203.78) scale(1,1.08)" font-size="7.6" text-anchor="end" font-weight="normal" fill="#111" >0.8</text>
<line x1="532.40" y1="174.00" x2="534.70" y2="174.00" stroke="#999" stroke-width="0.9" />
<text class="n" transform="translate(531.20,176.70) scale(1,1.08)" font-size="7.6" text-anchor="end" font-weight="normal" fill="#111" >1.0</text>
<line x1="534.70" y1="309.40" x2="534.70" y2="312.00" stroke="#444" stroke-width="0.9" />
<text class="n" transform="translate(534.70,318.00) scale(1,1.08)" font-size="7.6" text-anchor="middle" font-weight="normal" fill="#111" >0</text>
<line x1="563.32" y1="309.40" x2="563.32" y2="312.00" stroke="#444" stroke-width="0.9" />
<text class="n" transform="translate(563.32,318.00) scale(1,1.08)" font-size="7.6" text-anchor="middle" font-weight="normal" fill="#111" >1</text>
<line x1="591.94" y1="309.40" x2="591.94" y2="312.00" stroke="#444" stroke-width="0.9" />
<text class="n" transform="translate(591.94,318.00) scale(1,1.08)" font-size="7.6" text-anchor="middle" font-weight="normal" fill="#111" >2</text>
<line x1="620.56" y1="309.40" x2="620.56" y2="312.00" stroke="#444" stroke-width="0.9" />
<text class="n" transform="translate(620.56,318.00) scale(1,1.08)" font-size="7.6" text-anchor="middle" font-weight="normal" fill="#111" >3</text>
<line x1="649.18" y1="309.40" x2="649.18" y2="312.00" stroke="#444" stroke-width="0.9" />
<text class="n" transform="translate(649.18,318.00) scale(1,1.08)" font-size="7.6" text-anchor="middle" font-weight="normal" fill="#111" >4</text>
<line x1="677.80" y1="309.40" x2="677.80" y2="312.00" stroke="#444" stroke-width="0.9" />
<text class="n" transform="translate(677.80,318.00) scale(1,1.08)" font-size="7.6" text-anchor="middle" font-weight="normal" fill="#111" >5</text>
<text class="n" transform="translate(606.25,326.60) scale(1,1.08)" font-size="7.5" text-anchor="middle" font-weight="normal" fill="#111" >Time (years)</text>
<text transform="translate(517.30,237.20) rotate(-90) scale(1,1.08)" class="n" font-size="7.6" text-anchor="middle" fill="#111">Survival probability</text>
<text class="n" transform="translate(592.10,179.80) scale(1,1.08)" font-size="7.6" text-anchor="start" font-weight="normal" fill="#111" >n=200</text>
<text class="n" transform="translate(592.10,188.10) scale(1,1.08)" font-size="7.6" text-anchor="start" font-weight="normal" fill="#111" >log-rank test, p=0.126</text>
<text class="n" transform="translate(592.10,196.80) scale(1,1.08)" font-size="7.6" text-anchor="start" font-weight="normal" fill="#111" >MG (features)</text>
<rect x="539.00" y="281.50" width="57.6" height="24.2" rx="1.5" fill="#fff" fill-opacity="0.8" stroke="#ebebeb" stroke-width="0.7"/>
<line x1="541.20" y1="287.30" x2="557.70" y2="287.30" stroke="#bf5c72" stroke-width="1.2" />
<line x1="541.20" y1="297.90" x2="557.70" y2="297.90" stroke="#78afcc" stroke-width="1.2" />
<text class="n" transform="translate(563.60,290.10) scale(1,1.08)" font-size="7.6" text-anchor="start" font-weight="normal" fill="#111" >High risk</text>
<text class="n" transform="translate(563.60,300.70) scale(1,1.08)" font-size="7.6" text-anchor="start" font-weight="normal" fill="#111" >Low risk</text>
<text transform="translate(510.90,172.00) scale(1,1.0)" font-size="12.0" text-anchor="start" font-weight="bold" fill="#000" >h</text>
<line x1="27.50" y1="488.10" x2="168.50" y2="338.90" stroke="#808080" stroke-width="1.2" stroke-dasharray="3.2,1.4"/>
<path d="M27.36,488.10L27.36,476.01L35.40,476.01L35.40,459.75L35.40,443.64L43.01,443.64L43.01,435.43L46.39,435.43L46.39,423.94L50.48,423.94L50.48,411.71L54.57,411.71L54.57,410.07L54.57,410.96L54.57,403.95L58.38,403.95L58.38,379.18L61.62,379.18L61.62,375.90L65.57,375.90L65.57,371.57L73.18,371.57L73.18,367.70L84.61,367.70L84.61,363.37L99.97,363.37L107.59,363.37L107.59,355.46L119.29,355.46L119.29,351.58L122.96,351.58L122.96,347.55L130.57,347.55L130.57,343.38L168.36,343.38L168.36,339.35" fill="none" stroke="#fb887a" stroke-width="1.1"/>
<path d="M27.36,488.10L27.36,479.45L35.40,479.45L35.40,471.99L39.48,471.99L39.48,467.96L46.39,467.96L46.39,455.72L50.48,455.72L50.48,443.64L54.57,443.64L54.57,439.46L62.05,439.46L62.05,431.40L66.13,431.40L66.13,415.14L73.61,415.14L73.61,411.41L85.17,411.41L85.17,410.07L84.61,410.96L84.61,399.48L88.55,399.48L88.55,379.78L92.36,379.78L92.36,371.57L96.73,371.57L96.73,367.70L99.97,367.70L96.59,367.55L107.59,367.55L107.59,363.37L119.29,363.37L119.29,359.34L126.76,359.34L126.76,351.58L145.94,351.58L145.94,347.55L157.36,347.55L157.36,339.35L168.36,339.35" fill="none" stroke="#93d3f9" stroke-width="1.1"/>
<path d="M27.36,488.10L27.36,476.01L35.40,476.01L35.40,459.75L39.48,459.75L39.48,455.72L43.01,455.72L43.01,447.67L46.39,447.67L46.39,443.64L54.57,443.64L54.57,435.43L58.52,435.43L58.52,427.52L65.57,427.52L65.57,410.07L65.99,410.96L65.99,400.07L69.38,400.07L69.38,383.66L73.18,383.66L73.18,379.78L76.99,379.78L76.99,375.90L84.61,375.90L84.61,371.57L99.97,371.57L99.97,371.28L99.97,363.37L111.39,363.37L111.39,351.58L134.38,351.58L134.38,347.55L138.19,347.55L138.19,343.38L145.94,343.38L145.94,339.35L168.36,339.35" fill="none" stroke="#6acfad" stroke-width="1.1"/>
<line x1="26.50" y1="337.70" x2="26.50" y2="488.60" stroke="#333" stroke-width="1.1" />
<line x1="26.00" y1="488.10" x2="168.90" y2="488.10" stroke="#777" stroke-width="1.2" />
<line x1="22.20" y1="488.10" x2="26.50" y2="488.10" stroke="#444" stroke-width="1.0" />
<text class="n" transform="translate(20.50,491.80) scale(1,1.08)" font-size="7.6" text-anchor="end" font-weight="normal" fill="#111" >0.0</text>
<line x1="22.20" y1="413.50" x2="26.50" y2="413.50" stroke="#444" stroke-width="1.0" />
<text class="n" transform="translate(20.50,417.20) scale(1,1.08)" font-size="7.6" text-anchor="end" font-weight="normal" fill="#111" >0.5</text>
<line x1="22.20" y1="338.90" x2="26.50" y2="338.90" stroke="#444" stroke-width="1.0" />
<text class="n" transform="translate(20.50,342.60) scale(1,1.08)" font-size="7.6" text-anchor="end" font-weight="normal" fill="#111" >1.0</text>
<line x1="27.50" y1="488.10" x2="27.50" y2="491.60" stroke="#444" stroke-width="1.0" />
<text class="n" transform="translate(27.50,499.70) scale(1,1.08)" font-size="7.6" text-anchor="middle" font-weight="normal" fill="#111" >0.0</text>
<line x1="55.70" y1="488.10" x2="55.70" y2="491.60" stroke="#444" stroke-width="1.0" />
<text class="n" transform="translate(55.70,499.70) scale(1,1.08)" font-size="7.6" text-anchor="middle" font-weight="normal" fill="#111" >0.2</text>
<line x1="83.90" y1="488.10" x2="83.90" y2="491.60" stroke="#444" stroke-width="1.0" />
<text class="n" transform="translate(83.90,499.70) scale(1,1.08)" font-size="7.6" text-anchor="middle" font-weight="normal" fill="#111" >0.4</text>
<line x1="112.10" y1="488.10" x2="112.10" y2="491.60" stroke="#444" stroke-width="1.0" />
<text class="n" transform="translate(112.10,499.70) scale(1,1.08)" font-size="7.6" text-anchor="middle" font-weight="normal" fill="#111" >0.6</text>
<line x1="140.30" y1="488.10" x2="140.30" y2="491.60" stroke="#444" stroke-width="1.0" />
<text class="n" transform="translate(140.30,499.70) scale(1,1.08)" font-size="7.6" text-anchor="middle" font-weight="normal" fill="#111" >0.8</text>
<line x1="168.50" y1="488.10" x2="168.50" y2="491.60" stroke="#444" stroke-width="1.0" />
<text class="n" transform="translate(168.50,499.70) scale(1,1.08)" font-size="7.6" text-anchor="middle" font-weight="normal" fill="#111" >1.0</text>
<text class="n" transform="translate(97.70,507.80) scale(1,1.08)" font-size="7.4" text-anchor="middle" font-weight="normal" fill="#111" >1-specificity</text>
<text transform="translate(6.30,413.50) rotate(-90) scale(1,1.08)" class="n" font-size="7.5" text-anchor="middle" fill="#111">Sensitivity</text>
<text class="n" transform="translate(30.80,344.70) scale(1,1.08)" font-size="7.6" text-anchor="start" font-weight="normal" fill="#111" >Lung Window</text>
<text class="n" transform="translate(30.80,353.65) scale(1,1.08)" font-size="7.6" text-anchor="start" font-weight="normal" fill="#111" >Internal dataset</text>
<text class="n" transform="translate(30.80,362.60) scale(1,1.08)" font-size="7.6" text-anchor="start" font-weight="normal" fill="#111" >Best model</text>
<rect x="78.80" y="449.50" width="85.8" height="34.6" rx="1.5" fill="#fff" fill-opacity="0.8" stroke="#ebebeb" stroke-width="0.7"/>
<line x1="81.70" y1="455.40" x2="97.20" y2="455.40" stroke="#fb887a" stroke-width="1.2" />
<text class="n" transform="translate(103.30,458.10) scale(1,1.08)" font-size="7.5" text-anchor="start" font-weight="normal" fill="#111" >LCTfound 0.7663</text>
<line x1="81.70" y1="466.50" x2="97.20" y2="466.50" stroke="#93d3f9" stroke-width="1.2" />
<text class="n" transform="translate(103.30,469.20) scale(1,1.08)" font-size="7.5" text-anchor="start" font-weight="normal" fill="#111" >MAE 0.6421</text>
<line x1="81.70" y1="477.10" x2="97.20" y2="477.10" stroke="#6acfad" stroke-width="1.2" />
<text class="n" transform="translate(103.30,479.80) scale(1,1.08)" font-size="7.5" text-anchor="start" font-weight="normal" fill="#111" >ResNet50 0.7078</text>
<text transform="translate(-0.30,342.30) scale(1,1.0)" font-size="12.0" text-anchor="start" font-weight="bold" fill="#000" >i</text>
<line x1="197.90" y1="488.10" x2="338.90" y2="338.90" stroke="#808080" stroke-width="1.2" stroke-dasharray="3.2,1.4"/>
<path d="M197.90,488.10L197.90,476.01L201.71,476.01L201.71,467.96L205.66,467.96L205.66,459.75L209.46,459.75L209.46,443.64L217.64,443.64L217.64,431.40L221.02,431.40L221.02,410.07L220.74,407.68L224.55,407.68L224.55,383.36L228.36,383.36L228.36,379.63L243.73,379.63L243.73,375.45L269.95,375.45L270.23,375.45L270.23,367.55L285.32,367.55L285.32,363.37L289.27,363.37L289.27,359.34L293.22,359.34L293.22,351.58L297.31,351.58L297.31,347.55L308.59,347.55L308.59,343.38L338.34,343.38L338.34,339.35" fill="none" stroke="#fb887a" stroke-width="1.1"/>
<path d="M197.90,488.10L197.90,479.45L205.66,479.45L205.66,471.99L209.46,471.99L209.46,463.78L213.55,463.78L213.55,459.75L221.02,459.75L221.02,451.70L224.83,451.70L224.83,443.64L232.59,443.64L232.59,439.46L240.20,439.46L240.20,427.38L243.58,427.38L243.58,419.32L247.67,419.32L247.67,411.41L251.76,411.41L251.76,410.07L251.34,407.68L255.29,407.68L255.29,387.39L262.34,387.39L262.34,375.45L269.95,375.45L274.32,375.45L274.32,371.28L285.32,371.28L285.32,363.37L293.22,363.37L293.22,359.34L297.31,359.34L297.31,351.58L312.25,351.58L312.25,347.55L327.48,347.55L327.48,339.35L338.34,339.35" fill="none" stroke="#93d3f9" stroke-width="1.1"/>
<path d="M197.90,488.10L197.90,479.45L209.46,479.45L209.46,435.43L221.02,435.43L221.02,423.94L224.83,423.94L224.83,419.32L232.59,419.32L232.59,415.14L240.20,415.14L240.20,411.71L243.58,411.71L243.58,410.07L243.73,407.68L247.53,407.68L247.53,403.95L266.71,403.95L266.71,399.48L266.71,399.48L274.32,399.48L274.32,391.57L281.94,391.57L281.94,379.63L289.27,379.63L289.27,375.45L297.31,375.45L297.31,367.55L304.36,367.55L304.36,363.37L308.59,363.37L308.59,359.34L312.25,359.34L312.25,347.55L316.48,347.55L316.48,343.38L327.48,343.38L327.48,339.35L338.34,339.35" fill="none" stroke="#6acfad" stroke-width="1.1"/>
<line x1="196.50" y1="337.70" x2="196.50" y2="488.60" stroke="#333" stroke-width="1.1" />
<line x1="196.00" y1="488.10" x2="339.30" y2="488.10" stroke="#777" stroke-width="1.2" />
<line x1="192.20" y1="488.10" x2="196.50" y2="488.10" stroke="#444" stroke-width="1.0" />
<text class="n" transform="translate(190.90,491.80) scale(1,1.08)" font-size="7.6" text-anchor="end" font-weight="normal" fill="#111" >0.0</text>
<line x1="192.20" y1="413.50" x2="196.50" y2="413.50" stroke="#444" stroke-width="1.0" />
<text class="n" transform="translate(190.90,417.20) scale(1,1.08)" font-size="7.6" text-anchor="end" font-weight="normal" fill="#111" >0.5</text>
<line x1="192.20" y1="338.90" x2="196.50" y2="338.90" stroke="#444" stroke-width="1.0" />
<text class="n" transform="translate(190.90,342.60) scale(1,1.08)" font-size="7.6" text-anchor="end" font-weight="normal" fill="#111" >1.0</text>
<line x1="197.90" y1="488.10" x2="197.90" y2="491.60" stroke="#444" stroke-width="1.0" />
<text class="n" transform="translate(197.90,499.70) scale(1,1.08)" font-size="7.6" text-anchor="middle" font-weight="normal" fill="#111" >0.0</text>
<line x1="226.10" y1="488.10" x2="226.10" y2="491.60" stroke="#444" stroke-width="1.0" />
<text class="n" transform="translate(226.10,499.70) scale(1,1.08)" font-size="7.6" text-anchor="middle" font-weight="normal" fill="#111" >0.2</text>
<line x1="254.30" y1="488.10" x2="254.30" y2="491.60" stroke="#444" stroke-width="1.0" />
<text class="n" transform="translate(254.30,499.70) scale(1,1.08)" font-size="7.6" text-anchor="middle" font-weight="normal" fill="#111" >0.4</text>
<line x1="282.50" y1="488.10" x2="282.50" y2="491.60" stroke="#444" stroke-width="1.0" />
<text class="n" transform="translate(282.50,499.70) scale(1,1.08)" font-size="7.6" text-anchor="middle" font-weight="normal" fill="#111" >0.6</text>
<line x1="310.70" y1="488.10" x2="310.70" y2="491.60" stroke="#444" stroke-width="1.0" />
<text class="n" transform="translate(310.70,499.70) scale(1,1.08)" font-size="7.6" text-anchor="middle" font-weight="normal" fill="#111" >0.8</text>
<line x1="338.90" y1="488.10" x2="338.90" y2="491.60" stroke="#444" stroke-width="1.0" />
<text class="n" transform="translate(338.90,499.70) scale(1,1.08)" font-size="7.6" text-anchor="middle" font-weight="normal" fill="#111" >1.0</text>
<text class="n" transform="translate(268.10,507.80) scale(1,1.08)" font-size="7.4" text-anchor="middle" font-weight="normal" fill="#111" >1-specificity</text>
<text transform="translate(176.70,413.50) rotate(-90) scale(1,1.08)" class="n" font-size="7.5" text-anchor="middle" fill="#111">Sensitivity</text>
<text class="n" transform="translate(199.90,344.70) scale(1,1.08)" font-size="7.6" text-anchor="start" font-weight="normal" fill="#111" >Lung Window</text>
<text class="n" transform="translate(199.90,353.65) scale(1,1.08)" font-size="7.6" text-anchor="start" font-weight="normal" fill="#111" >Internal dataset</text>
<text class="n" transform="translate(199.90,362.60) scale(1,1.08)" font-size="7.6" text-anchor="start" font-weight="normal" fill="#111" >Last model</text>
<rect x="249.20" y="449.50" width="85.8" height="34.6" rx="1.5" fill="#fff" fill-opacity="0.8" stroke="#ebebeb" stroke-width="0.7"/>
<line x1="252.10" y1="455.40" x2="267.60" y2="455.40" stroke="#fb887a" stroke-width="1.2" />
<text class="n" transform="translate(273.70,458.10) scale(1,1.08)" font-size="7.5" text-anchor="start" font-weight="normal" fill="#111" >LCTfound 0.7385</text>
<line x1="252.10" y1="466.50" x2="267.60" y2="466.50" stroke="#93d3f9" stroke-width="1.2" />
<text class="n" transform="translate(273.70,469.20) scale(1,1.08)" font-size="7.5" text-anchor="start" font-weight="normal" fill="#111" >MAE 0.6253</text>
<line x1="252.10" y1="477.10" x2="267.60" y2="477.10" stroke="#6acfad" stroke-width="1.2" />
<text class="n" transform="translate(273.70,479.80) scale(1,1.08)" font-size="7.5" text-anchor="start" font-weight="normal" fill="#111" >ResNet50 0.6238</text>
<text transform="translate(170.10,342.30) scale(1,1.0)" font-size="12.0" text-anchor="start" font-weight="bold" fill="#000" >j</text>
<line x1="368.30" y1="488.10" x2="509.30" y2="338.90" stroke="#808080" stroke-width="1.2" stroke-dasharray="3.2,1.4"/>
<path d="M368.30,488.10L368.30,479.45L371.26,479.45L371.26,471.99L374.65,471.99L374.65,467.96L380.85,467.96L380.85,443.64L383.95,443.64L383.95,427.52L387.48,427.52L387.48,415.14L402.70,415.14L402.70,410.07L402.70,403.65L405.95,403.65L405.95,399.77L409.19,399.77L409.19,391.57L415.54,391.57L415.54,383.36L418.50,383.36L418.50,379.48L421.32,379.48L421.32,375.60L424.56,375.60L424.56,371.57L427.80,371.57L427.80,359.34L431.19,359.34L431.19,355.46L437.67,355.46L437.67,351.58L437.25,351.58L462.35,351.58L465.59,351.58L465.59,347.55L471.65,347.55L471.65,343.38L509.30,343.38L509.30,339.35" fill="none" stroke="#fb887a" stroke-width="1.1"/>
<path d="M368.30,488.10L368.30,484.07L371.26,484.07L371.26,476.01L374.65,476.01L374.65,447.67L390.30,447.67L390.30,439.91L396.64,439.91L396.64,415.14L402.70,415.14L402.70,411.71L415.82,411.71L415.82,410.07L415.54,407.68L418.50,407.68L418.50,391.57L421.32,391.57L421.32,387.39L424.56,387.39L424.56,379.48L427.80,379.48L427.80,375.60L437.67,375.60L437.67,363.37L437.25,363.37L456.28,363.37L456.28,359.34L462.35,359.34L462.35,351.58L465.59,351.58L465.59,347.55L471.65,347.55L471.65,343.38L509.30,343.38L509.30,339.35" fill="none" stroke="#93d3f9" stroke-width="1.1"/>
<path d="M368.30,488.10L368.30,479.45L374.65,479.45L374.65,476.01L377.61,476.01L377.61,471.99L383.95,471.99L383.95,451.70L390.30,451.70L390.30,447.67L399.60,447.67L399.60,439.91L402.99,439.91L402.99,435.43L406.51,435.43L406.51,431.40L412.57,431.40L412.57,415.14L418.64,415.14L418.64,410.07L418.50,407.68L421.32,407.68L421.32,399.77L427.80,399.77L427.80,395.75L434.43,395.75L434.43,375.60L437.67,375.60L437.67,371.57L437.25,371.28L465.59,371.28L465.59,367.55L474.47,367.55L474.47,363.37L481.10,363.37L481.10,359.34L484.20,359.34L484.20,355.46L490.41,355.46L490.41,351.58L493.51,351.58L493.51,347.55L499.99,347.55L499.99,343.38L503.38,343.38L503.38,339.35L509.30,339.35" fill="none" stroke="#6acfad" stroke-width="1.1"/>
<line x1="367.50" y1="337.70" x2="367.50" y2="488.60" stroke="#333" stroke-width="1.1" />
<line x1="367.00" y1="488.10" x2="509.70" y2="488.10" stroke="#777" stroke-width="1.2" />
<line x1="363.20" y1="488.10" x2="367.50" y2="488.10" stroke="#444" stroke-width="1.0" />
<text class="n" transform="translate(361.30,491.80) scale(1,1.08)" font-size="7.6" text-anchor="end" font-weight="normal" fill="#111" >0.0</text>
<line x1="363.20" y1="413.50" x2="367.50" y2="413.50" stroke="#444" stroke-width="1.0" />
<text class="n" transform="translate(361.30,417.20) scale(1,1.08)" font-size="7.6" text-anchor="end" font-weight="normal" fill="#111" >0.5</text>
<line x1="363.20" y1="338.90" x2="367.50" y2="338.90" stroke="#444" stroke-width="1.0" />
<text class="n" transform="translate(361.30,342.60) scale(1,1.08)" font-size="7.6" text-anchor="end" font-weight="normal" fill="#111" >1.0</text>
<line x1="368.30" y1="488.10" x2="368.30" y2="491.60" stroke="#444" stroke-width="1.0" />
<text class="n" transform="translate(368.30,499.70) scale(1,1.08)" font-size="7.6" text-anchor="middle" font-weight="normal" fill="#111" >0.0</text>
<line x1="396.50" y1="488.10" x2="396.50" y2="491.60" stroke="#444" stroke-width="1.0" />
<text class="n" transform="translate(396.50,499.70) scale(1,1.08)" font-size="7.6" text-anchor="middle" font-weight="normal" fill="#111" >0.2</text>
<line x1="424.70" y1="488.10" x2="424.70" y2="491.60" stroke="#444" stroke-width="1.0" />
<text class="n" transform="translate(424.70,499.70) scale(1,1.08)" font-size="7.6" text-anchor="middle" font-weight="normal" fill="#111" >0.4</text>
<line x1="452.90" y1="488.10" x2="452.90" y2="491.60" stroke="#444" stroke-width="1.0" />
<text class="n" transform="translate(452.90,499.70) scale(1,1.08)" font-size="7.6" text-anchor="middle" font-weight="normal" fill="#111" >0.6</text>
<line x1="481.10" y1="488.10" x2="481.10" y2="491.60" stroke="#444" stroke-width="1.0" />
<text class="n" transform="translate(481.10,499.70) scale(1,1.08)" font-size="7.6" text-anchor="middle" font-weight="normal" fill="#111" >0.8</text>
<line x1="509.30" y1="488.10" x2="509.30" y2="491.60" stroke="#444" stroke-width="1.0" />
<text class="n" transform="translate(509.30,499.70) scale(1,1.08)" font-size="7.6" text-anchor="middle" font-weight="normal" fill="#111" >1.0</text>
<text class="n" transform="translate(438.50,507.80) scale(1,1.08)" font-size="7.4" text-anchor="middle" font-weight="normal" fill="#111" >1-specificity</text>
<text transform="translate(347.10,413.50) rotate(-90) scale(1,1.08)" class="n" font-size="7.5" text-anchor="middle" fill="#111">Sensitivity</text>
<text class="n" transform="translate(369.60,344.70) scale(1,1.08)" font-size="7.6" text-anchor="start" font-weight="normal" fill="#111" >Lung Window</text>
<text class="n" transform="translate(369.60,353.65) scale(1,1.08)" font-size="7.6" text-anchor="start" font-weight="normal" fill="#111" >External dataset</text>
<text class="n" transform="translate(369.60,362.60) scale(1,1.08)" font-size="7.6" text-anchor="start" font-weight="normal" fill="#111" >Best model</text>
<rect x="419.60" y="449.50" width="85.8" height="34.6" rx="1.5" fill="#fff" fill-opacity="0.8" stroke="#ebebeb" stroke-width="0.7"/>
<line x1="422.50" y1="455.40" x2="438.00" y2="455.40" stroke="#fb887a" stroke-width="1.2" />
<text class="n" transform="translate(444.10,458.10) scale(1,1.08)" font-size="7.5" text-anchor="start" font-weight="normal" fill="#111" >LCTfound 0.7447</text>
<line x1="422.50" y1="466.50" x2="438.00" y2="466.50" stroke="#93d3f9" stroke-width="1.2" />
<text class="n" transform="translate(444.10,469.20) scale(1,1.08)" font-size="7.5" text-anchor="start" font-weight="normal" fill="#111" >MAE 0.6937</text>
<line x1="422.50" y1="477.10" x2="438.00" y2="477.10" stroke="#6acfad" stroke-width="1.2" />
<text class="n" transform="translate(444.10,479.80) scale(1,1.08)" font-size="7.5" text-anchor="start" font-weight="normal" fill="#111" >ResNet50 0.6096</text>
<text transform="translate(340.50,342.30) scale(1,1.0)" font-size="12.0" text-anchor="start" font-weight="bold" fill="#000" >k</text>
<line x1="538.70" y1="488.10" x2="679.70" y2="338.90" stroke="#808080" stroke-width="1.2" stroke-dasharray="3.2,1.4"/>
<path d="M538.56,488.10L538.56,471.99L547.58,471.99L547.58,463.78L551.11,463.78L551.11,451.70L560.27,451.70L560.27,435.43L563.23,435.43L563.23,411.41L570.57,411.41L570.57,410.07L570.14,403.65L576.49,403.65L576.49,399.77L582.55,399.77L582.55,387.39L588.75,387.39L588.75,383.36L592.42,383.36L592.42,375.60L598.34,375.60L598.34,363.37L604.41,363.37L604.41,359.34L611.03,359.34L613.71,359.34L613.71,355.46L617.52,355.46L617.52,351.58L642.19,351.58L642.19,343.38L670.54,343.38L670.54,339.35L679.42,339.35" fill="none" stroke="#fb887a" stroke-width="1.1"/>
<path d="M538.56,488.10L538.56,476.01L541.24,476.01L541.24,471.99L545.33,471.99L545.33,467.96L548.15,467.96L548.15,451.70L551.67,451.70L551.67,447.67L563.80,447.67L563.80,423.65L573.67,423.65L573.67,415.14L586.08,415.14L586.08,410.07L585.79,399.77L601.73,399.77L601.73,379.48L604.41,379.48L604.41,371.57L611.03,371.57L610.33,371.28L610.33,367.55L616.96,367.55L616.96,359.34L620.20,359.34L620.20,355.46L629.50,355.46L629.50,351.58L639.37,351.58L639.37,347.55L642.19,347.55L642.19,343.38L679.42,343.38L679.42,339.35" fill="none" stroke="#93d3f9" stroke-width="1.1"/>
<path d="M538.56,488.10L538.56,484.07L541.24,484.07L541.24,479.45L548.15,479.45L548.15,455.72L551.67,455.72L551.67,451.70L554.49,451.70L554.49,443.64L557.45,443.64L557.45,431.40L560.27,431.40L560.27,427.52L576.49,427.52L576.49,419.47L582.83,419.47L582.83,410.07L582.55,407.68L585.79,407.68L585.79,403.95L595.66,403.95L595.66,399.77L607.65,399.77L607.65,395.75L610.89,395.75L610.89,387.39L614.28,387.39L614.28,383.36L620.20,383.36L620.20,379.63L623.58,379.63L623.58,371.28L629.50,371.28L629.50,363.37L632.89,363.37L632.89,359.34L638.81,359.34L638.81,355.46L645.44,355.46L645.44,351.58L651.50,351.58L651.50,347.55L673.36,347.55L673.36,339.35L679.42,339.35" fill="none" stroke="#6acfad" stroke-width="1.1"/>
<line x1="537.50" y1="337.70" x2="537.50" y2="488.60" stroke="#333" stroke-width="1.1" />
<line x1="537.00" y1="488.10" x2="680.10" y2="488.10" stroke="#777" stroke-width="1.2" />
<line x1="533.20" y1="488.10" x2="537.50" y2="488.10" stroke="#444" stroke-width="1.0" />
<text class="n" transform="translate(531.70,491.80) scale(1,1.08)" font-size="7.6" text-anchor="end" font-weight="normal" fill="#111" >0.0</text>
<line x1="533.20" y1="413.50" x2="537.50" y2="413.50" stroke="#444" stroke-width="1.0" />
<text class="n" transform="translate(531.70,417.20) scale(1,1.08)" font-size="7.6" text-anchor="end" font-weight="normal" fill="#111" >0.5</text>
<line x1="533.20" y1="338.90" x2="537.50" y2="338.90" stroke="#444" stroke-width="1.0" />
<text class="n" transform="translate(531.70,342.60) scale(1,1.08)" font-size="7.6" text-anchor="end" font-weight="normal" fill="#111" >1.0</text>
<line x1="538.70" y1="488.10" x2="538.70" y2="491.60" stroke="#444" stroke-width="1.0" />
<text class="n" transform="translate(538.70,499.70) scale(1,1.08)" font-size="7.6" text-anchor="middle" font-weight="normal" fill="#111" >0.0</text>
<line x1="566.90" y1="488.10" x2="566.90" y2="491.60" stroke="#444" stroke-width="1.0" />
<text class="n" transform="translate(566.90,499.70) scale(1,1.08)" font-size="7.6" text-anchor="middle" font-weight="normal" fill="#111" >0.2</text>
<line x1="595.10" y1="488.10" x2="595.10" y2="491.60" stroke="#444" stroke-width="1.0" />
<text class="n" transform="translate(595.10,499.70) scale(1,1.08)" font-size="7.6" text-anchor="middle" font-weight="normal" fill="#111" >0.4</text>
<line x1="623.30" y1="488.10" x2="623.30" y2="491.60" stroke="#444" stroke-width="1.0" />
<text class="n" transform="translate(623.30,499.70) scale(1,1.08)" font-size="7.6" text-anchor="middle" font-weight="normal" fill="#111" >0.6</text>
<line x1="651.50" y1="488.10" x2="651.50" y2="491.60" stroke="#444" stroke-width="1.0" />
<text class="n" transform="translate(651.50,499.70) scale(1,1.08)" font-size="7.6" text-anchor="middle" font-weight="normal" fill="#111" >0.8</text>
<line x1="679.70" y1="488.10" x2="679.70" y2="491.60" stroke="#444" stroke-width="1.0" />
<text class="n" transform="translate(679.70,499.70) scale(1,1.08)" font-size="7.6" text-anchor="middle" font-weight="normal" fill="#111" >1.0</text>
<text class="n" transform="translate(608.90,507.80) scale(1,1.08)" font-size="7.4" text-anchor="middle" font-weight="normal" fill="#111" >1-specificity</text>
<text transform="translate(517.50,413.50) rotate(-90) scale(1,1.08)" class="n" font-size="7.5" text-anchor="middle" fill="#111">Sensitivity</text>
<text class="n" transform="translate(541.70,344.70) scale(1,1.08)" font-size="7.6" text-anchor="start" font-weight="normal" fill="#111" >Lung Window</text>
<text class="n" transform="translate(541.70,353.65) scale(1,1.08)" font-size="7.6" text-anchor="start" font-weight="normal" fill="#111" >External dataset</text>
<text class="n" transform="translate(541.70,362.60) scale(1,1.08)" font-size="7.6" text-anchor="start" font-weight="normal" fill="#111" >Last model</text>
<rect x="590.00" y="449.50" width="85.8" height="34.6" rx="1.5" fill="#fff" fill-opacity="0.8" stroke="#ebebeb" stroke-width="0.7"/>
<line x1="592.90" y1="455.40" x2="608.40" y2="455.40" stroke="#fb887a" stroke-width="1.2" />
<text class="n" transform="translate(614.50,458.10) scale(1,1.08)" font-size="7.5" text-anchor="start" font-weight="normal" fill="#111" >LCTfound 0.7279</text>
<line x1="592.90" y1="466.50" x2="608.40" y2="466.50" stroke="#93d3f9" stroke-width="1.2" />
<text class="n" transform="translate(614.50,469.20) scale(1,1.08)" font-size="7.5" text-anchor="start" font-weight="normal" fill="#111" >MAE 0.6823</text>
<line x1="592.90" y1="477.10" x2="608.40" y2="477.10" stroke="#6acfad" stroke-width="1.2" />
<text class="n" transform="translate(614.50,479.80) scale(1,1.08)" font-size="7.5" text-anchor="start" font-weight="normal" fill="#111" >ResNet50 0.6366</text>
<text transform="translate(510.90,342.30) scale(1,1.0)" font-size="12.0" text-anchor="start" font-weight="bold" fill="#000" >l</text>
<line x1="27.50" y1="669.30" x2="168.50" y2="520.10" stroke="#808080" stroke-width="1.2" stroke-dasharray="3.2,1.4"/>
<path d="M27.36,669.30L27.36,665.12L31.31,665.12L31.31,644.83L35.40,644.83L35.40,640.95L39.48,640.95L39.48,637.07L43.57,637.07L43.57,612.45L46.96,612.45L46.96,596.19L50.48,596.19L50.48,590.97L50.34,592.01L50.34,580.53L58.38,580.53L58.38,572.77L61.62,572.77L61.62,560.53L65.99,560.53L65.99,556.36L81.36,556.36L81.36,552.63L88.55,552.63L88.55,548.75L92.36,548.75L92.36,540.39L96.73,540.39L96.73,528.46L96.31,528.46L119.29,528.46L119.29,524.43L130.57,524.43L130.57,520.25L168.36,520.25" fill="none" stroke="#fb887a" stroke-width="1.1"/>
<path d="M27.36,669.30L27.36,665.12L35.40,665.12L35.40,637.07L39.48,637.07L39.48,608.87L43.01,608.87L43.01,600.22L46.96,600.22L46.96,596.19L50.48,596.19L50.48,590.97L50.34,592.01L50.34,580.53L58.38,580.53L58.38,576.65L62.19,576.65L62.19,572.62L65.99,572.62L65.99,564.56L73.18,564.56L73.18,560.53L77.56,560.53L77.56,556.36L84.61,556.36L84.61,552.63L99.97,552.63L123.24,552.33L123.24,540.39L138.61,540.39L138.61,528.46L145.94,528.46L145.94,520.25L168.36,520.25" fill="none" stroke="#93d3f9" stroke-width="1.1"/>
<path d="M27.36,669.30L27.36,665.12L31.31,665.12L31.31,648.86L39.48,648.86L39.48,633.19L43.57,633.19L43.57,624.54L46.96,624.54L46.96,617.08L50.48,617.08L50.48,608.58L62.33,608.58L62.33,590.97L61.62,592.01L61.62,588.73L73.18,588.73L73.18,584.70L77.56,584.70L77.56,572.62L88.55,572.62L88.55,568.44L92.36,568.44L92.36,548.75L99.97,548.75L123.24,548.60L123.24,544.42L134.38,544.42L134.38,536.51L145.94,536.51L145.94,532.48L149.75,532.48L149.75,528.46L165.12,528.46L165.12,524.43L168.36,524.43L168.36,520.25" fill="none" stroke="#6acfad" stroke-width="1.1"/>
<line x1="26.50" y1="518.90" x2="26.50" y2="669.80" stroke="#333" stroke-width="1.1" />
<line x1="26.00" y1="669.30" x2="168.90" y2="669.30" stroke="#777" stroke-width="1.2" />
<line x1="22.20" y1="669.30" x2="26.50" y2="669.30" stroke="#444" stroke-width="1.0" />
<text class="n" transform="translate(20.50,673.00) scale(1,1.08)" font-size="7.6" text-anchor="end" font-weight="normal" fill="#111" >0.0</text>
<line x1="22.20" y1="594.70" x2="26.50" y2="594.70" stroke="#444" stroke-width="1.0" />
<text class="n" transform="translate(20.50,598.40) scale(1,1.08)" font-size="7.6" text-anchor="end" font-weight="normal" fill="#111" >0.5</text>
<line x1="22.20" y1="520.10" x2="26.50" y2="520.10" stroke="#444" stroke-width="1.0" />
<text class="n" transform="translate(20.50,523.80) scale(1,1.08)" font-size="7.6" text-anchor="end" font-weight="normal" fill="#111" >1.0</text>
<line x1="27.50" y1="669.30" x2="27.50" y2="672.80" stroke="#444" stroke-width="1.0" />
<text class="n" transform="translate(27.50,680.90) scale(1,1.08)" font-size="7.6" text-anchor="middle" font-weight="normal" fill="#111" >0.0</text>
<line x1="55.70" y1="669.30" x2="55.70" y2="672.80" stroke="#444" stroke-width="1.0" />
<text class="n" transform="translate(55.70,680.90) scale(1,1.08)" font-size="7.6" text-anchor="middle" font-weight="normal" fill="#111" >0.2</text>
<line x1="83.90" y1="669.30" x2="83.90" y2="672.80" stroke="#444" stroke-width="1.0" />
<text class="n" transform="translate(83.90,680.90) scale(1,1.08)" font-size="7.6" text-anchor="middle" font-weight="normal" fill="#111" >0.4</text>
<line x1="112.10" y1="669.30" x2="112.10" y2="672.80" stroke="#444" stroke-width="1.0" />
<text class="n" transform="translate(112.10,680.90) scale(1,1.08)" font-size="7.6" text-anchor="middle" font-weight="normal" fill="#111" >0.6</text>
<line x1="140.30" y1="669.30" x2="140.30" y2="672.80" stroke="#444" stroke-width="1.0" />
<text class="n" transform="translate(140.30,680.90) scale(1,1.08)" font-size="7.6" text-anchor="middle" font-weight="normal" fill="#111" >0.8</text>
<line x1="168.50" y1="669.30" x2="168.50" y2="672.80" stroke="#444" stroke-width="1.0" />
<text class="n" transform="translate(168.50,680.90) scale(1,1.08)" font-size="7.6" text-anchor="middle" font-weight="normal" fill="#111" >1.0</text>
<text class="n" transform="translate(97.70,689.00) scale(1,1.08)" font-size="7.4" text-anchor="middle" font-weight="normal" fill="#111" >1-specificity</text>
<text transform="translate(6.30,594.70) rotate(-90) scale(1,1.08)" class="n" font-size="7.5" text-anchor="middle" fill="#111">Sensitivity</text>
<text class="n" transform="translate(30.80,525.90) scale(1,1.08)" font-size="7.6" text-anchor="start" font-weight="normal" fill="#111" >Mediastinum window</text>
<text class="n" transform="translate(30.80,534.85) scale(1,1.08)" font-size="7.6" text-anchor="start" font-weight="normal" fill="#111" >Internal dataset</text>
<text class="n" transform="translate(30.80,543.80) scale(1,1.08)" font-size="7.6" text-anchor="start" font-weight="normal" fill="#111" >Best model</text>
<rect x="78.80" y="630.70" width="85.8" height="34.6" rx="1.5" fill="#fff" fill-opacity="0.8" stroke="#ebebeb" stroke-width="0.7"/>
<line x1="81.70" y1="636.60" x2="97.20" y2="636.60" stroke="#fb887a" stroke-width="1.2" />
<text class="n" transform="translate(103.30,639.30) scale(1,1.08)" font-size="7.5" text-anchor="start" font-weight="normal" fill="#111" >LCTfound 0.7809</text>
<line x1="81.70" y1="647.70" x2="97.20" y2="647.70" stroke="#93d3f9" stroke-width="1.2" />
<text class="n" transform="translate(103.30,650.40) scale(1,1.08)" font-size="7.5" text-anchor="start" font-weight="normal" fill="#111" >MAE 0.7275</text>
<line x1="81.70" y1="658.30" x2="97.20" y2="658.30" stroke="#6acfad" stroke-width="1.2" />
<text class="n" transform="translate(103.30,661.00) scale(1,1.08)" font-size="7.5" text-anchor="start" font-weight="normal" fill="#111" >ResNet50 0.6840</text>
<text transform="translate(-0.30,523.70) scale(1,1.0)" font-size="12.0" text-anchor="start" font-weight="bold" fill="#000" >m</text>
<line x1="197.90" y1="669.30" x2="338.90" y2="520.10" stroke="#808080" stroke-width="1.2" stroke-dasharray="3.2,1.4"/>
<path d="M197.90,669.30L197.90,665.12L201.99,665.12L201.99,644.83L205.66,644.83L205.66,640.80L209.46,640.80L209.46,632.75L212.99,632.75L212.99,612.45L216.94,612.45L216.94,596.19L221.02,596.19L221.02,590.97L221.02,592.01L221.02,584.70L224.55,584.70L224.55,580.53L228.36,580.53L228.36,572.62L232.16,572.62L232.16,560.53L236.11,560.53L236.11,556.36L255.29,556.36L255.29,552.63L259.09,552.63L259.09,548.75L262.90,548.75L262.90,540.39L269.95,540.39L270.23,540.39L270.23,528.46L293.50,528.46L293.50,524.43L304.92,524.43L304.92,520.25L338.34,520.25" fill="none" stroke="#fb887a" stroke-width="1.1"/>
<path d="M197.90,669.30L201.99,669.30L201.99,660.50L209.46,660.50L209.46,648.86L213.55,648.86L213.55,624.54L216.94,624.54L216.94,616.48L224.83,616.48L224.83,612.45L228.64,612.45L228.64,596.19L232.59,596.19L232.59,590.97L232.16,592.01L232.16,584.70L236.11,584.70L236.11,580.53L243.73,580.53L243.73,576.65L247.53,576.65L247.53,568.44L262.90,568.44L262.90,564.56L266.71,564.56L266.71,556.36L266.71,556.36L278.13,556.36L278.13,552.33L285.74,552.33L285.74,544.42L301.11,544.42L301.11,540.39L304.92,540.39L304.92,536.51L316.48,536.51L316.48,532.48L323.53,532.48L323.53,528.46L331.29,528.46L331.29,520.25L338.34,520.25" fill="none" stroke="#93d3f9" stroke-width="1.1"/>
<path d="M197.90,669.30L197.90,665.12L201.99,665.12L201.99,644.83L205.66,644.83L205.66,640.80L216.94,640.80L216.94,628.57L221.02,628.57L221.02,624.54L224.83,624.54L224.83,620.51L228.64,620.51L228.64,608.58L232.59,608.58L232.59,604.70L236.39,604.70L236.39,592.46L243.58,592.46L243.58,590.97L243.73,592.01L243.73,588.73L247.53,588.73L247.53,580.68L262.90,580.68L262.90,576.65L266.71,576.65L266.71,572.62L266.71,572.62L270.23,572.62L270.23,552.33L274.32,552.33L274.32,548.60L293.50,548.60L293.50,536.51L316.48,536.51L316.48,528.46L327.48,528.46L327.48,524.43L335.09,524.43L335.09,520.25L338.34,520.25" fill="none" stroke="#6acfad" stroke-width="1.1"/>
<line x1="196.50" y1="518.90" x2="196.50" y2="669.80" stroke="#333" stroke-width="1.1" />
<line x1="196.00" y1="669.30" x2="339.30" y2="669.30" stroke="#777" stroke-width="1.2" />
<line x1="192.20" y1="669.30" x2="196.50" y2="669.30" stroke="#444" stroke-width="1.0" />
<text class="n" transform="translate(190.90,673.00) scale(1,1.08)" font-size="7.6" text-anchor="end" font-weight="normal" fill="#111" >0.0</text>
<line x1="192.20" y1="594.70" x2="196.50" y2="594.70" stroke="#444" stroke-width="1.0" />
<text class="n" transform="translate(190.90,598.40) scale(1,1.08)" font-size="7.6" text-anchor="end" font-weight="normal" fill="#111" >0.5</text>
<line x1="192.20" y1="520.10" x2="196.50" y2="520.10" stroke="#444" stroke-width="1.0" />
<text class="n" transform="translate(190.90,523.80) scale(1,1.08)" font-size="7.6" text-anchor="end" font-weight="normal" fill="#111" >1.0</text>
<line x1="197.90" y1="669.30" x2="197.90" y2="672.80" stroke="#444" stroke-width="1.0" />
<text class="n" transform="translate(197.90,680.90) scale(1,1.08)" font-size="7.6" text-anchor="middle" font-weight="normal" fill="#111" >0.0</text>
<line x1="226.10" y1="669.30" x2="226.10" y2="672.80" stroke="#444" stroke-width="1.0" />
<text class="n" transform="translate(226.10,680.90) scale(1,1.08)" font-size="7.6" text-anchor="middle" font-weight="normal" fill="#111" >0.2</text>
<line x1="254.30" y1="669.30" x2="254.30" y2="672.80" stroke="#444" stroke-width="1.0" />
<text class="n" transform="translate(254.30,680.90) scale(1,1.08)" font-size="7.6" text-anchor="middle" font-weight="normal" fill="#111" >0.4</text>
<line x1="282.50" y1="669.30" x2="282.50" y2="672.80" stroke="#444" stroke-width="1.0" />
<text class="n" transform="translate(282.50,680.90) scale(1,1.08)" font-size="7.6" text-anchor="middle" font-weight="normal" fill="#111" >0.6</text>
<line x1="310.70" y1="669.30" x2="310.70" y2="672.80" stroke="#444" stroke-width="1.0" />
<text class="n" transform="translate(310.70,680.90) scale(1,1.08)" font-size="7.6" text-anchor="middle" font-weight="normal" fill="#111" >0.8</text>
<line x1="338.90" y1="669.30" x2="338.90" y2="672.80" stroke="#444" stroke-width="1.0" />
<text class="n" transform="translate(338.90,680.90) scale(1,1.08)" font-size="7.6" text-anchor="middle" font-weight="normal" fill="#111" >1.0</text>
<text class="n" transform="translate(268.10,689.00) scale(1,1.08)" font-size="7.4" text-anchor="middle" font-weight="normal" fill="#111" >1-specificity</text>
<text transform="translate(176.70,594.70) rotate(-90) scale(1,1.08)" class="n" font-size="7.5" text-anchor="middle" fill="#111">Sensitivity</text>
<text class="n" transform="translate(199.90,525.90) scale(1,1.08)" font-size="7.6" text-anchor="start" font-weight="normal" fill="#111" >Mediastinum window</text>
<text class="n" transform="translate(199.90,534.85) scale(1,1.08)" font-size="7.6" text-anchor="start" font-weight="normal" fill="#111" >Internal dataset</text>
<text class="n" transform="translate(199.90,543.80) scale(1,1.08)" font-size="7.6" text-anchor="start" font-weight="normal" fill="#111" >Last model</text>
<rect x="249.20" y="630.70" width="85.8" height="34.6" rx="1.5" fill="#fff" fill-opacity="0.8" stroke="#ebebeb" stroke-width="0.7"/>
<line x1="252.10" y1="636.60" x2="267.60" y2="636.60" stroke="#fb887a" stroke-width="1.2" />
<text class="n" transform="translate(273.70,639.30) scale(1,1.08)" font-size="7.5" text-anchor="start" font-weight="normal" fill="#111" >LCTfound 0.7765</text>
<line x1="252.10" y1="647.70" x2="267.60" y2="647.70" stroke="#93d3f9" stroke-width="1.2" />
<text class="n" transform="translate(273.70,650.40) scale(1,1.08)" font-size="7.5" text-anchor="start" font-weight="normal" fill="#111" >MAE 0.6581</text>
<line x1="252.10" y1="658.30" x2="267.60" y2="658.30" stroke="#6acfad" stroke-width="1.2" />
<text class="n" transform="translate(273.70,661.00) scale(1,1.08)" font-size="7.5" text-anchor="start" font-weight="normal" fill="#111" >ResNet50 0.6399</text>
<text transform="translate(170.10,523.70) scale(1,1.0)" font-size="12.0" text-anchor="start" font-weight="bold" fill="#000" >n</text>
<line x1="368.30" y1="669.30" x2="509.30" y2="520.10" stroke="#808080" stroke-width="1.2" stroke-dasharray="3.2,1.4"/>
<path d="M368.30,669.30L368.30,665.12L371.26,665.12L371.26,656.47L374.36,656.47L374.36,640.21L377.61,640.21L377.61,619.32L380.43,619.32L380.43,611.26L386.77,611.26L386.77,602.76L389.73,602.76L389.73,598.88L393.26,598.88L393.26,594.70L399.60,594.70L399.60,590.97L399.04,592.01L399.04,582.47L405.38,582.47L405.38,578.29L411.45,578.29L411.45,574.11L417.51,574.11L417.51,572.32L420.75,572.32L420.75,566.20L423.43,566.20L423.43,562.17L429.49,562.17L429.49,558.00L433.02,558.00L433.02,553.67L441.06,553.67L442.04,553.67L442.04,549.64L457.41,549.64L457.41,545.46L463.33,545.46L463.33,541.29L466.72,541.29L466.72,536.96L481.95,536.96L481.95,528.46L500.56,528.46L500.56,524.43L506.62,524.43L506.62,520.25L509.30,520.25" fill="none" stroke="#fb887a" stroke-width="1.1"/>
<path d="M368.30,669.30L371.26,669.30L371.26,660.50L374.36,660.50L374.36,648.26L380.43,648.26L380.43,644.23L383.95,644.23L383.95,640.21L386.77,640.21L386.77,632.15L393.26,632.15L393.26,619.32L396.36,619.32L396.36,615.29L402.42,615.29L402.42,611.26L411.73,611.26L411.73,607.23L414.69,607.23L414.69,598.88L429.63,598.88L429.63,590.97L429.49,592.01L429.49,590.52L433.02,590.52L433.02,586.49L437.11,586.49L437.11,582.47L437.67,582.47L445.29,582.47L445.29,557.70L457.41,557.70L457.41,553.67L469.40,553.67L469.40,549.64L475.60,549.64L475.60,533.23L491.25,533.23L491.25,528.46L500.56,528.46L500.56,520.25L509.30,520.25" fill="none" stroke="#93d3f9" stroke-width="1.1"/>
<path d="M368.30,669.30L368.30,656.47L371.26,656.47L371.26,652.29L374.36,652.29L374.36,640.21L377.61,640.21L377.61,611.26L386.77,611.26L386.77,602.76L396.36,602.76L396.36,598.88L405.38,598.88L405.38,594.70L411.73,594.70L411.73,590.97L411.45,592.01L411.45,590.52L414.12,590.52L414.12,586.49L423.43,586.49L423.43,578.29L426.81,578.29L426.81,574.11L433.02,574.11L433.02,566.20L436.12,566.20L436.12,562.17L438.52,562.17L438.52,557.70L438.38,557.70L460.37,557.70L460.37,549.64L469.40,549.64L469.40,541.29L475.60,541.29L475.60,536.96L484.77,536.96L487.44,533.23L497.32,533.23L497.32,528.46L500.56,528.46L500.56,524.43L509.30,524.43L509.30,520.25" fill="none" stroke="#6acfad" stroke-width="1.1"/>
<line x1="367.50" y1="518.90" x2="367.50" y2="669.80" stroke="#333" stroke-width="1.1" />
<line x1="367.00" y1="669.30" x2="509.70" y2="669.30" stroke="#777" stroke-width="1.2" />
<line x1="363.20" y1="669.30" x2="367.50" y2="669.30" stroke="#444" stroke-width="1.0" />
<text class="n" transform="translate(361.30,673.00) scale(1,1.08)" font-size="7.6" text-anchor="end" font-weight="normal" fill="#111" >0.0</text>
<line x1="363.20" y1="594.70" x2="367.50" y2="594.70" stroke="#444" stroke-width="1.0" />
<text class="n" transform="translate(361.30,598.40) scale(1,1.08)" font-size="7.6" text-anchor="end" font-weight="normal" fill="#111" >0.5</text>
<line x1="363.20" y1="520.10" x2="367.50" y2="520.10" stroke="#444" stroke-width="1.0" />
<text class="n" transform="translate(361.30,523.80) scale(1,1.08)" font-size="7.6" text-anchor="end" font-weight="normal" fill="#111" >1.0</text>
<line x1="368.30" y1="669.30" x2="368.30" y2="672.80" stroke="#444" stroke-width="1.0" />
<text class="n" transform="translate(368.30,680.90) scale(1,1.08)" font-size="7.6" text-anchor="middle" font-weight="normal" fill="#111" >0.0</text>
<line x1="396.50" y1="669.30" x2="396.50" y2="672.80" stroke="#444" stroke-width="1.0" />
<text class="n" transform="translate(396.50,680.90) scale(1,1.08)" font-size="7.6" text-anchor="middle" font-weight="normal" fill="#111" >0.2</text>
<line x1="424.70" y1="669.30" x2="424.70" y2="672.80" stroke="#444" stroke-width="1.0" />
<text class="n" transform="translate(424.70,680.90) scale(1,1.08)" font-size="7.6" text-anchor="middle" font-weight="normal" fill="#111" >0.4</text>
<line x1="452.90" y1="669.30" x2="452.90" y2="672.80" stroke="#444" stroke-width="1.0" />
<text class="n" transform="translate(452.90,680.90) scale(1,1.08)" font-size="7.6" text-anchor="middle" font-weight="normal" fill="#111" >0.6</text>
<line x1="481.10" y1="669.30" x2="481.10" y2="672.80" stroke="#444" stroke-width="1.0" />
<text class="n" transform="translate(481.10,680.90) scale(1,1.08)" font-size="7.6" text-anchor="middle" font-weight="normal" fill="#111" >0.8</text>
<line x1="509.30" y1="669.30" x2="509.30" y2="672.80" stroke="#444" stroke-width="1.0" />
<text class="n" transform="translate(509.30,680.90) scale(1,1.08)" font-size="7.6" text-anchor="middle" font-weight="normal" fill="#111" >1.0</text>
<text class="n" transform="translate(438.50,689.00) scale(1,1.08)" font-size="7.4" text-anchor="middle" font-weight="normal" fill="#111" >1-specificity</text>
<text transform="translate(347.10,594.70) rotate(-90) scale(1,1.08)" class="n" font-size="7.5" text-anchor="middle" fill="#111">Sensitivity</text>
<text class="n" transform="translate(369.60,525.90) scale(1,1.08)" font-size="7.6" text-anchor="start" font-weight="normal" fill="#111" >Mediastinum window</text>
<text class="n" transform="translate(369.60,534.85) scale(1,1.08)" font-size="7.6" text-anchor="start" font-weight="normal" fill="#111" >External dataset</text>
<text class="n" transform="translate(369.60,543.80) scale(1,1.08)" font-size="7.6" text-anchor="start" font-weight="normal" fill="#111" >Best model</text>
<rect x="419.60" y="630.70" width="85.8" height="34.6" rx="1.5" fill="#fff" fill-opacity="0.8" stroke="#ebebeb" stroke-width="0.7"/>
<line x1="422.50" y1="636.60" x2="438.00" y2="636.60" stroke="#fb887a" stroke-width="1.2" />
<text class="n" transform="translate(444.10,639.30) scale(1,1.08)" font-size="7.5" text-anchor="start" font-weight="normal" fill="#111" >LCTfound 0.7062</text>
<line x1="422.50" y1="647.70" x2="438.00" y2="647.70" stroke="#93d3f9" stroke-width="1.2" />
<text class="n" transform="translate(444.10,650.40) scale(1,1.08)" font-size="7.5" text-anchor="start" font-weight="normal" fill="#111" >MAE 0.5894</text>
<line x1="422.50" y1="658.30" x2="438.00" y2="658.30" stroke="#6acfad" stroke-width="1.2" />
<text class="n" transform="translate(444.10,661.00) scale(1,1.08)" font-size="7.5" text-anchor="start" font-weight="normal" fill="#111" >ResNet50 0.6603</text>
<text transform="translate(340.50,523.70) scale(1,1.0)" font-size="12.0" text-anchor="start" font-weight="bold" fill="#000" >o</text>
<line x1="538.70" y1="669.30" x2="679.70" y2="520.10" stroke="#808080" stroke-width="1.2" stroke-dasharray="3.2,1.4"/>
<path d="M538.56,669.30L538.56,665.12L541.80,665.12L541.80,656.47L545.33,656.47L545.33,644.23L548.15,644.23L548.15,619.32L551.11,619.32L551.11,611.26L557.45,611.26L557.45,594.40L569.58,594.40L569.58,590.97L569.44,592.01L569.44,582.47L575.36,582.47L575.36,578.29L581.42,578.29L581.42,574.11L584.24,574.11L584.24,570.68L587.49,570.68L587.49,566.20L593.55,566.20L593.55,561.73L600.04,561.73L600.04,557.70L603.28,557.70L603.28,549.34L611.03,549.34L627.39,549.34L627.39,545.61L633.88,545.61L633.88,541.58L639.94,541.58L639.94,536.96L651.92,536.96L651.92,528.46L667.29,528.46L667.29,524.43L676.03,524.43L676.03,520.25L679.42,520.25" fill="none" stroke="#fb887a" stroke-width="1.1"/>
<path d="M538.56,669.30L538.56,652.29L545.33,652.29L545.33,640.21L551.11,640.21L551.11,636.18L557.45,636.18L557.45,632.15L560.27,632.15L560.27,619.32L566.62,619.32L566.62,615.29L575.92,615.29L575.92,611.26L578.88,611.26L578.88,607.23L581.71,607.23L581.71,602.76L591.01,602.76L591.01,590.97L590.73,592.01L590.73,586.49L593.97,586.49L593.97,570.38L603.28,570.38L603.28,566.20L609.20,566.20L609.20,561.73L609.34,561.73L615.26,561.73L615.26,557.70L618.65,557.70L618.65,549.34L624.57,549.34L624.57,545.61L630.63,545.61L630.63,541.58L646.57,541.58L646.57,536.96L655.87,536.96L655.87,532.48L658.55,532.48L658.55,528.46L673.36,528.46L673.36,524.43L677.16,524.43L677.16,520.25L679.42,520.25" fill="none" stroke="#93d3f9" stroke-width="1.1"/>
<path d="M538.56,669.30L538.56,665.12L541.80,665.12L541.80,656.47L545.33,656.47L545.33,644.23L548.15,644.23L548.15,623.35L554.49,623.35L554.49,615.29L557.45,615.29L557.45,602.76L569.58,602.76L569.58,598.88L578.60,598.88L578.60,594.70L581.71,594.70L581.71,590.97L581.42,592.01L581.42,586.49L596.79,586.49L596.79,578.29L600.04,578.29L600.04,570.38L603.28,570.38L603.28,566.20L611.03,566.20L621.33,565.76L621.33,561.73L627.39,561.73L627.39,557.70L630.63,557.70L630.63,545.61L643.18,545.61L643.18,541.58L649.81,541.58L649.81,536.96L655.87,536.96L655.87,532.48L673.92,532.48L673.92,528.46L677.16,528.46L677.16,524.43L679.42,524.43L679.42,520.25" fill="none" stroke="#6acfad" stroke-width="1.1"/>
<line x1="537.50" y1="518.90" x2="537.50" y2="669.80" stroke="#333" stroke-width="1.1" />
<line x1="537.00" y1="669.30" x2="680.10" y2="669.30" stroke="#777" stroke-width="1.2" />
<line x1="533.20" y1="669.30" x2="537.50" y2="669.30" stroke="#444" stroke-width="1.0" />
<text class="n" transform="translate(531.70,673.00) scale(1,1.08)" font-size="7.6" text-anchor="end" font-weight="normal" fill="#111" >0.0</text>
<line x1="533.20" y1="594.70" x2="537.50" y2="594.70" stroke="#444" stroke-width="1.0" />
<text class="n" transform="translate(531.70,598.40) scale(1,1.08)" font-size="7.6" text-anchor="end" font-weight="normal" fill="#111" >0.5</text>
<line x1="533.20" y1="520.10" x2="537.50" y2="520.10" stroke="#444" stroke-width="1.0" />
<text class="n" transform="translate(531.70,523.80) scale(1,1.08)" font-size="7.6" text-anchor="end" font-weight="normal" fill="#111" >1.0</text>
<line x1="538.70" y1="669.30" x2="538.70" y2="672.80" stroke="#444" stroke-width="1.0" />
<text class="n" transform="translate(538.70,680.90) scale(1,1.08)" font-size="7.6" text-anchor="middle" font-weight="normal" fill="#111" >0.0</text>
<line x1="566.90" y1="669.30" x2="566.90" y2="672.80" stroke="#444" stroke-width="1.0" />
<text class="n" transform="translate(566.90,680.90) scale(1,1.08)" font-size="7.6" text-anchor="middle" font-weight="normal" fill="#111" >0.2</text>
<line x1="595.10" y1="669.30" x2="595.10" y2="672.80" stroke="#444" stroke-width="1.0" />
<text class="n" transform="translate(595.10,680.90) scale(1,1.08)" font-size="7.6" text-anchor="middle" font-weight="normal" fill="#111" >0.4</text>
<line x1="623.30" y1="669.30" x2="623.30" y2="672.80" stroke="#444" stroke-width="1.0" />
<text class="n" transform="translate(623.30,680.90) scale(1,1.08)" font-size="7.6" text-anchor="middle" font-weight="normal" fill="#111" >0.6</text>
<line x1="651.50" y1="669.30" x2="651.50" y2="672.80" stroke="#444" stroke-width="1.0" />
<text class="n" transform="translate(651.50,680.90) scale(1,1.08)" font-size="7.6" text-anchor="middle" font-weight="normal" fill="#111" >0.8</text>
<line x1="679.70" y1="669.30" x2="679.70" y2="672.80" stroke="#444" stroke-width="1.0" />
<text class="n" transform="translate(679.70,680.90) scale(1,1.08)" font-size="7.6" text-anchor="middle" font-weight="normal" fill="#111" >1.0</text>
<text class="n" transform="translate(608.90,689.00) scale(1,1.08)" font-size="7.4" text-anchor="middle" font-weight="normal" fill="#111" >1-specificity</text>
<text transform="translate(517.50,594.70) rotate(-90) scale(1,1.08)" class="n" font-size="7.5" text-anchor="middle" fill="#111">Sensitivity</text>
<text class="n" transform="translate(541.70,525.90) scale(1,1.08)" font-size="7.6" text-anchor="start" font-weight="normal" fill="#111" >Mediastinum window</text>
<text class="n" transform="translate(541.70,534.85) scale(1,1.08)" font-size="7.6" text-anchor="start" font-weight="normal" fill="#111" >External dataset</text>
<text class="n" transform="translate(541.70,543.80) scale(1,1.08)" font-size="7.6" text-anchor="start" font-weight="normal" fill="#111" >Last model</text>
<rect x="590.00" y="630.70" width="85.8" height="34.6" rx="1.5" fill="#fff" fill-opacity="0.8" stroke="#ebebeb" stroke-width="0.7"/>
<line x1="592.90" y1="636.60" x2="608.40" y2="636.60" stroke="#fb887a" stroke-width="1.2" />
<text class="n" transform="translate(614.50,639.30) scale(1,1.08)" font-size="7.5" text-anchor="start" font-weight="normal" fill="#111" >LCTfound 0.7107</text>
<line x1="592.90" y1="647.70" x2="608.40" y2="647.70" stroke="#93d3f9" stroke-width="1.2" />
<text class="n" transform="translate(614.50,650.40) scale(1,1.08)" font-size="7.5" text-anchor="start" font-weight="normal" fill="#111" >MAE 0.6335</text>
<line x1="592.90" y1="658.30" x2="608.40" y2="658.30" stroke="#6acfad" stroke-width="1.2" />
<text class="n" transform="translate(614.50,661.00) scale(1,1.08)" font-size="7.5" text-anchor="start" font-weight="normal" fill="#111" >ResNet50 0.6437</text>
<text transform="translate(510.90,523.70) scale(1,1.0)" font-size="12.0" text-anchor="start" font-weight="bold" fill="#000" >p</text>
</g>
</svg>
</body></html>
